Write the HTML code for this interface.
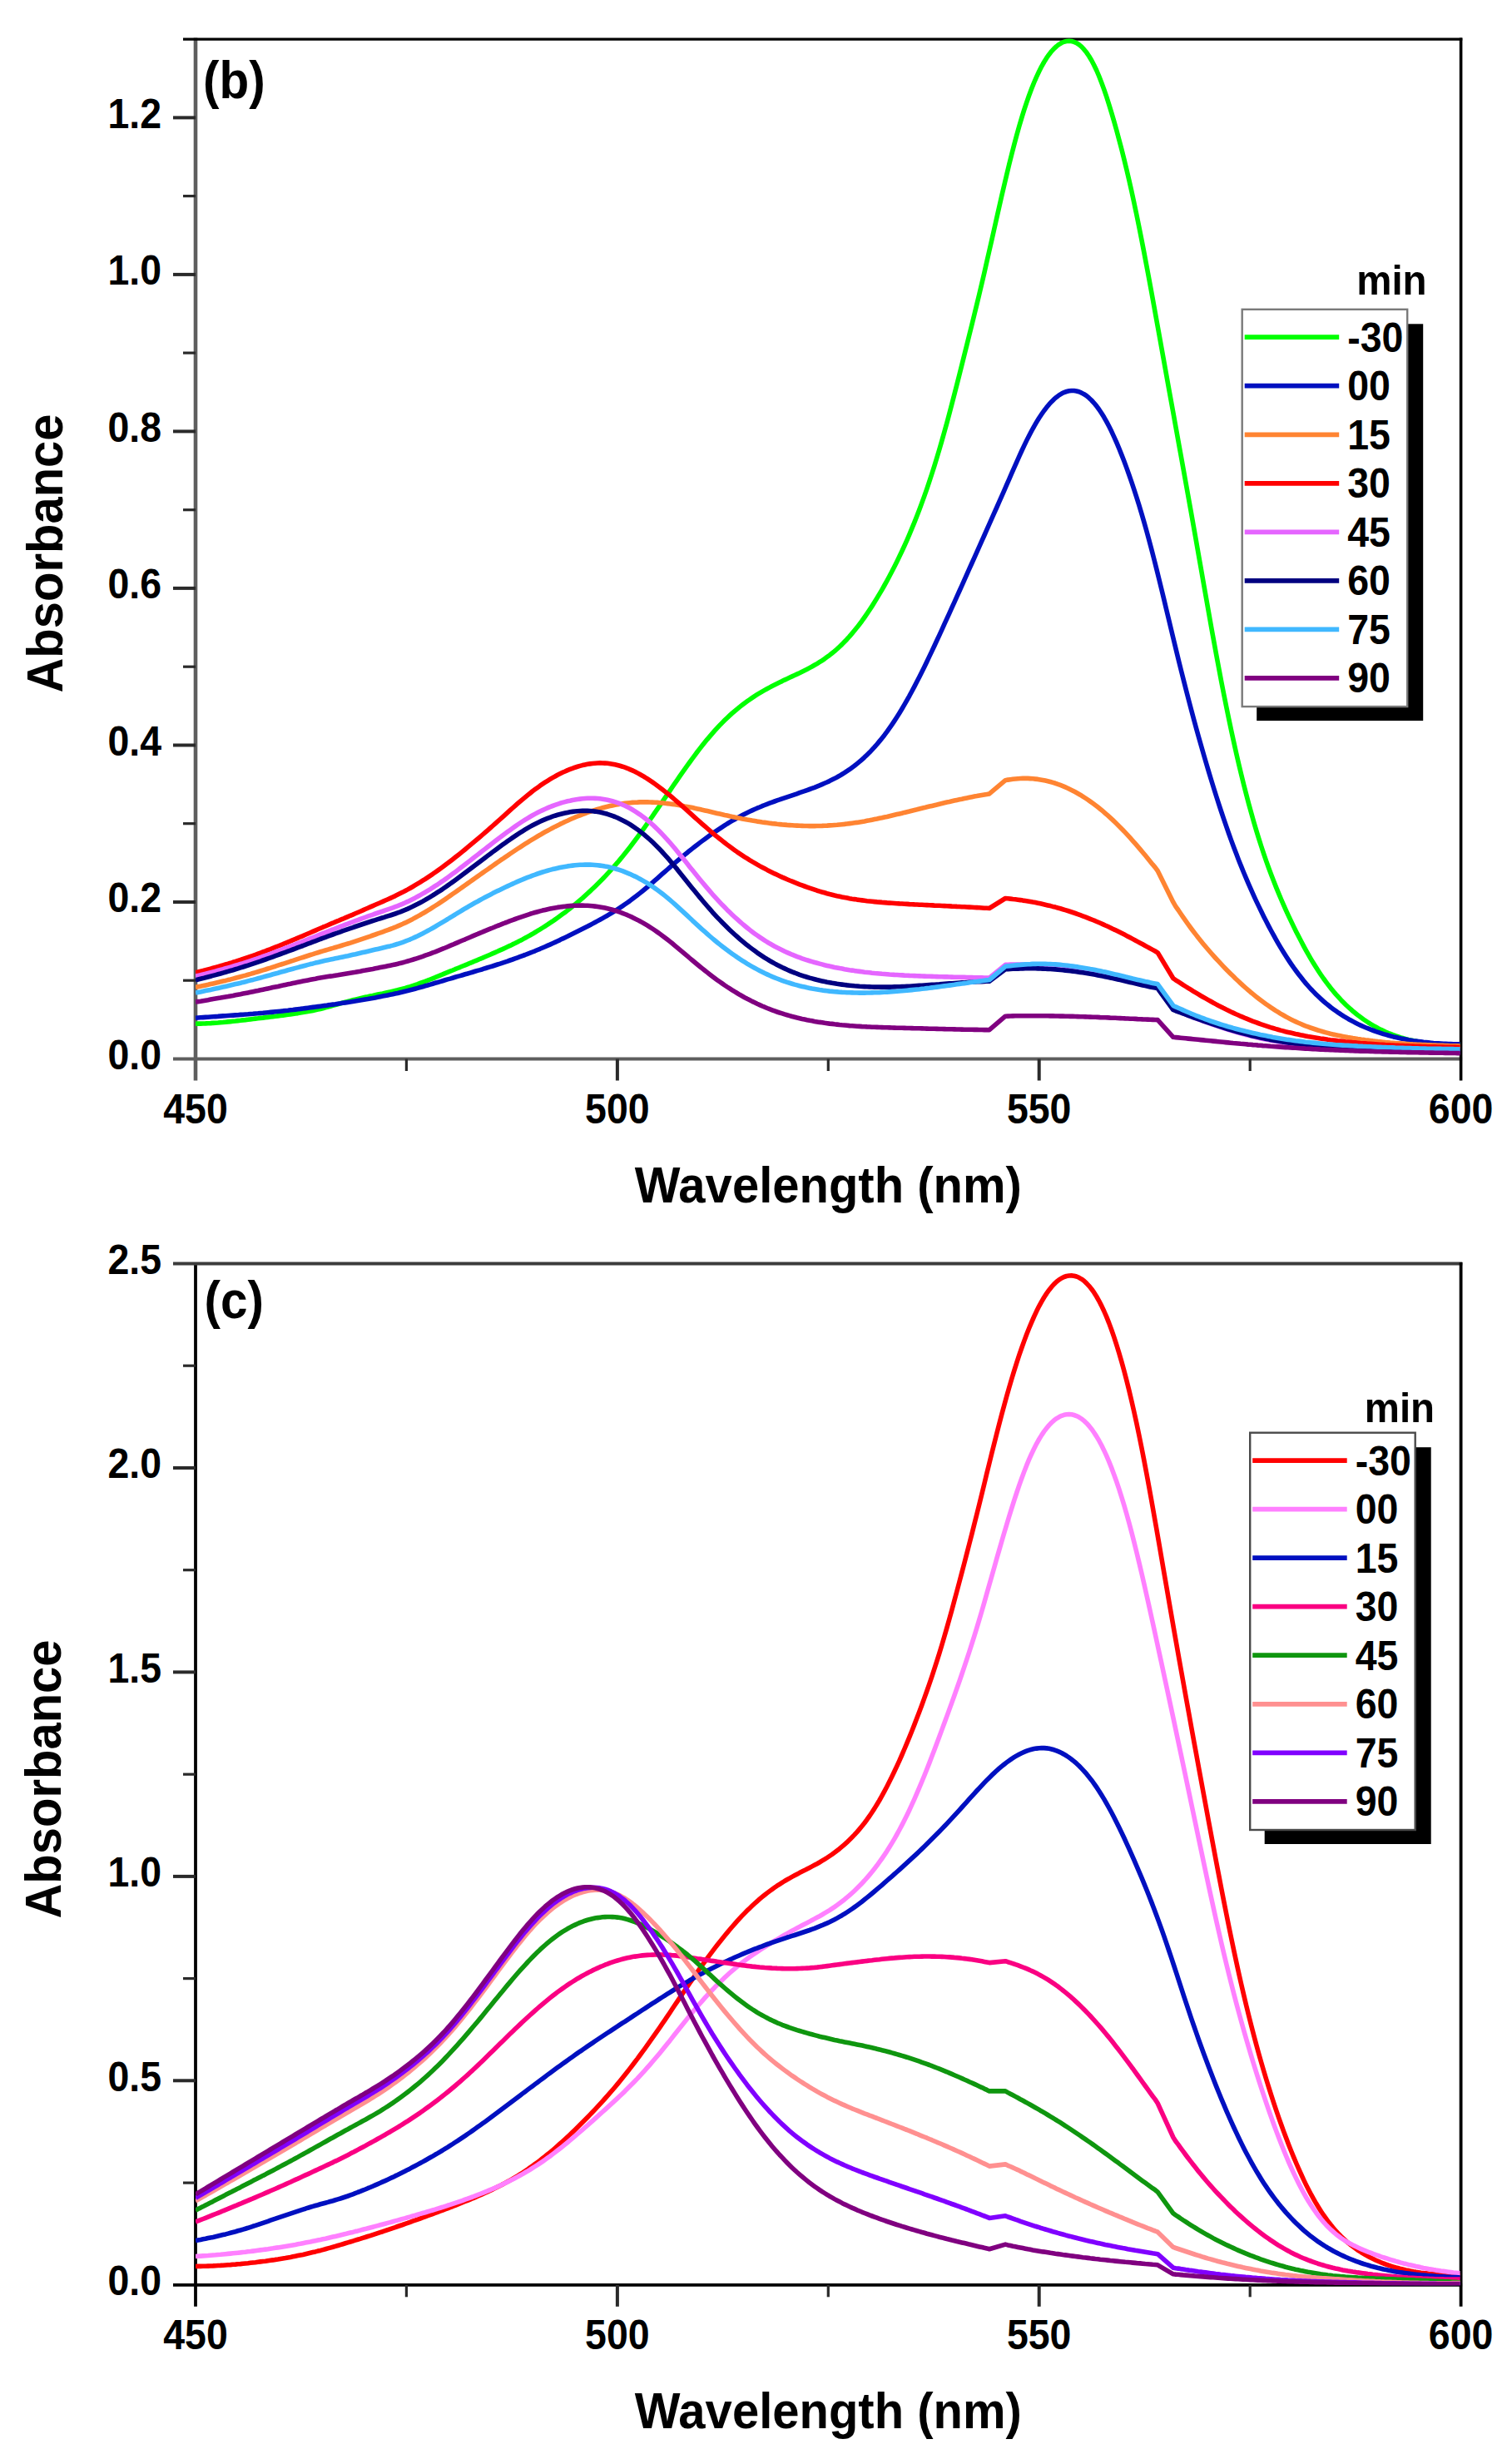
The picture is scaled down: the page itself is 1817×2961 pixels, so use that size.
<!DOCTYPE html>
<html><head><meta charset="utf-8"><title>Absorbance spectra</title>
<style>html,body{margin:0;padding:0;background:#fff}svg{display:block}text{fill:#000}</style></head>
<body>
<svg width="1817" height="2961" viewBox="0 0 1817 2961" font-family="Liberation Sans, Arial, Helvetica, sans-serif" font-weight="bold">
<rect width="1817" height="2961" fill="#fff"/>
<clipPath id="clipb"><rect x="235.0" y="45.6" width="1519.6" height="1227.4"/></clipPath>
<line x1="235.0" y1="45.6" x2="235.0" y2="1298.5" stroke="#5e5e5e" stroke-width="4.6"/>
<line x1="208.0" y1="1272.5" x2="1757.1" y2="1272.5" stroke="#5e5e5e" stroke-width="4.2"/>
<line x1="220.0" y1="47.1" x2="1757.3" y2="47.1" stroke="#000" stroke-width="3.2"/>
<line x1="1755.6" y1="45.6" x2="1755.6" y2="1298.5" stroke="#000" stroke-width="3.6"/>
<text transform="translate(194.0 1284.8) scale(1 1.065)" font-size="46.5" text-anchor="end">0.0</text>
<line x1="208.0" y1="1084.0" x2="235.0" y2="1084.0" stroke="#2a2a2a" stroke-width="4"/>
<text transform="translate(194.0 1096.3) scale(1 1.065)" font-size="46.5" text-anchor="end">0.2</text>
<line x1="208.0" y1="895.5" x2="235.0" y2="895.5" stroke="#2a2a2a" stroke-width="4"/>
<text transform="translate(194.0 907.8) scale(1 1.065)" font-size="46.5" text-anchor="end">0.4</text>
<line x1="208.0" y1="706.9" x2="235.0" y2="706.9" stroke="#2a2a2a" stroke-width="4"/>
<text transform="translate(194.0 719.2) scale(1 1.065)" font-size="46.5" text-anchor="end">0.6</text>
<line x1="208.0" y1="518.4" x2="235.0" y2="518.4" stroke="#2a2a2a" stroke-width="4"/>
<text transform="translate(194.0 530.7) scale(1 1.065)" font-size="46.5" text-anchor="end">0.8</text>
<line x1="208.0" y1="329.9" x2="235.0" y2="329.9" stroke="#2a2a2a" stroke-width="4"/>
<text transform="translate(194.0 342.2) scale(1 1.065)" font-size="46.5" text-anchor="end">1.0</text>
<line x1="208.0" y1="141.4" x2="235.0" y2="141.4" stroke="#2a2a2a" stroke-width="4"/>
<text transform="translate(194.0 153.7) scale(1 1.065)" font-size="46.5" text-anchor="end">1.2</text>
<line x1="220.0" y1="1178.2" x2="235.0" y2="1178.2" stroke="#2a2a2a" stroke-width="3.2"/>
<line x1="220.0" y1="989.7" x2="235.0" y2="989.7" stroke="#2a2a2a" stroke-width="3.2"/>
<line x1="220.0" y1="801.2" x2="235.0" y2="801.2" stroke="#2a2a2a" stroke-width="3.2"/>
<line x1="220.0" y1="612.7" x2="235.0" y2="612.7" stroke="#2a2a2a" stroke-width="3.2"/>
<line x1="220.0" y1="424.1" x2="235.0" y2="424.1" stroke="#2a2a2a" stroke-width="3.2"/>
<line x1="220.0" y1="235.6" x2="235.0" y2="235.6" stroke="#2a2a2a" stroke-width="3.2"/>
<line x1="741.9" y1="1272.5" x2="741.9" y2="1298.5" stroke="#2a2a2a" stroke-width="4"/>
<line x1="1248.7" y1="1272.5" x2="1248.7" y2="1298.5" stroke="#2a2a2a" stroke-width="4"/>
<line x1="488.4" y1="1272.5" x2="488.4" y2="1287.0" stroke="#2a2a2a" stroke-width="3.2"/>
<line x1="995.3" y1="1272.5" x2="995.3" y2="1287.0" stroke="#2a2a2a" stroke-width="3.2"/>
<line x1="1502.2" y1="1272.5" x2="1502.2" y2="1287.0" stroke="#2a2a2a" stroke-width="3.2"/>
<text transform="translate(235.0 1349.5) scale(1 1.065)" font-size="46.5" text-anchor="middle">450</text>
<text transform="translate(741.9 1349.5) scale(1 1.065)" font-size="46.5" text-anchor="middle">500</text>
<text transform="translate(1248.7 1349.5) scale(1 1.065)" font-size="46.5" text-anchor="middle">550</text>
<text transform="translate(1755.6 1349.5) scale(1 1.065)" font-size="46.5" text-anchor="middle">600</text>
<g clip-path="url(#clipb)" fill="none" stroke-width="5.6" stroke-linejoin="round" stroke-linecap="butt">
<path d="M235.0 1230.2 L238.0 1230.1 L241.0 1230.1 L244.0 1230.0 L247.0 1229.9 L250.0 1229.7 L253.0 1229.6 L256.0 1229.4 L259.0 1229.2 L262.0 1229.0 L265.0 1228.7 L268.0 1228.5 L271.0 1228.2 L274.0 1227.9 L277.0 1227.6 L280.0 1227.3 L283.0 1227.0 L286.0 1226.6 L289.0 1226.3 L292.0 1225.9 L295.0 1225.6 L298.0 1225.2 L301.0 1224.9 L304.0 1224.5 L307.0 1224.1 L310.0 1223.8 L313.0 1223.4 L316.0 1223.1 L319.0 1222.7 L322.0 1222.4 L325.0 1222.0 L328.0 1221.6 L331.0 1221.3 L334.0 1220.9 L337.0 1220.5 L340.0 1220.1 L343.0 1219.7 L346.0 1219.3 L349.0 1218.9 L352.0 1218.5 L355.0 1218.0 L358.0 1217.6 L361.0 1217.1 L364.0 1216.6 L367.0 1216.1 L370.0 1215.5 L373.0 1215.0 L376.0 1214.4 L379.0 1213.8 L382.0 1213.1 L385.0 1212.4 L388.0 1211.7 L391.0 1210.9 L394.0 1210.1 L397.0 1209.3 L400.0 1208.4 L403.0 1207.6 L406.0 1206.7 L409.0 1205.9 L412.0 1205.0 L415.0 1204.2 L418.0 1203.4 L421.0 1202.6 L424.0 1201.8 L426.9 1201.1 L429.9 1200.4 L432.9 1199.7 L435.9 1199.0 L438.9 1198.3 L441.9 1197.7 L444.9 1197.0 L447.9 1196.4 L450.9 1195.7 L453.9 1195.1 L456.9 1194.5 L459.9 1193.9 L462.9 1193.2 L465.9 1192.6 L468.9 1191.9 L471.9 1191.2 L474.9 1190.5 L477.9 1189.8 L480.9 1189.0 L483.9 1188.2 L486.9 1187.4 L489.9 1186.5 L492.9 1185.6 L495.9 1184.6 L498.9 1183.6 L501.9 1182.6 L504.9 1181.5 L507.9 1180.4 L510.9 1179.3 L513.9 1178.2 L516.9 1177.0 L519.9 1175.8 L522.9 1174.6 L525.9 1173.3 L528.9 1172.1 L531.9 1170.9 L534.9 1169.6 L537.9 1168.4 L540.9 1167.2 L543.9 1166.0 L546.9 1164.7 L549.9 1163.5 L552.9 1162.3 L555.9 1161.0 L558.9 1159.8 L561.9 1158.6 L564.9 1157.3 L567.9 1156.1 L570.9 1154.8 L573.9 1153.6 L576.9 1152.3 L579.9 1151.1 L582.9 1149.8 L585.9 1148.5 L588.9 1147.2 L591.9 1145.9 L594.9 1144.6 L597.9 1143.3 L600.9 1141.9 L603.9 1140.6 L606.9 1139.2 L609.9 1137.8 L612.9 1136.4 L615.9 1134.9 L618.9 1133.5 L621.9 1132.0 L624.9 1130.4 L627.9 1128.9 L630.9 1127.3 L633.9 1125.6 L636.9 1124.0 L639.9 1122.3 L642.9 1120.5 L645.9 1118.7 L648.9 1116.9 L651.9 1115.0 L654.9 1113.1 L657.9 1111.2 L660.9 1109.2 L663.9 1107.2 L666.9 1105.1 L669.9 1103.0 L672.9 1100.8 L675.9 1098.6 L678.9 1096.4 L681.9 1094.1 L684.9 1091.7 L687.9 1089.3 L690.9 1086.9 L693.9 1084.4 L696.9 1081.8 L699.9 1079.3 L702.9 1076.6 L705.9 1073.9 L708.9 1071.1 L711.9 1068.3 L714.9 1065.4 L717.9 1062.5 L720.9 1059.5 L723.9 1056.5 L726.9 1053.3 L729.9 1050.1 L732.9 1046.9 L735.9 1043.5 L738.9 1040.1 L741.9 1036.7 L744.9 1033.1 L747.9 1029.5 L750.9 1025.8 L753.9 1022.0 L756.9 1018.2 L759.9 1014.3 L762.9 1010.3 L765.9 1006.3 L768.9 1002.2 L771.9 998.1 L774.9 993.9 L777.9 989.6 L780.9 985.4 L783.9 981.1 L786.9 976.7 L789.9 972.4 L792.9 968.0 L795.9 963.6 L798.9 959.2 L801.9 954.8 L804.9 950.4 L807.8 946.0 L810.8 941.6 L813.8 937.3 L816.8 932.9 L819.8 928.6 L822.8 924.4 L825.8 920.1 L828.8 916.0 L831.8 911.9 L834.8 907.8 L837.8 903.8 L840.8 899.9 L843.8 896.1 L846.8 892.3 L849.8 888.6 L852.8 885.1 L855.8 881.6 L858.8 878.2 L861.8 874.9 L864.8 871.7 L867.8 868.6 L870.8 865.6 L873.8 862.7 L876.8 859.9 L879.8 857.2 L882.8 854.6 L885.8 852.1 L888.8 849.6 L891.8 847.3 L894.8 845.0 L897.8 842.8 L900.8 840.7 L903.8 838.6 L906.8 836.6 L909.8 834.7 L912.8 832.9 L915.8 831.1 L918.8 829.4 L921.8 827.7 L924.8 826.1 L927.8 824.5 L930.8 823.0 L933.8 821.5 L936.8 820.0 L939.8 818.6 L942.8 817.1 L945.8 815.7 L948.8 814.3 L951.8 812.9 L954.8 811.5 L957.8 810.1 L960.8 808.7 L963.8 807.2 L966.8 805.7 L969.8 804.2 L972.8 802.6 L975.8 801.0 L978.8 799.3 L981.8 797.6 L984.8 795.7 L987.8 793.8 L990.8 791.8 L993.8 789.6 L996.8 787.4 L999.8 785.0 L1002.8 782.6 L1005.8 780.0 L1008.8 777.2 L1011.8 774.4 L1014.8 771.3 L1017.8 768.2 L1020.8 764.9 L1023.8 761.4 L1026.8 757.8 L1029.8 754.1 L1032.8 750.2 L1035.8 746.2 L1038.8 742.0 L1041.8 737.6 L1044.8 733.2 L1047.8 728.6 L1050.8 723.8 L1053.8 718.9 L1056.8 713.9 L1059.8 708.8 L1062.8 703.5 L1065.8 698.1 L1068.8 692.5 L1071.8 686.8 L1074.8 681.0 L1077.8 675.0 L1080.8 668.8 L1083.8 662.5 L1086.8 656.0 L1089.8 649.3 L1092.8 642.3 L1095.8 635.2 L1098.8 627.9 L1101.8 620.3 L1104.8 612.5 L1107.8 604.4 L1110.8 596.1 L1113.8 587.6 L1116.8 578.7 L1119.8 569.5 L1122.8 560.1 L1125.8 550.3 L1128.8 540.3 L1131.8 529.9 L1134.8 519.3 L1137.8 508.4 L1140.8 497.2 L1143.8 485.8 L1146.8 474.2 L1149.8 462.5 L1152.8 450.7 L1155.8 438.7 L1158.8 426.8 L1161.8 414.8 L1164.8 402.7 L1167.8 390.6 L1170.8 378.4 L1173.8 366.0 L1176.8 353.6 L1179.8 340.9 L1182.8 328.1 L1185.7 315.2 L1188.7 302.0 L1191.7 288.8 L1194.7 275.5 L1197.7 262.1 L1200.7 248.9 L1203.7 235.7 L1206.7 222.8 L1209.7 210.1 L1212.7 197.7 L1215.7 185.6 L1218.7 174.0 L1221.7 162.8 L1224.7 152.1 L1227.7 141.9 L1230.7 132.2 L1233.7 123.1 L1236.7 114.5 L1239.7 106.5 L1242.7 99.0 L1245.7 92.1 L1248.7 85.7 L1251.7 79.8 L1254.7 74.5 L1257.7 69.7 L1260.7 65.4 L1263.7 61.6 L1266.7 58.4 L1269.7 55.6 L1272.7 53.3 L1275.7 51.5 L1278.7 50.2 L1281.7 49.5 L1284.7 49.2 L1287.7 49.5 L1290.7 50.4 L1293.7 51.7 L1296.7 53.7 L1299.7 56.2 L1302.7 59.4 L1305.7 63.1 L1308.7 67.5 L1311.7 72.5 L1314.7 78.2 L1317.7 84.5 L1320.7 91.5 L1323.7 99.2 L1326.7 107.4 L1329.7 116.2 L1332.7 125.6 L1335.7 135.4 L1338.7 145.6 L1341.7 156.3 L1344.7 167.4 L1347.7 178.8 L1350.7 190.8 L1353.7 203.1 L1356.7 215.9 L1359.7 229.2 L1362.7 243.0 L1365.7 257.3 L1368.7 272.0 L1371.7 287.1 L1374.7 302.6 L1377.7 318.4 L1380.7 334.5 L1383.7 350.8 L1386.7 367.3 L1389.7 383.9 L1392.7 400.5 L1395.7 417.2 L1398.7 434.0 L1401.7 450.7 L1404.7 467.4 L1407.7 484.0 L1410.7 500.6 L1413.7 517.3 L1416.7 533.9 L1419.7 550.5 L1422.7 567.2 L1425.7 583.9 L1428.7 600.7 L1431.7 617.6 L1434.7 634.6 L1437.7 651.6 L1440.7 668.7 L1443.7 685.8 L1446.7 703.0 L1449.7 720.1 L1452.7 737.1 L1455.7 753.9 L1458.7 770.6 L1461.7 787.0 L1464.7 803.1 L1467.7 818.9 L1470.7 834.3 L1473.7 849.3 L1476.7 863.9 L1479.7 878.1 L1482.7 891.9 L1485.7 905.3 L1488.7 918.3 L1491.7 930.9 L1494.7 943.1 L1497.7 954.8 L1500.7 966.2 L1503.7 977.1 L1506.7 987.7 L1509.7 997.9 L1512.7 1007.6 L1515.7 1017.0 L1518.7 1026.1 L1521.7 1034.8 L1524.7 1043.2 L1527.7 1051.2 L1530.7 1059.0 L1533.7 1066.6 L1536.7 1073.9 L1539.7 1081.0 L1542.7 1087.9 L1545.7 1094.6 L1548.7 1101.1 L1551.7 1107.4 L1554.7 1113.6 L1557.7 1119.7 L1560.7 1125.6 L1563.7 1131.3 L1566.6 1136.9 L1569.6 1142.4 L1572.6 1147.7 L1575.6 1152.8 L1578.6 1157.8 L1581.6 1162.6 L1584.6 1167.2 L1587.6 1171.7 L1590.6 1176.0 L1593.6 1180.1 L1596.6 1184.1 L1599.6 1187.9 L1602.6 1191.6 L1605.6 1195.1 L1608.6 1198.4 L1611.6 1201.7 L1614.6 1204.7 L1617.6 1207.7 L1620.6 1210.5 L1623.6 1213.2 L1626.6 1215.8 L1629.6 1218.2 L1632.6 1220.6 L1635.6 1222.8 L1638.6 1225.0 L1641.6 1227.0 L1644.6 1229.0 L1647.6 1230.8 L1650.6 1232.6 L1653.6 1234.3 L1656.6 1235.9 L1659.6 1237.4 L1662.6 1238.8 L1665.6 1240.2 L1668.6 1241.5 L1671.6 1242.7 L1674.6 1243.8 L1677.6 1244.9 L1680.6 1245.9 L1683.6 1246.9 L1686.6 1247.8 L1689.6 1248.6 L1692.6 1249.4 L1695.6 1250.1 L1698.6 1250.7 L1701.6 1251.3 L1704.6 1251.9 L1707.6 1252.4 L1710.6 1252.9 L1713.6 1253.3 L1716.6 1253.7 L1719.6 1254.0 L1722.6 1254.3 L1725.6 1254.6 L1728.6 1254.8 L1731.6 1255.0 L1734.6 1255.1 L1737.6 1255.2 L1740.6 1255.3 L1743.6 1255.4 L1746.6 1255.4 L1749.6 1255.3 L1752.6 1255.3 L1755.6 1255.2" stroke="#00ff00"/>
<path d="M235.0 1223.3 L238.0 1223.0 L241.0 1222.8 L244.0 1222.6 L247.0 1222.4 L250.0 1222.2 L253.0 1222.0 L256.0 1221.8 L259.0 1221.6 L262.0 1221.4 L265.0 1221.1 L268.0 1220.9 L271.0 1220.7 L274.0 1220.5 L277.0 1220.3 L280.0 1220.1 L283.0 1219.9 L286.0 1219.7 L289.0 1219.4 L292.0 1219.2 L295.0 1219.0 L298.0 1218.8 L301.0 1218.5 L304.0 1218.3 L307.0 1218.0 L310.0 1217.8 L313.0 1217.5 L316.0 1217.3 L319.0 1217.0 L322.0 1216.7 L325.0 1216.4 L328.0 1216.1 L331.0 1215.8 L334.0 1215.5 L337.0 1215.2 L340.0 1214.9 L343.0 1214.5 L346.0 1214.2 L349.0 1213.8 L352.0 1213.5 L355.0 1213.1 L358.0 1212.7 L361.0 1212.4 L364.0 1212.0 L367.0 1211.6 L370.0 1211.2 L373.0 1210.8 L376.0 1210.4 L379.0 1210.0 L382.0 1209.6 L385.0 1209.2 L388.0 1208.8 L391.0 1208.4 L394.0 1207.9 L397.0 1207.5 L400.0 1207.1 L403.0 1206.7 L406.0 1206.2 L409.0 1205.8 L412.0 1205.3 L415.0 1204.9 L418.0 1204.4 L421.0 1204.0 L424.0 1203.5 L426.9 1203.0 L429.9 1202.5 L432.9 1202.0 L435.9 1201.5 L438.9 1201.0 L441.9 1200.5 L444.9 1199.9 L447.9 1199.4 L450.9 1198.9 L453.9 1198.3 L456.9 1197.7 L459.9 1197.1 L462.9 1196.5 L465.9 1195.9 L468.9 1195.3 L471.9 1194.7 L474.9 1194.0 L477.9 1193.4 L480.9 1192.7 L483.9 1192.0 L486.9 1191.2 L489.9 1190.5 L492.9 1189.7 L495.9 1189.0 L498.9 1188.2 L501.9 1187.4 L504.9 1186.5 L507.9 1185.7 L510.9 1184.8 L513.9 1184.0 L516.9 1183.1 L519.9 1182.2 L522.9 1181.3 L525.9 1180.5 L528.9 1179.6 L531.9 1178.7 L534.9 1177.8 L537.9 1176.9 L540.9 1176.1 L543.9 1175.2 L546.9 1174.3 L549.9 1173.4 L552.9 1172.6 L555.9 1171.7 L558.9 1170.8 L561.9 1170.0 L564.9 1169.1 L567.9 1168.2 L570.9 1167.3 L573.9 1166.4 L576.9 1165.6 L579.9 1164.7 L582.9 1163.7 L585.9 1162.8 L588.9 1161.9 L591.9 1161.0 L594.9 1160.0 L597.9 1159.0 L600.9 1158.1 L603.9 1157.1 L606.9 1156.1 L609.9 1155.1 L612.9 1154.0 L615.9 1153.0 L618.9 1151.9 L621.9 1150.8 L624.9 1149.7 L627.9 1148.6 L630.9 1147.5 L633.9 1146.3 L636.9 1145.2 L639.9 1144.0 L642.9 1142.8 L645.9 1141.5 L648.9 1140.3 L651.9 1139.0 L654.9 1137.7 L657.9 1136.4 L660.9 1135.1 L663.9 1133.7 L666.9 1132.4 L669.9 1131.0 L672.9 1129.6 L675.9 1128.1 L678.9 1126.7 L681.9 1125.3 L684.9 1123.8 L687.9 1122.3 L690.9 1120.8 L693.9 1119.3 L696.9 1117.8 L699.9 1116.3 L702.9 1114.8 L705.9 1113.3 L708.9 1111.7 L711.9 1110.1 L714.9 1108.5 L717.9 1106.9 L720.9 1105.3 L723.9 1103.6 L726.9 1101.9 L729.9 1100.2 L732.9 1098.4 L735.9 1096.6 L738.9 1094.7 L741.9 1092.8 L744.9 1090.9 L747.9 1088.9 L750.9 1086.8 L753.9 1084.7 L756.9 1082.6 L759.9 1080.3 L762.9 1078.1 L765.9 1075.8 L768.9 1073.4 L771.9 1071.0 L774.9 1068.5 L777.9 1066.0 L780.9 1063.4 L783.9 1060.8 L786.9 1058.2 L789.9 1055.6 L792.9 1052.9 L795.9 1050.2 L798.9 1047.6 L801.9 1045.0 L804.9 1042.3 L807.8 1039.7 L810.8 1037.2 L813.8 1034.6 L816.8 1032.1 L819.8 1029.6 L822.8 1027.1 L825.8 1024.7 L828.8 1022.2 L831.8 1019.9 L834.8 1017.5 L837.8 1015.2 L840.8 1012.9 L843.8 1010.6 L846.8 1008.4 L849.8 1006.2 L852.8 1004.0 L855.8 1001.9 L858.8 999.8 L861.8 997.8 L864.8 995.8 L867.8 993.8 L870.8 991.9 L873.8 990.0 L876.8 988.2 L879.8 986.4 L882.8 984.7 L885.8 983.0 L888.8 981.4 L891.8 979.8 L894.8 978.2 L897.8 976.7 L900.8 975.3 L903.8 973.9 L906.8 972.5 L909.8 971.2 L912.8 970.0 L915.8 968.7 L918.8 967.5 L921.8 966.3 L924.8 965.2 L927.8 964.1 L930.8 963.0 L933.8 961.9 L936.8 960.9 L939.8 959.8 L942.8 958.8 L945.8 957.8 L948.8 956.8 L951.8 955.8 L954.8 954.8 L957.8 953.8 L960.8 952.7 L963.8 951.7 L966.8 950.7 L969.8 949.6 L972.8 948.5 L975.8 947.4 L978.8 946.3 L981.8 945.1 L984.8 943.9 L987.8 942.6 L990.8 941.3 L993.8 940.0 L996.8 938.6 L999.8 937.1 L1002.8 935.6 L1005.8 934.0 L1008.8 932.3 L1011.8 930.5 L1014.8 928.7 L1017.8 926.7 L1020.8 924.7 L1023.8 922.5 L1026.8 920.3 L1029.8 917.9 L1032.8 915.4 L1035.8 912.8 L1038.8 910.1 L1041.8 907.2 L1044.8 904.3 L1047.8 901.1 L1050.8 897.9 L1053.8 894.5 L1056.8 890.9 L1059.8 887.2 L1062.8 883.4 L1065.8 879.4 L1068.8 875.2 L1071.8 870.9 L1074.8 866.4 L1077.8 861.8 L1080.8 857.0 L1083.8 852.0 L1086.8 846.9 L1089.8 841.6 L1092.8 836.3 L1095.8 830.7 L1098.8 825.1 L1101.8 819.3 L1104.8 813.4 L1107.8 807.5 L1110.8 801.4 L1113.8 795.2 L1116.8 788.9 L1119.8 782.6 L1122.8 776.2 L1125.8 769.8 L1128.8 763.3 L1131.8 756.8 L1134.8 750.2 L1137.8 743.7 L1140.8 737.1 L1143.8 730.4 L1146.8 723.8 L1149.8 717.2 L1152.8 710.5 L1155.8 703.8 L1158.8 697.1 L1161.8 690.4 L1164.8 683.7 L1167.8 677.0 L1170.8 670.3 L1173.8 663.6 L1176.8 656.9 L1179.8 650.2 L1182.8 643.5 L1185.7 636.8 L1188.7 630.1 L1191.7 623.4 L1194.7 616.7 L1197.7 610.0 L1200.7 603.2 L1203.7 596.4 L1206.7 589.6 L1209.7 582.7 L1212.7 575.8 L1215.7 568.9 L1218.7 562.1 L1221.7 555.3 L1224.7 548.6 L1227.7 542.0 L1230.7 535.6 L1233.7 529.4 L1236.7 523.5 L1239.7 517.8 L1242.7 512.3 L1245.7 507.2 L1248.7 502.3 L1251.7 497.8 L1254.7 493.5 L1257.7 489.6 L1260.7 485.9 L1263.7 482.7 L1266.7 479.7 L1269.7 477.2 L1272.7 474.9 L1275.7 473.1 L1278.7 471.6 L1281.7 470.5 L1284.7 469.8 L1287.7 469.5 L1290.7 469.5 L1293.7 470.0 L1296.7 470.8 L1299.7 472.1 L1302.7 473.7 L1305.7 475.7 L1308.7 478.2 L1311.7 481.0 L1314.7 484.3 L1317.7 487.9 L1320.7 492.0 L1323.7 496.5 L1326.7 501.3 L1329.7 506.6 L1332.7 512.3 L1335.7 518.3 L1338.7 524.8 L1341.7 531.5 L1344.7 538.6 L1347.7 546.1 L1350.7 553.8 L1353.7 561.9 L1356.7 570.2 L1359.7 578.9 L1362.7 587.8 L1365.7 597.1 L1368.7 606.7 L1371.7 616.6 L1374.7 626.9 L1377.7 637.5 L1380.7 648.5 L1383.7 659.8 L1386.7 671.4 L1389.7 683.2 L1392.7 695.3 L1395.7 707.6 L1398.7 720.0 L1401.7 732.6 L1404.7 745.1 L1407.7 757.7 L1410.7 770.1 L1413.7 782.5 L1416.7 794.8 L1419.7 806.9 L1422.7 818.8 L1425.7 830.5 L1428.7 842.1 L1431.7 853.5 L1434.7 864.7 L1437.7 875.7 L1440.7 886.5 L1443.7 897.1 L1446.7 907.6 L1449.7 917.8 L1452.7 927.9 L1455.7 937.8 L1458.7 947.5 L1461.7 957.0 L1464.7 966.4 L1467.7 975.5 L1470.7 984.4 L1473.7 993.2 L1476.7 1001.7 L1479.7 1010.1 L1482.7 1018.2 L1485.7 1026.1 L1488.7 1033.9 L1491.7 1041.4 L1494.7 1048.7 L1497.7 1055.9 L1500.7 1062.9 L1503.7 1069.7 L1506.7 1076.3 L1509.7 1082.8 L1512.7 1089.1 L1515.7 1095.3 L1518.7 1101.4 L1521.7 1107.3 L1524.7 1113.1 L1527.7 1118.7 L1530.7 1124.2 L1533.7 1129.6 L1536.7 1134.8 L1539.7 1139.9 L1542.7 1144.8 L1545.7 1149.5 L1548.7 1154.1 L1551.7 1158.6 L1554.7 1162.9 L1557.7 1167.0 L1560.7 1171.0 L1563.7 1174.8 L1566.6 1178.5 L1569.6 1182.1 L1572.6 1185.5 L1575.6 1188.8 L1578.6 1191.9 L1581.6 1194.9 L1584.6 1197.8 L1587.6 1200.6 L1590.6 1203.3 L1593.6 1205.9 L1596.6 1208.3 L1599.6 1210.7 L1602.6 1212.9 L1605.6 1215.1 L1608.6 1217.2 L1611.6 1219.2 L1614.6 1221.1 L1617.6 1222.9 L1620.6 1224.7 L1623.6 1226.3 L1626.6 1227.9 L1629.6 1229.5 L1632.6 1231.0 L1635.6 1232.4 L1638.6 1233.7 L1641.6 1235.0 L1644.6 1236.2 L1647.6 1237.4 L1650.6 1238.5 L1653.6 1239.6 L1656.6 1240.6 L1659.6 1241.6 L1662.6 1242.6 L1665.6 1243.4 L1668.6 1244.3 L1671.6 1245.1 L1674.6 1245.9 L1677.6 1246.6 L1680.6 1247.3 L1683.6 1247.9 L1686.6 1248.5 L1689.6 1249.1 L1692.6 1249.7 L1695.6 1250.2 L1698.6 1250.7 L1701.6 1251.1 L1704.6 1251.5 L1707.6 1251.9 L1710.6 1252.3 L1713.6 1252.6 L1716.6 1252.9 L1719.6 1253.2 L1722.6 1253.5 L1725.6 1253.7 L1728.6 1253.9 L1731.6 1254.1 L1734.6 1254.3 L1737.6 1254.4 L1740.6 1254.5 L1743.6 1254.6 L1746.6 1254.7 L1749.6 1254.8 L1752.6 1254.8 L1755.6 1254.8" stroke="#0010c0"/>
<path d="M235.0 1186.5 L238.0 1185.8 L241.0 1185.2 L244.0 1184.6 L247.0 1183.9 L250.0 1183.3 L253.0 1182.6 L256.0 1181.9 L259.0 1181.2 L262.0 1180.5 L265.0 1179.8 L268.0 1179.1 L271.0 1178.4 L274.0 1177.6 L277.0 1176.9 L280.0 1176.1 L283.0 1175.3 L286.0 1174.5 L289.0 1173.7 L292.0 1172.9 L295.0 1172.1 L298.0 1171.2 L301.0 1170.4 L304.0 1169.5 L307.0 1168.6 L310.0 1167.7 L313.0 1166.8 L316.0 1165.9 L319.0 1165.0 L322.0 1164.0 L325.0 1163.1 L328.0 1162.1 L331.0 1161.2 L334.0 1160.2 L337.0 1159.2 L340.0 1158.3 L343.0 1157.3 L346.0 1156.3 L349.0 1155.3 L352.0 1154.4 L355.0 1153.4 L358.0 1152.4 L361.0 1151.4 L364.0 1150.5 L367.0 1149.5 L370.0 1148.5 L373.0 1147.5 L376.0 1146.6 L379.0 1145.6 L382.0 1144.7 L385.0 1143.8 L388.0 1142.9 L391.0 1142.0 L394.0 1141.1 L397.0 1140.2 L400.0 1139.4 L403.0 1138.5 L406.0 1137.6 L409.0 1136.7 L412.0 1135.8 L415.0 1134.9 L418.0 1134.0 L421.0 1133.1 L424.0 1132.1 L427.0 1131.1 L430.0 1130.1 L433.0 1129.1 L436.0 1128.1 L439.0 1127.1 L442.0 1126.1 L445.0 1125.1 L448.0 1124.0 L451.0 1123.0 L454.0 1121.9 L457.0 1120.9 L460.0 1119.8 L463.0 1118.7 L466.0 1117.6 L469.0 1116.5 L472.0 1115.4 L475.0 1114.2 L478.0 1112.9 L481.0 1111.6 L484.0 1110.3 L487.0 1108.9 L490.0 1107.4 L493.0 1105.9 L496.0 1104.4 L499.0 1102.8 L502.0 1101.1 L505.0 1099.5 L508.0 1097.7 L511.0 1096.0 L514.0 1094.2 L517.0 1092.3 L520.0 1090.4 L523.0 1088.5 L526.0 1086.6 L529.0 1084.6 L532.0 1082.6 L535.0 1080.6 L538.0 1078.5 L541.0 1076.4 L544.0 1074.3 L547.0 1072.2 L550.0 1070.1 L553.0 1068.0 L556.0 1065.9 L559.0 1063.7 L562.0 1061.6 L565.0 1059.5 L568.0 1057.4 L571.0 1055.2 L574.0 1053.1 L577.0 1051.0 L580.0 1048.9 L583.0 1046.8 L586.0 1044.7 L589.0 1042.6 L592.0 1040.5 L595.0 1038.4 L598.0 1036.3 L601.0 1034.2 L604.0 1032.2 L607.0 1030.1 L610.0 1028.1 L613.0 1026.0 L616.0 1024.0 L619.0 1022.0 L622.0 1020.0 L625.0 1018.1 L628.0 1016.1 L631.0 1014.2 L634.0 1012.3 L637.0 1010.4 L640.0 1008.6 L643.0 1006.8 L646.0 1005.0 L649.0 1003.3 L652.0 1001.5 L655.0 999.8 L658.0 998.2 L661.0 996.6 L664.0 995.0 L667.0 993.4 L670.0 991.9 L673.0 990.4 L676.0 989.0 L679.0 987.5 L682.0 986.2 L685.0 984.8 L688.0 983.5 L691.0 982.2 L694.0 981.0 L697.0 979.8 L700.0 978.6 L703.0 977.5 L706.0 976.4 L709.0 975.4 L712.0 974.4 L715.0 973.4 L718.0 972.5 L721.0 971.6 L724.0 970.8 L727.0 970.0 L730.0 969.3 L733.0 968.6 L736.0 967.9 L739.0 967.3 L742.0 966.8 L745.0 966.2 L748.0 965.8 L751.0 965.4 L754.0 965.0 L757.0 964.7 L760.0 964.4 L763.0 964.2 L766.0 964.1 L769.0 963.9 L772.0 963.9 L775.0 963.9 L778.0 963.9 L781.0 964.0 L784.0 964.1 L787.0 964.2 L790.0 964.4 L793.0 964.7 L796.0 964.9 L799.0 965.3 L802.0 965.6 L805.0 966.0 L808.0 966.4 L811.0 966.8 L814.0 967.3 L817.0 967.8 L820.0 968.3 L823.0 968.9 L826.0 969.4 L829.0 970.0 L832.0 970.6 L835.0 971.3 L838.0 971.9 L841.0 972.6 L844.0 973.3 L847.0 973.9 L850.0 974.6 L853.0 975.3 L855.9 976.0 L858.9 976.7 L861.9 977.4 L864.9 978.1 L867.9 978.8 L870.9 979.5 L873.9 980.1 L876.9 980.8 L879.9 981.4 L882.9 982.1 L885.9 982.7 L888.9 983.3 L891.9 983.9 L894.9 984.4 L897.9 985.0 L900.9 985.5 L903.9 986.1 L906.9 986.6 L909.9 987.1 L912.9 987.5 L915.9 988.0 L918.9 988.4 L921.9 988.8 L924.9 989.2 L927.9 989.6 L930.9 989.9 L933.9 990.3 L936.9 990.6 L939.9 990.9 L942.9 991.1 L945.9 991.4 L948.9 991.6 L951.9 991.8 L954.9 992.0 L957.9 992.1 L960.9 992.3 L963.9 992.4 L966.9 992.5 L969.9 992.5 L972.9 992.6 L975.9 992.6 L978.9 992.6 L981.9 992.5 L984.9 992.5 L987.9 992.4 L990.9 992.2 L993.9 992.1 L996.9 991.9 L999.9 991.7 L1002.9 991.5 L1005.9 991.3 L1008.9 991.0 L1011.9 990.7 L1014.9 990.4 L1017.9 990.0 L1020.9 989.6 L1023.9 989.2 L1026.9 988.8 L1029.9 988.4 L1032.9 987.9 L1035.9 987.4 L1038.9 986.9 L1041.9 986.3 L1044.9 985.8 L1047.9 985.2 L1050.9 984.6 L1053.9 984.0 L1056.9 983.3 L1059.9 982.7 L1062.9 982.0 L1065.9 981.4 L1068.9 980.7 L1071.9 980.0 L1074.9 979.3 L1077.9 978.6 L1080.9 977.9 L1083.9 977.2 L1086.9 976.4 L1089.9 975.7 L1092.9 975.0 L1095.9 974.2 L1098.9 973.5 L1101.9 972.8 L1104.9 972.0 L1107.9 971.3 L1110.9 970.6 L1113.9 969.8 L1116.9 969.1 L1119.9 968.4 L1122.9 967.7 L1125.9 967.0 L1128.9 966.2 L1131.9 965.5 L1134.9 964.8 L1137.9 964.1 L1140.9 963.5 L1143.9 962.8 L1146.9 962.1 L1149.9 961.4 L1152.9 960.8 L1155.9 960.2 L1158.9 959.5 L1161.9 958.9 L1164.9 958.3 L1167.9 957.7 L1170.9 957.1 L1173.9 956.6 L1176.9 956.0 L1179.9 955.5 L1182.9 955.0 L1185.9 954.5 L1188.9 953.9 L1208.2 937.7 L1211.2 937.1 L1214.2 936.7 L1217.2 936.3 L1220.2 936.0 L1223.2 935.7 L1226.2 935.5 L1229.2 935.4 L1232.2 935.4 L1235.2 935.4 L1238.2 935.6 L1241.2 935.8 L1244.2 936.1 L1247.2 936.4 L1250.2 936.9 L1253.2 937.4 L1256.2 938.0 L1259.2 938.7 L1262.2 939.5 L1265.2 940.4 L1268.2 941.3 L1271.2 942.3 L1274.2 943.4 L1277.2 944.6 L1280.2 945.9 L1283.2 947.2 L1286.2 948.7 L1289.2 950.2 L1292.2 951.8 L1295.2 953.5 L1298.2 955.2 L1301.2 957.1 L1304.2 959.0 L1307.2 961.0 L1310.2 963.1 L1313.2 965.3 L1316.2 967.5 L1319.2 969.8 L1322.2 972.2 L1325.2 974.7 L1328.2 977.3 L1331.2 979.9 L1334.2 982.6 L1337.2 985.4 L1340.2 988.3 L1343.2 991.2 L1346.2 994.2 L1349.2 997.3 L1352.2 1000.4 L1355.2 1003.6 L1358.2 1006.9 L1361.2 1010.3 L1364.2 1013.7 L1367.2 1017.1 L1370.2 1020.6 L1373.2 1024.2 L1376.2 1027.8 L1379.2 1031.5 L1382.2 1035.2 L1385.2 1038.9 L1388.2 1042.4 L1391.2 1046.5 L1409.9 1084.2 L1412.9 1089.3 L1415.9 1093.5 L1418.9 1098.0 L1421.9 1102.4 L1424.9 1106.7 L1427.9 1110.9 L1430.9 1115.0 L1433.9 1119.0 L1436.9 1122.9 L1439.9 1126.8 L1442.9 1130.5 L1445.9 1134.2 L1448.9 1137.8 L1451.9 1141.3 L1454.9 1144.8 L1457.9 1148.2 L1460.9 1151.5 L1463.9 1154.7 L1466.9 1157.9 L1469.9 1161.1 L1472.9 1164.2 L1475.9 1167.2 L1478.9 1170.2 L1481.9 1173.1 L1484.8 1176.0 L1487.8 1178.8 L1490.8 1181.6 L1493.8 1184.3 L1496.8 1187.0 L1499.8 1189.6 L1502.8 1192.2 L1505.8 1194.6 L1508.8 1197.1 L1511.8 1199.5 L1514.8 1201.8 L1517.8 1204.0 L1520.8 1206.2 L1523.8 1208.3 L1526.8 1210.4 L1529.8 1212.4 L1532.8 1214.4 L1535.8 1216.2 L1538.8 1218.1 L1541.8 1219.8 L1544.8 1221.5 L1547.8 1223.1 L1550.8 1224.7 L1553.8 1226.2 L1556.8 1227.6 L1559.8 1229.0 L1562.8 1230.3 L1565.8 1231.6 L1568.8 1232.8 L1571.8 1233.9 L1574.8 1235.0 L1577.8 1236.0 L1580.8 1237.0 L1583.8 1238.0 L1586.8 1238.9 L1589.8 1239.8 L1592.7 1240.6 L1595.7 1241.4 L1598.7 1242.2 L1601.7 1242.9 L1604.7 1243.6 L1607.7 1244.2 L1610.7 1244.8 L1613.7 1245.4 L1616.7 1246.0 L1619.7 1246.6 L1622.7 1247.1 L1625.7 1247.6 L1628.7 1248.0 L1631.7 1248.5 L1634.7 1248.9 L1637.7 1249.4 L1640.7 1249.8 L1643.7 1250.1 L1646.7 1250.5 L1649.7 1250.9 L1652.7 1251.2 L1655.7 1251.6 L1658.7 1251.9 L1661.7 1252.2 L1664.7 1252.5 L1667.7 1252.7 L1670.7 1253.0 L1673.7 1253.2 L1676.7 1253.5 L1679.7 1253.7 L1682.7 1253.9 L1685.7 1254.1 L1688.7 1254.3 L1691.7 1254.5 L1694.7 1254.7 L1697.7 1254.9 L1700.7 1255.0 L1703.6 1255.2 L1706.6 1255.3 L1709.6 1255.5 L1712.6 1255.6 L1715.6 1255.7 L1718.6 1255.8 L1721.6 1256.0 L1724.6 1256.1 L1727.6 1256.2 L1730.6 1256.3 L1733.6 1256.4 L1736.6 1256.5 L1739.6 1256.6 L1742.6 1256.7 L1745.6 1256.8 L1748.6 1256.9 L1751.6 1256.9 L1754.6 1257.0 L1755.6 1257.1" stroke="#ff8432"/>
<path d="M235.0 1168.8 L238.0 1167.9 L241.0 1167.2 L244.0 1166.5 L247.0 1165.7 L250.0 1164.9 L253.0 1164.1 L256.0 1163.3 L259.0 1162.5 L262.0 1161.6 L265.0 1160.8 L268.0 1159.9 L271.0 1159.0 L274.0 1158.2 L277.0 1157.3 L280.0 1156.3 L283.0 1155.4 L286.0 1154.4 L289.0 1153.5 L292.0 1152.5 L295.0 1151.5 L298.0 1150.5 L301.0 1149.4 L304.0 1148.4 L307.0 1147.3 L310.0 1146.2 L313.0 1145.1 L316.0 1144.0 L319.0 1142.9 L322.0 1141.7 L325.0 1140.6 L328.0 1139.4 L331.0 1138.2 L334.0 1137.0 L337.0 1135.8 L340.0 1134.6 L343.0 1133.3 L346.0 1132.1 L349.0 1130.9 L352.0 1129.6 L355.0 1128.4 L358.0 1127.1 L361.0 1125.8 L364.0 1124.6 L367.0 1123.3 L370.0 1122.0 L373.0 1120.7 L376.0 1119.4 L379.0 1118.1 L382.0 1116.8 L385.0 1115.5 L388.0 1114.2 L391.0 1113.0 L394.0 1111.7 L397.0 1110.4 L400.0 1109.2 L403.0 1107.9 L406.0 1106.7 L409.0 1105.4 L412.0 1104.2 L415.0 1102.9 L418.0 1101.6 L421.0 1100.3 L424.0 1099.1 L427.0 1097.8 L430.0 1096.5 L433.0 1095.2 L436.0 1093.9 L439.0 1092.5 L442.0 1091.2 L445.0 1089.9 L448.0 1088.6 L451.0 1087.3 L454.0 1086.0 L457.0 1084.7 L460.0 1083.4 L463.0 1082.0 L466.0 1080.7 L469.0 1079.4 L472.0 1078.0 L475.0 1076.6 L478.0 1075.1 L481.0 1073.6 L484.0 1072.1 L487.0 1070.5 L490.0 1068.9 L493.0 1067.2 L496.0 1065.5 L499.0 1063.7 L502.0 1061.9 L505.0 1060.1 L508.0 1058.2 L511.0 1056.3 L514.0 1054.3 L517.0 1052.3 L520.0 1050.3 L523.0 1048.2 L526.0 1046.1 L529.0 1043.9 L532.0 1041.8 L535.0 1039.5 L538.0 1037.3 L541.0 1035.0 L544.0 1032.7 L547.0 1030.3 L550.0 1028.0 L553.0 1025.6 L556.0 1023.1 L559.0 1020.7 L562.0 1018.2 L565.0 1015.7 L568.0 1013.2 L571.0 1010.7 L574.0 1008.1 L577.0 1005.6 L580.0 1003.0 L583.0 1000.4 L586.0 997.8 L589.0 995.1 L592.0 992.5 L595.0 989.8 L598.0 987.2 L601.0 984.5 L604.0 981.8 L607.0 979.1 L610.0 976.4 L613.0 973.7 L616.0 971.0 L619.0 968.4 L622.0 965.7 L625.0 963.1 L628.0 960.6 L631.0 958.1 L634.0 955.6 L637.0 953.2 L640.0 950.8 L643.0 948.6 L646.0 946.4 L649.0 944.2 L652.0 942.2 L655.0 940.2 L658.0 938.3 L661.0 936.4 L664.0 934.6 L667.0 933.0 L670.0 931.3 L673.0 929.8 L676.0 928.3 L679.0 927.0 L682.0 925.6 L685.0 924.4 L688.0 923.3 L691.0 922.2 L694.0 921.3 L697.0 920.4 L700.0 919.6 L703.0 918.9 L706.0 918.3 L709.0 917.9 L712.0 917.5 L715.0 917.2 L718.0 917.0 L721.0 916.9 L724.0 917.0 L727.0 917.1 L730.0 917.3 L733.0 917.7 L736.0 918.2 L739.0 918.8 L742.0 919.5 L745.0 920.3 L748.0 921.2 L751.0 922.2 L754.0 923.3 L757.0 924.6 L760.0 925.9 L763.0 927.3 L766.0 928.9 L769.0 930.5 L772.0 932.2 L775.0 934.0 L778.0 935.9 L781.0 937.9 L784.0 939.9 L787.0 942.0 L790.0 944.2 L793.0 946.4 L796.0 948.7 L799.0 951.1 L802.0 953.5 L805.0 955.9 L808.0 958.4 L811.0 961.0 L814.0 963.6 L817.0 966.2 L820.0 968.8 L823.0 971.5 L826.0 974.2 L829.0 976.9 L832.0 979.6 L835.0 982.3 L838.0 985.0 L841.0 987.6 L844.0 990.3 L847.0 992.9 L850.0 995.5 L853.0 998.1 L855.9 1000.6 L858.9 1003.2 L861.9 1005.6 L864.9 1008.0 L867.9 1010.4 L870.9 1012.8 L873.9 1015.1 L876.9 1017.3 L879.9 1019.5 L882.9 1021.7 L885.9 1023.8 L888.9 1025.8 L891.9 1027.8 L894.9 1029.8 L897.9 1031.7 L900.9 1033.6 L903.9 1035.4 L906.9 1037.1 L909.9 1038.9 L912.9 1040.6 L915.9 1042.2 L918.9 1043.8 L921.9 1045.4 L924.9 1046.9 L927.9 1048.4 L930.9 1049.9 L933.9 1051.3 L936.9 1052.7 L939.9 1054.1 L942.9 1055.4 L945.9 1056.7 L948.9 1058.0 L951.9 1059.2 L954.9 1060.4 L957.9 1061.6 L960.9 1062.8 L963.9 1063.9 L966.9 1065.0 L969.9 1066.1 L972.9 1067.2 L975.9 1068.2 L978.9 1069.2 L981.9 1070.2 L984.9 1071.1 L987.9 1072.0 L990.9 1072.8 L993.9 1073.7 L996.9 1074.5 L999.9 1075.2 L1002.9 1076.0 L1005.9 1076.7 L1008.9 1077.3 L1011.9 1078.0 L1014.9 1078.6 L1017.9 1079.1 L1020.9 1079.7 L1023.9 1080.2 L1026.9 1080.6 L1029.9 1081.1 L1032.9 1081.5 L1035.9 1081.9 L1038.9 1082.3 L1041.9 1082.7 L1044.9 1083.0 L1047.9 1083.3 L1050.9 1083.6 L1053.9 1083.9 L1056.9 1084.1 L1059.9 1084.4 L1062.9 1084.6 L1065.9 1084.9 L1068.9 1085.1 L1071.9 1085.3 L1074.9 1085.5 L1077.9 1085.7 L1080.9 1085.9 L1083.9 1086.0 L1086.9 1086.2 L1089.9 1086.4 L1092.9 1086.6 L1095.9 1086.7 L1098.9 1086.9 L1101.9 1087.0 L1104.9 1087.2 L1107.9 1087.3 L1110.9 1087.5 L1113.9 1087.6 L1116.9 1087.8 L1119.9 1087.9 L1122.9 1088.1 L1125.9 1088.2 L1128.9 1088.3 L1131.9 1088.5 L1134.9 1088.6 L1137.9 1088.8 L1140.9 1088.9 L1143.9 1089.1 L1146.9 1089.2 L1149.9 1089.4 L1152.9 1089.5 L1155.9 1089.7 L1158.9 1089.8 L1161.9 1090.0 L1164.9 1090.1 L1167.9 1090.3 L1170.9 1090.5 L1173.9 1090.6 L1176.9 1090.8 L1179.9 1091.0 L1182.9 1091.2 L1185.9 1091.3 L1188.9 1091.5 L1208.2 1079.5 L1211.2 1079.8 L1214.2 1080.1 L1217.2 1080.5 L1220.2 1080.8 L1223.2 1081.2 L1226.2 1081.6 L1229.2 1082.1 L1232.2 1082.5 L1235.2 1083.0 L1238.2 1083.5 L1241.2 1084.1 L1244.2 1084.6 L1247.2 1085.2 L1250.2 1085.8 L1253.2 1086.5 L1256.2 1087.2 L1259.2 1087.9 L1262.2 1088.6 L1265.2 1089.4 L1268.2 1090.1 L1271.2 1091.0 L1274.2 1091.8 L1277.2 1092.7 L1280.2 1093.6 L1283.2 1094.5 L1286.2 1095.5 L1289.2 1096.5 L1292.2 1097.5 L1295.2 1098.6 L1298.2 1099.7 L1301.2 1100.8 L1304.2 1101.9 L1307.2 1103.1 L1310.2 1104.3 L1313.2 1105.5 L1316.2 1106.7 L1319.2 1108.0 L1322.2 1109.3 L1325.2 1110.6 L1328.2 1112.0 L1331.2 1113.3 L1334.2 1114.7 L1337.2 1116.2 L1340.2 1117.6 L1343.2 1119.1 L1346.2 1120.6 L1349.2 1122.1 L1352.2 1123.6 L1355.2 1125.2 L1358.2 1126.8 L1361.2 1128.4 L1364.2 1130.0 L1367.2 1131.6 L1370.2 1133.2 L1373.2 1134.8 L1376.2 1136.5 L1379.2 1138.1 L1382.2 1139.8 L1385.2 1141.4 L1388.2 1143.0 L1391.2 1144.8 L1409.9 1175.7 L1412.9 1177.8 L1415.9 1179.7 L1418.9 1181.6 L1421.9 1183.6 L1424.9 1185.5 L1427.9 1187.4 L1430.9 1189.2 L1433.9 1191.1 L1436.9 1192.9 L1439.9 1194.7 L1442.9 1196.5 L1445.9 1198.2 L1448.9 1199.9 L1451.9 1201.6 L1454.9 1203.3 L1457.9 1205.0 L1460.9 1206.6 L1463.9 1208.2 L1466.9 1209.7 L1469.9 1211.3 L1472.9 1212.8 L1475.9 1214.2 L1478.9 1215.7 L1481.9 1217.1 L1484.8 1218.5 L1487.8 1219.8 L1490.8 1221.2 L1493.8 1222.4 L1496.8 1223.7 L1499.8 1224.9 L1502.8 1226.1 L1505.8 1227.3 L1508.8 1228.4 L1511.8 1229.5 L1514.8 1230.6 L1517.8 1231.6 L1520.8 1232.6 L1523.8 1233.6 L1526.8 1234.6 L1529.8 1235.5 L1532.8 1236.4 L1535.8 1237.2 L1538.8 1238.1 L1541.8 1238.9 L1544.8 1239.7 L1547.8 1240.4 L1550.8 1241.1 L1553.8 1241.8 L1556.8 1242.5 L1559.8 1243.1 L1562.8 1243.8 L1565.8 1244.3 L1568.8 1244.9 L1571.8 1245.5 L1574.8 1246.0 L1577.8 1246.5 L1580.8 1247.0 L1583.8 1247.5 L1586.8 1248.0 L1589.8 1248.4 L1592.7 1248.8 L1595.7 1249.3 L1598.7 1249.7 L1601.7 1250.0 L1604.7 1250.4 L1607.7 1250.8 L1610.7 1251.1 L1613.7 1251.4 L1616.7 1251.8 L1619.7 1252.1 L1622.7 1252.4 L1625.7 1252.7 L1628.7 1252.9 L1631.7 1253.2 L1634.7 1253.5 L1637.7 1253.7 L1640.7 1253.9 L1643.7 1254.2 L1646.7 1254.4 L1649.7 1254.6 L1652.7 1254.8 L1655.7 1255.0 L1658.7 1255.2 L1661.7 1255.4 L1664.7 1255.6 L1667.7 1255.7 L1670.7 1255.9 L1673.7 1256.0 L1676.7 1256.2 L1679.7 1256.3 L1682.7 1256.5 L1685.7 1256.6 L1688.7 1256.7 L1691.7 1256.8 L1694.7 1257.0 L1697.7 1257.1 L1700.7 1257.2 L1703.6 1257.3 L1706.6 1257.4 L1709.6 1257.5 L1712.6 1257.6 L1715.6 1257.7 L1718.6 1257.7 L1721.6 1257.8 L1724.6 1257.9 L1727.6 1258.0 L1730.6 1258.0 L1733.6 1258.1 L1736.6 1258.2 L1739.6 1258.2 L1742.6 1258.3 L1745.6 1258.4 L1748.6 1258.4 L1751.6 1258.5 L1754.6 1258.5 L1755.6 1258.5" stroke="#ff0000"/>
<path d="M235.0 1173.2 L238.0 1172.5 L241.0 1171.8 L244.0 1171.0 L247.0 1170.3 L250.0 1169.5 L253.0 1168.7 L256.0 1167.9 L259.0 1167.1 L262.0 1166.3 L265.0 1165.5 L268.0 1164.7 L271.0 1163.8 L274.0 1163.0 L277.0 1162.1 L280.0 1161.2 L283.0 1160.3 L286.0 1159.4 L289.0 1158.5 L292.0 1157.6 L295.0 1156.6 L298.0 1155.6 L301.0 1154.7 L304.0 1153.7 L307.0 1152.6 L310.0 1151.6 L313.0 1150.6 L316.0 1149.5 L319.0 1148.4 L322.0 1147.4 L325.0 1146.3 L328.0 1145.2 L331.0 1144.0 L334.0 1142.9 L337.0 1141.8 L340.0 1140.6 L343.0 1139.5 L346.0 1138.4 L349.0 1137.2 L352.0 1136.0 L355.0 1134.9 L358.0 1133.7 L361.0 1132.5 L364.0 1131.3 L367.0 1130.1 L370.0 1128.9 L373.0 1127.7 L376.0 1126.5 L379.0 1125.3 L382.0 1124.1 L385.0 1122.9 L388.0 1121.7 L391.0 1120.5 L394.0 1119.3 L397.0 1118.1 L400.0 1117.0 L403.0 1115.8 L406.0 1114.6 L409.0 1113.5 L412.0 1112.4 L415.0 1111.2 L418.0 1110.1 L421.0 1109.0 L424.0 1107.8 L427.0 1106.7 L430.0 1105.6 L433.0 1104.5 L436.0 1103.4 L439.0 1102.3 L442.0 1101.2 L445.0 1100.1 L448.0 1099.1 L451.0 1098.0 L454.0 1097.0 L457.0 1096.0 L460.0 1095.0 L463.0 1093.9 L466.0 1092.9 L469.0 1091.9 L472.0 1090.8 L475.0 1089.7 L478.0 1088.6 L481.0 1087.3 L484.0 1086.1 L487.0 1084.8 L490.0 1083.4 L493.0 1081.9 L496.0 1080.4 L499.0 1078.9 L502.0 1077.3 L505.0 1075.6 L508.0 1073.9 L511.0 1072.2 L514.0 1070.4 L517.0 1068.6 L520.0 1066.7 L523.0 1064.7 L526.0 1062.8 L529.0 1060.7 L532.0 1058.7 L535.0 1056.6 L538.0 1054.5 L541.0 1052.3 L544.0 1050.1 L547.0 1047.9 L550.0 1045.6 L553.0 1043.3 L556.0 1041.1 L559.0 1038.8 L562.0 1036.4 L565.0 1034.1 L568.0 1031.8 L571.0 1029.4 L574.0 1027.1 L577.0 1024.8 L580.0 1022.4 L583.0 1020.1 L586.0 1017.8 L589.0 1015.5 L592.0 1013.1 L595.0 1010.8 L598.0 1008.5 L601.0 1006.3 L604.0 1004.0 L607.0 1001.8 L610.0 999.6 L613.0 997.4 L616.0 995.2 L619.0 993.1 L622.0 991.0 L625.0 989.0 L628.0 987.0 L631.0 985.1 L634.0 983.3 L637.0 981.5 L640.0 979.8 L643.0 978.1 L646.0 976.5 L649.0 975.0 L652.0 973.6 L655.0 972.2 L658.0 970.9 L661.0 969.6 L664.0 968.5 L667.0 967.4 L670.0 966.3 L673.0 965.3 L676.0 964.4 L679.0 963.6 L682.0 962.8 L685.0 962.2 L688.0 961.5 L691.0 961.0 L694.0 960.5 L697.0 960.1 L700.0 959.8 L703.0 959.5 L706.0 959.3 L709.0 959.3 L712.0 959.3 L715.0 959.4 L718.0 959.5 L721.0 959.8 L724.0 960.2 L727.0 960.7 L730.0 961.2 L733.0 961.9 L736.0 962.7 L739.0 963.6 L742.0 964.6 L745.0 965.7 L748.0 967.0 L751.0 968.3 L754.0 969.8 L757.0 971.3 L760.0 973.0 L763.0 974.8 L766.0 976.8 L769.0 978.8 L772.0 981.0 L775.0 983.3 L778.0 985.7 L781.0 988.2 L784.0 990.8 L787.0 993.6 L790.0 996.5 L793.0 999.5 L796.0 1002.6 L799.0 1005.8 L802.0 1009.1 L805.0 1012.5 L808.0 1016.0 L811.0 1019.5 L814.0 1023.2 L817.0 1026.9 L820.0 1030.6 L823.0 1034.3 L826.0 1038.1 L829.0 1041.9 L832.0 1045.6 L835.0 1049.3 L838.0 1053.0 L841.0 1056.7 L844.0 1060.3 L847.0 1063.9 L850.0 1067.4 L853.0 1070.9 L855.9 1074.3 L858.9 1077.6 L861.9 1080.9 L864.9 1084.1 L867.9 1087.3 L870.9 1090.3 L873.9 1093.4 L876.9 1096.3 L879.9 1099.2 L882.9 1102.0 L885.9 1104.7 L888.9 1107.4 L891.9 1110.0 L894.9 1112.5 L897.9 1115.0 L900.9 1117.4 L903.9 1119.7 L906.9 1121.9 L909.9 1124.0 L912.9 1126.1 L915.9 1128.1 L918.9 1130.1 L921.9 1132.0 L924.9 1133.8 L927.9 1135.5 L930.9 1137.2 L933.9 1138.8 L936.9 1140.3 L939.9 1141.8 L942.9 1143.3 L945.9 1144.6 L948.9 1145.9 L951.9 1147.2 L954.9 1148.4 L957.9 1149.6 L960.9 1150.7 L963.9 1151.8 L966.9 1152.8 L969.9 1153.8 L972.9 1154.7 L975.9 1155.6 L978.9 1156.5 L981.9 1157.3 L984.9 1158.1 L987.9 1158.9 L990.9 1159.7 L993.9 1160.4 L996.9 1161.1 L999.9 1161.7 L1002.9 1162.4 L1005.9 1163.0 L1008.9 1163.6 L1011.9 1164.1 L1014.9 1164.7 L1017.9 1165.2 L1020.9 1165.7 L1023.9 1166.1 L1026.9 1166.6 L1029.9 1167.0 L1032.9 1167.4 L1035.9 1167.8 L1038.9 1168.2 L1041.9 1168.5 L1044.9 1168.8 L1047.9 1169.2 L1050.9 1169.5 L1053.9 1169.7 L1056.9 1170.0 L1059.9 1170.3 L1062.9 1170.5 L1065.9 1170.7 L1068.9 1171.0 L1071.9 1171.2 L1074.9 1171.4 L1077.9 1171.5 L1080.9 1171.7 L1083.9 1171.9 L1086.9 1172.1 L1089.9 1172.2 L1092.9 1172.4 L1095.9 1172.5 L1098.9 1172.6 L1101.9 1172.8 L1104.9 1172.9 L1107.9 1173.0 L1110.9 1173.1 L1113.9 1173.2 L1116.9 1173.3 L1119.9 1173.4 L1122.9 1173.5 L1125.9 1173.6 L1128.9 1173.7 L1131.9 1173.8 L1134.9 1173.9 L1137.9 1173.9 L1140.9 1174.0 L1143.9 1174.1 L1146.9 1174.2 L1149.9 1174.2 L1152.9 1174.3 L1155.9 1174.4 L1158.9 1174.4 L1161.9 1174.5 L1164.9 1174.6 L1167.9 1174.6 L1170.9 1174.7 L1173.9 1174.8 L1176.9 1174.8 L1179.9 1174.9 L1182.9 1175.0 L1185.9 1175.0 L1188.9 1175.1 L1208.2 1159.3 L1211.2 1159.2 L1214.2 1159.1 L1217.2 1159.1 L1220.2 1159.1 L1223.2 1159.1 L1226.2 1159.1 L1229.2 1159.1 L1232.2 1159.2 L1235.2 1159.3 L1238.2 1159.4 L1241.2 1159.5 L1244.2 1159.7 L1247.2 1159.9 L1250.2 1160.1 L1253.2 1160.3 L1256.2 1160.6 L1259.2 1160.8 L1262.2 1161.1 L1265.2 1161.4 L1268.2 1161.8 L1271.2 1162.1 L1274.2 1162.5 L1277.2 1162.9 L1280.2 1163.3 L1283.2 1163.7 L1286.2 1164.2 L1289.2 1164.6 L1292.2 1165.1 L1295.2 1165.6 L1298.2 1166.1 L1301.2 1166.7 L1304.2 1167.2 L1307.2 1167.8 L1310.2 1168.4 L1313.2 1169.0 L1316.2 1169.6 L1319.2 1170.2 L1322.2 1170.8 L1325.2 1171.5 L1328.2 1172.1 L1331.2 1172.8 L1334.2 1173.5 L1337.2 1174.2 L1340.2 1174.9 L1343.2 1175.6 L1346.2 1176.3 L1349.2 1177.0 L1352.2 1177.7 L1355.2 1178.5 L1358.2 1179.2 L1361.2 1179.9 L1364.2 1180.6 L1367.2 1181.4 L1370.2 1182.1 L1373.2 1182.8 L1376.2 1183.5 L1379.2 1184.1 L1382.2 1184.8 L1385.2 1185.5 L1388.2 1186.1 L1391.2 1186.8 L1409.9 1212.8 L1412.9 1214.2 L1415.9 1215.3 L1418.9 1216.5 L1421.9 1217.7 L1424.9 1218.9 L1427.9 1220.1 L1430.9 1221.3 L1433.9 1222.5 L1436.9 1223.6 L1439.9 1224.8 L1442.9 1225.9 L1445.9 1227.0 L1448.9 1228.1 L1451.9 1229.2 L1454.9 1230.3 L1457.9 1231.4 L1460.9 1232.4 L1463.9 1233.4 L1466.9 1234.4 L1469.9 1235.4 L1472.9 1236.4 L1475.9 1237.3 L1478.9 1238.2 L1481.9 1239.1 L1484.8 1240.0 L1487.8 1240.9 L1490.8 1241.7 L1493.8 1242.6 L1496.8 1243.4 L1499.8 1244.1 L1502.8 1244.9 L1505.8 1245.6 L1508.8 1246.4 L1511.8 1247.0 L1514.8 1247.7 L1517.8 1248.4 L1520.8 1249.0 L1523.8 1249.6 L1526.8 1250.2 L1529.8 1250.7 L1532.8 1251.3 L1535.8 1251.8 L1538.8 1252.3 L1541.8 1252.8 L1544.8 1253.3 L1547.8 1253.7 L1550.8 1254.1 L1553.8 1254.5 L1556.8 1254.9 L1559.8 1255.3 L1562.8 1255.7 L1565.8 1256.0 L1568.8 1256.3 L1571.8 1256.6 L1574.8 1256.9 L1577.8 1257.2 L1580.8 1257.5 L1583.8 1257.8 L1586.8 1258.0 L1589.8 1258.3 L1592.7 1258.5 L1595.7 1258.7 L1598.7 1258.9 L1601.7 1259.1 L1604.7 1259.3 L1607.7 1259.5 L1610.7 1259.7 L1613.7 1259.8 L1616.7 1260.0 L1619.7 1260.2 L1622.7 1260.3 L1625.7 1260.5 L1628.7 1260.6 L1631.7 1260.7 L1634.7 1260.9 L1637.7 1261.0 L1640.7 1261.2 L1643.7 1261.3 L1646.7 1261.4 L1649.7 1261.5 L1652.7 1261.7 L1655.7 1261.8 L1658.7 1261.9 L1661.7 1262.0 L1664.7 1262.1 L1667.7 1262.2 L1670.7 1262.3 L1673.7 1262.4 L1676.7 1262.5 L1679.7 1262.6 L1682.7 1262.7 L1685.7 1262.8 L1688.7 1262.9 L1691.7 1263.0 L1694.7 1263.1 L1697.7 1263.2 L1700.7 1263.2 L1703.6 1263.3 L1706.6 1263.4 L1709.6 1263.4 L1712.6 1263.5 L1715.6 1263.6 L1718.6 1263.6 L1721.6 1263.7 L1724.6 1263.7 L1727.6 1263.8 L1730.6 1263.9 L1733.6 1263.9 L1736.6 1263.9 L1739.6 1264.0 L1742.6 1264.0 L1745.6 1264.1 L1748.6 1264.1 L1751.6 1264.1 L1754.6 1264.1 L1755.6 1264.2" stroke="#e566ff"/>
<path d="M235.0 1177.9 L238.0 1177.0 L241.0 1176.3 L244.0 1175.6 L247.0 1174.8 L250.0 1174.0 L253.0 1173.2 L256.0 1172.4 L259.0 1171.6 L262.0 1170.8 L265.0 1170.0 L268.0 1169.1 L271.0 1168.3 L274.0 1167.4 L277.0 1166.5 L280.0 1165.7 L283.0 1164.8 L286.0 1163.9 L289.0 1162.9 L292.0 1162.0 L295.0 1161.0 L298.0 1160.1 L301.0 1159.1 L304.0 1158.1 L307.0 1157.1 L310.0 1156.1 L313.0 1155.1 L316.0 1154.0 L319.0 1153.0 L322.0 1151.9 L325.0 1150.9 L328.0 1149.8 L331.0 1148.7 L334.0 1147.6 L337.0 1146.5 L340.0 1145.4 L343.0 1144.3 L346.0 1143.2 L349.0 1142.1 L352.0 1141.0 L355.0 1139.9 L358.0 1138.7 L361.0 1137.6 L364.0 1136.5 L367.0 1135.3 L370.0 1134.2 L373.0 1133.1 L376.0 1131.9 L379.0 1130.8 L382.0 1129.7 L385.0 1128.5 L388.0 1127.4 L391.0 1126.3 L394.0 1125.2 L397.0 1124.1 L400.0 1123.0 L403.0 1121.9 L406.0 1120.9 L409.0 1119.8 L412.0 1118.7 L415.0 1117.7 L418.0 1116.6 L421.0 1115.6 L424.0 1114.6 L427.0 1113.5 L430.0 1112.5 L433.0 1111.5 L436.0 1110.5 L439.0 1109.5 L442.0 1108.5 L445.0 1107.5 L448.0 1106.5 L451.0 1105.6 L454.0 1104.6 L457.0 1103.7 L460.0 1102.8 L463.0 1101.8 L466.0 1100.9 L469.0 1100.0 L472.0 1099.0 L475.0 1098.0 L478.0 1096.9 L481.0 1095.8 L484.0 1094.6 L487.0 1093.4 L490.0 1092.1 L493.0 1090.7 L496.0 1089.3 L499.0 1087.8 L502.0 1086.3 L505.0 1084.7 L508.0 1083.1 L511.0 1081.4 L514.0 1079.6 L517.0 1077.9 L520.0 1076.0 L523.0 1074.2 L526.0 1072.2 L529.0 1070.3 L532.0 1068.3 L535.0 1066.2 L538.0 1064.1 L541.0 1062.0 L544.0 1059.9 L547.0 1057.7 L550.0 1055.5 L553.0 1053.3 L556.0 1051.1 L559.0 1048.8 L562.0 1046.6 L565.0 1044.3 L568.0 1042.0 L571.0 1039.8 L574.0 1037.5 L577.0 1035.2 L580.0 1033.0 L583.0 1030.7 L586.0 1028.4 L589.0 1026.2 L592.0 1023.9 L595.0 1021.7 L598.0 1019.5 L601.0 1017.3 L604.0 1015.1 L607.0 1013.0 L610.0 1010.8 L613.0 1008.7 L616.0 1006.6 L619.0 1004.6 L622.0 1002.6 L625.0 1000.7 L628.0 998.8 L631.0 996.9 L634.0 995.1 L637.0 993.4 L640.0 991.8 L643.0 990.2 L646.0 988.7 L649.0 987.3 L652.0 985.9 L655.0 984.6 L658.0 983.4 L661.0 982.3 L664.0 981.2 L667.0 980.2 L670.0 979.3 L673.0 978.5 L676.0 977.7 L679.0 977.0 L682.0 976.4 L685.0 975.8 L688.0 975.4 L691.0 975.0 L694.0 974.7 L697.0 974.5 L700.0 974.4 L703.0 974.3 L706.0 974.4 L709.0 974.5 L712.0 974.8 L715.0 975.1 L718.0 975.6 L721.0 976.1 L724.0 976.8 L727.0 977.5 L730.0 978.3 L733.0 979.3 L736.0 980.4 L739.0 981.5 L742.0 982.8 L745.0 984.2 L748.0 985.7 L751.0 987.2 L754.0 988.9 L757.0 990.7 L760.0 992.7 L763.0 994.7 L766.0 996.8 L769.0 999.0 L772.0 1001.4 L775.0 1003.8 L778.0 1006.4 L781.0 1009.0 L784.0 1011.8 L787.0 1014.7 L790.0 1017.7 L793.0 1020.8 L796.0 1024.0 L799.0 1027.3 L802.0 1030.7 L805.0 1034.1 L808.0 1037.7 L811.0 1041.3 L814.0 1044.9 L817.0 1048.7 L820.0 1052.4 L823.0 1056.2 L826.0 1059.9 L829.0 1063.7 L832.0 1067.4 L835.0 1071.1 L838.0 1074.8 L841.0 1078.4 L844.0 1082.0 L847.0 1085.5 L850.0 1089.0 L853.0 1092.4 L855.9 1095.8 L858.9 1099.1 L861.9 1102.3 L864.9 1105.4 L867.9 1108.5 L870.9 1111.5 L873.9 1114.5 L876.9 1117.4 L879.9 1120.2 L882.9 1123.0 L885.9 1125.7 L888.9 1128.3 L891.9 1130.8 L894.9 1133.3 L897.9 1135.8 L900.9 1138.1 L903.9 1140.4 L906.9 1142.6 L909.9 1144.8 L912.9 1146.8 L915.9 1148.8 L918.9 1150.8 L921.9 1152.7 L924.9 1154.5 L927.9 1156.2 L930.9 1157.9 L933.9 1159.5 L936.9 1161.0 L939.9 1162.5 L942.9 1163.9 L945.9 1165.3 L948.9 1166.6 L951.9 1167.9 L954.9 1169.0 L957.9 1170.2 L960.9 1171.3 L963.9 1172.3 L966.9 1173.3 L969.9 1174.2 L972.9 1175.1 L975.9 1175.9 L978.9 1176.7 L981.9 1177.5 L984.9 1178.2 L987.9 1178.9 L990.9 1179.6 L993.9 1180.2 L996.9 1180.7 L999.9 1181.3 L1002.9 1181.8 L1005.9 1182.3 L1008.9 1182.7 L1011.9 1183.1 L1014.9 1183.5 L1017.9 1183.9 L1020.9 1184.2 L1023.9 1184.5 L1026.9 1184.8 L1029.9 1185.0 L1032.9 1185.3 L1035.9 1185.5 L1038.9 1185.6 L1041.9 1185.8 L1044.9 1185.9 L1047.9 1186.0 L1050.9 1186.1 L1053.9 1186.1 L1056.9 1186.1 L1059.9 1186.1 L1062.9 1186.1 L1065.9 1186.1 L1068.9 1186.1 L1071.9 1186.0 L1074.9 1185.9 L1077.9 1185.8 L1080.9 1185.7 L1083.9 1185.6 L1086.9 1185.5 L1089.9 1185.3 L1092.9 1185.2 L1095.9 1185.0 L1098.9 1184.8 L1101.9 1184.6 L1104.9 1184.4 L1107.9 1184.3 L1110.9 1184.0 L1113.9 1183.8 L1116.9 1183.6 L1119.9 1183.4 L1122.9 1183.2 L1125.9 1183.0 L1128.9 1182.8 L1131.9 1182.5 L1134.9 1182.3 L1137.9 1182.1 L1140.9 1181.9 L1143.9 1181.7 L1146.9 1181.5 L1149.9 1181.3 L1152.9 1181.1 L1155.9 1180.9 L1158.9 1180.7 L1161.9 1180.5 L1164.9 1180.3 L1167.9 1180.2 L1170.9 1180.0 L1173.9 1179.8 L1176.9 1179.7 L1179.9 1179.6 L1182.9 1179.4 L1185.9 1179.3 L1188.9 1179.2 L1208.2 1164.7 L1211.2 1164.6 L1214.2 1164.4 L1217.2 1164.3 L1220.2 1164.2 L1223.2 1164.1 L1226.2 1164.0 L1229.2 1163.9 L1232.2 1163.8 L1235.2 1163.8 L1238.2 1163.8 L1241.2 1163.8 L1244.2 1163.8 L1247.2 1163.9 L1250.2 1164.0 L1253.2 1164.1 L1256.2 1164.2 L1259.2 1164.4 L1262.2 1164.5 L1265.2 1164.7 L1268.2 1164.9 L1271.2 1165.2 L1274.2 1165.5 L1277.2 1165.7 L1280.2 1166.1 L1283.2 1166.4 L1286.2 1166.7 L1289.2 1167.1 L1292.2 1167.5 L1295.2 1167.9 L1298.2 1168.4 L1301.2 1168.8 L1304.2 1169.3 L1307.2 1169.8 L1310.2 1170.3 L1313.2 1170.8 L1316.2 1171.3 L1319.2 1171.9 L1322.2 1172.5 L1325.2 1173.1 L1328.2 1173.7 L1331.2 1174.3 L1334.2 1174.9 L1337.2 1175.6 L1340.2 1176.3 L1343.2 1176.9 L1346.2 1177.6 L1349.2 1178.3 L1352.2 1179.0 L1355.2 1179.7 L1358.2 1180.4 L1361.2 1181.1 L1364.2 1181.8 L1367.2 1182.5 L1370.2 1183.2 L1373.2 1183.9 L1376.2 1184.6 L1379.2 1185.2 L1382.2 1185.9 L1385.2 1186.5 L1388.2 1187.1 L1391.2 1187.8 L1409.9 1213.5 L1412.9 1214.8 L1415.9 1215.8 L1418.9 1216.9 L1421.9 1218.0 L1424.9 1219.2 L1427.9 1220.3 L1430.9 1221.4 L1433.9 1222.5 L1436.9 1223.6 L1439.9 1224.6 L1442.9 1225.7 L1445.9 1226.8 L1448.9 1227.8 L1451.9 1228.9 L1454.9 1229.9 L1457.9 1230.9 L1460.9 1231.9 L1463.9 1232.9 L1466.9 1233.9 L1469.9 1234.8 L1472.9 1235.8 L1475.9 1236.7 L1478.9 1237.6 L1481.9 1238.5 L1484.8 1239.3 L1487.8 1240.2 L1490.8 1241.0 L1493.8 1241.8 L1496.8 1242.6 L1499.8 1243.4 L1502.8 1244.2 L1505.8 1244.9 L1508.8 1245.6 L1511.8 1246.3 L1514.8 1247.0 L1517.8 1247.6 L1520.8 1248.2 L1523.8 1248.8 L1526.8 1249.4 L1529.8 1250.0 L1532.8 1250.5 L1535.8 1251.1 L1538.8 1251.6 L1541.8 1252.1 L1544.8 1252.5 L1547.8 1253.0 L1550.8 1253.4 L1553.8 1253.8 L1556.8 1254.2 L1559.8 1254.6 L1562.8 1254.9 L1565.8 1255.3 L1568.8 1255.6 L1571.8 1255.9 L1574.8 1256.2 L1577.8 1256.5 L1580.8 1256.8 L1583.8 1257.1 L1586.8 1257.3 L1589.8 1257.6 L1592.7 1257.8 L1595.7 1258.1 L1598.7 1258.3 L1601.7 1258.5 L1604.7 1258.7 L1607.7 1258.9 L1610.7 1259.1 L1613.7 1259.3 L1616.7 1259.4 L1619.7 1259.6 L1622.7 1259.8 L1625.7 1260.0 L1628.7 1260.1 L1631.7 1260.3 L1634.7 1260.4 L1637.7 1260.6 L1640.7 1260.7 L1643.7 1260.9 L1646.7 1261.0 L1649.7 1261.2 L1652.7 1261.3 L1655.7 1261.4 L1658.7 1261.5 L1661.7 1261.7 L1664.7 1261.8 L1667.7 1261.9 L1670.7 1262.0 L1673.7 1262.1 L1676.7 1262.2 L1679.7 1262.3 L1682.7 1262.4 L1685.7 1262.5 L1688.7 1262.6 L1691.7 1262.7 L1694.7 1262.8 L1697.7 1262.9 L1700.7 1262.9 L1703.6 1263.0 L1706.6 1263.1 L1709.6 1263.1 L1712.6 1263.2 L1715.6 1263.3 L1718.6 1263.3 L1721.6 1263.4 L1724.6 1263.4 L1727.6 1263.5 L1730.6 1263.5 L1733.6 1263.6 L1736.6 1263.6 L1739.6 1263.7 L1742.6 1263.7 L1745.6 1263.7 L1748.6 1263.8 L1751.6 1263.8 L1754.6 1263.8 L1755.6 1263.8" stroke="#000080"/>
<path d="M235.0 1193.1 L238.0 1192.4 L241.0 1191.9 L244.0 1191.3 L247.0 1190.6 L250.0 1190.0 L253.0 1189.4 L256.0 1188.7 L259.0 1188.1 L262.0 1187.4 L265.0 1186.8 L268.0 1186.1 L271.0 1185.4 L274.0 1184.7 L277.0 1184.0 L280.0 1183.3 L283.0 1182.6 L286.0 1181.9 L289.0 1181.2 L292.0 1180.4 L295.0 1179.7 L298.0 1178.9 L301.0 1178.1 L304.0 1177.4 L307.0 1176.6 L310.0 1175.8 L313.0 1175.0 L316.0 1174.1 L319.0 1173.3 L322.0 1172.5 L325.0 1171.7 L328.0 1170.8 L331.0 1170.0 L334.0 1169.2 L337.0 1168.3 L340.0 1167.5 L343.0 1166.7 L346.0 1165.8 L349.0 1165.0 L352.0 1164.2 L355.0 1163.4 L358.0 1162.6 L361.0 1161.8 L364.0 1161.0 L367.0 1160.2 L370.0 1159.4 L373.0 1158.6 L376.0 1157.9 L379.0 1157.1 L382.0 1156.4 L385.0 1155.7 L388.0 1155.0 L391.0 1154.3 L394.0 1153.7 L397.0 1153.1 L400.0 1152.4 L403.0 1151.8 L406.0 1151.2 L409.0 1150.6 L412.0 1149.9 L415.0 1149.3 L418.0 1148.7 L421.0 1148.0 L424.0 1147.3 L427.0 1146.7 L430.0 1146.0 L433.0 1145.3 L436.0 1144.6 L439.0 1143.9 L442.0 1143.2 L445.0 1142.5 L448.0 1141.8 L451.0 1141.1 L454.0 1140.4 L457.0 1139.7 L460.0 1139.0 L463.0 1138.3 L466.0 1137.6 L469.0 1136.9 L472.0 1136.1 L475.0 1135.2 L478.0 1134.3 L481.0 1133.3 L484.0 1132.3 L487.0 1131.2 L490.0 1130.0 L493.0 1128.8 L496.0 1127.5 L499.0 1126.1 L502.0 1124.7 L505.0 1123.2 L508.0 1121.7 L511.0 1120.1 L514.0 1118.5 L517.0 1116.9 L520.0 1115.2 L523.0 1113.5 L526.0 1111.7 L529.0 1109.9 L532.0 1108.1 L535.0 1106.3 L538.0 1104.5 L541.0 1102.6 L544.0 1100.8 L547.0 1099.0 L550.0 1097.1 L553.0 1095.3 L556.0 1093.5 L559.0 1091.7 L562.0 1090.0 L565.0 1088.2 L568.0 1086.5 L571.0 1084.8 L574.0 1083.2 L577.0 1081.5 L580.0 1079.9 L583.0 1078.3 L586.0 1076.7 L589.0 1075.2 L592.0 1073.6 L595.0 1072.1 L598.0 1070.6 L601.0 1069.2 L604.0 1067.7 L607.0 1066.3 L610.0 1064.9 L613.0 1063.5 L616.0 1062.1 L619.0 1060.8 L622.0 1059.4 L625.0 1058.1 L628.0 1056.9 L631.0 1055.6 L634.0 1054.4 L637.0 1053.3 L640.0 1052.1 L643.0 1051.1 L646.0 1050.0 L649.0 1049.0 L652.0 1048.0 L655.0 1047.1 L658.0 1046.2 L661.0 1045.4 L664.0 1044.6 L667.0 1043.9 L670.0 1043.2 L673.0 1042.5 L676.0 1041.9 L679.0 1041.4 L682.0 1040.9 L685.0 1040.5 L688.0 1040.1 L691.0 1039.8 L694.0 1039.5 L697.0 1039.3 L700.0 1039.2 L703.0 1039.1 L706.0 1039.1 L709.0 1039.1 L712.0 1039.3 L715.0 1039.5 L718.0 1039.8 L721.0 1040.1 L724.0 1040.5 L727.0 1041.1 L730.0 1041.6 L733.0 1042.3 L736.0 1043.0 L739.0 1043.8 L742.0 1044.7 L745.0 1045.7 L748.0 1046.7 L751.0 1047.9 L754.0 1049.1 L757.0 1050.3 L760.0 1051.7 L763.0 1053.1 L766.0 1054.6 L769.0 1056.2 L772.0 1057.9 L775.0 1059.6 L778.0 1061.4 L781.0 1063.3 L784.0 1065.3 L787.0 1067.4 L790.0 1069.5 L793.0 1071.7 L796.0 1074.0 L799.0 1076.4 L802.0 1078.9 L805.0 1081.4 L808.0 1084.0 L811.0 1086.6 L814.0 1089.3 L817.0 1092.1 L820.0 1094.8 L823.0 1097.6 L826.0 1100.4 L829.0 1103.2 L832.0 1106.1 L835.0 1108.8 L838.0 1111.6 L841.0 1114.4 L844.0 1117.1 L847.0 1119.7 L850.0 1122.4 L853.0 1125.0 L855.9 1127.5 L858.9 1130.0 L861.9 1132.5 L864.9 1134.9 L867.9 1137.2 L870.9 1139.5 L873.9 1141.8 L876.9 1144.0 L879.9 1146.2 L882.9 1148.3 L885.9 1150.4 L888.9 1152.4 L891.9 1154.3 L894.9 1156.2 L897.9 1158.1 L900.9 1159.9 L903.9 1161.6 L906.9 1163.3 L909.9 1164.9 L912.9 1166.5 L915.9 1168.0 L918.9 1169.5 L921.9 1170.9 L924.9 1172.3 L927.9 1173.6 L930.9 1174.8 L933.9 1176.0 L936.9 1177.2 L939.9 1178.3 L942.9 1179.4 L945.9 1180.4 L948.9 1181.3 L951.9 1182.2 L954.9 1183.1 L957.9 1183.9 L960.9 1184.7 L963.9 1185.4 L966.9 1186.1 L969.9 1186.8 L972.9 1187.4 L975.9 1188.0 L978.9 1188.5 L981.9 1189.0 L984.9 1189.5 L987.9 1189.9 L990.9 1190.4 L993.9 1190.7 L996.9 1191.1 L999.9 1191.4 L1002.9 1191.7 L1005.9 1191.9 L1008.9 1192.2 L1011.9 1192.4 L1014.9 1192.5 L1017.9 1192.7 L1020.9 1192.8 L1023.9 1192.9 L1026.9 1193.0 L1029.9 1193.0 L1032.9 1193.1 L1035.9 1193.1 L1038.9 1193.1 L1041.9 1193.0 L1044.9 1193.0 L1047.9 1192.9 L1050.9 1192.8 L1053.9 1192.7 L1056.9 1192.6 L1059.9 1192.4 L1062.9 1192.3 L1065.9 1192.1 L1068.9 1191.9 L1071.9 1191.7 L1074.9 1191.5 L1077.9 1191.3 L1080.9 1191.0 L1083.9 1190.8 L1086.9 1190.5 L1089.9 1190.2 L1092.9 1189.9 L1095.9 1189.6 L1098.9 1189.3 L1101.9 1189.0 L1104.9 1188.7 L1107.9 1188.3 L1110.9 1188.0 L1113.9 1187.6 L1116.9 1187.3 L1119.9 1186.9 L1122.9 1186.5 L1125.9 1186.1 L1128.9 1185.7 L1131.9 1185.3 L1134.9 1184.9 L1137.9 1184.5 L1140.9 1184.1 L1143.9 1183.7 L1146.9 1183.3 L1149.9 1182.8 L1152.9 1182.4 L1155.9 1182.0 L1158.9 1181.6 L1161.9 1181.2 L1164.9 1180.7 L1167.9 1180.3 L1170.9 1179.9 L1173.9 1179.5 L1176.9 1179.1 L1179.9 1178.7 L1182.9 1178.3 L1185.9 1177.9 L1188.9 1177.5 L1208.2 1161.3 L1211.2 1160.9 L1214.2 1160.6 L1217.2 1160.2 L1220.2 1159.9 L1223.2 1159.6 L1226.2 1159.4 L1229.2 1159.1 L1232.2 1158.9 L1235.2 1158.7 L1238.2 1158.6 L1241.2 1158.4 L1244.2 1158.4 L1247.2 1158.3 L1250.2 1158.3 L1253.2 1158.3 L1256.2 1158.4 L1259.2 1158.5 L1262.2 1158.6 L1265.2 1158.7 L1268.2 1158.9 L1271.2 1159.1 L1274.2 1159.4 L1277.2 1159.7 L1280.2 1160.0 L1283.2 1160.3 L1286.2 1160.7 L1289.2 1161.1 L1292.2 1161.5 L1295.2 1161.9 L1298.2 1162.4 L1301.2 1162.9 L1304.2 1163.4 L1307.2 1163.9 L1310.2 1164.5 L1313.2 1165.0 L1316.2 1165.6 L1319.2 1166.2 L1322.2 1166.8 L1325.2 1167.5 L1328.2 1168.1 L1331.2 1168.8 L1334.2 1169.5 L1337.2 1170.2 L1340.2 1170.9 L1343.2 1171.6 L1346.2 1172.3 L1349.2 1173.0 L1352.2 1173.8 L1355.2 1174.5 L1358.2 1175.2 L1361.2 1176.0 L1364.2 1176.7 L1367.2 1177.4 L1370.2 1178.1 L1373.2 1178.8 L1376.2 1179.5 L1379.2 1180.1 L1382.2 1180.8 L1385.2 1181.4 L1388.2 1182.0 L1391.2 1182.6 L1409.9 1208.4 L1412.9 1209.9 L1415.9 1211.2 L1418.9 1212.5 L1421.9 1213.9 L1424.9 1215.2 L1427.9 1216.5 L1430.9 1217.8 L1433.9 1219.0 L1436.9 1220.3 L1439.9 1221.4 L1442.9 1222.6 L1445.9 1223.7 L1448.9 1224.9 L1451.9 1225.9 L1454.9 1227.0 L1457.9 1228.0 L1460.9 1229.0 L1463.9 1230.0 L1466.9 1231.0 L1469.9 1231.9 L1472.9 1232.8 L1475.9 1233.7 L1478.9 1234.5 L1481.9 1235.4 L1484.8 1236.2 L1487.8 1237.0 L1490.8 1237.8 L1493.8 1238.5 L1496.8 1239.3 L1499.8 1240.0 L1502.8 1240.7 L1505.8 1241.4 L1508.8 1242.1 L1511.8 1242.7 L1514.8 1243.4 L1517.8 1244.0 L1520.8 1244.6 L1523.8 1245.2 L1526.8 1245.8 L1529.8 1246.4 L1532.8 1246.9 L1535.8 1247.4 L1538.8 1247.9 L1541.8 1248.4 L1544.8 1248.9 L1547.8 1249.4 L1550.8 1249.8 L1553.8 1250.2 L1556.8 1250.7 L1559.8 1251.0 L1562.8 1251.4 L1565.8 1251.8 L1568.8 1252.2 L1571.8 1252.5 L1574.8 1252.8 L1577.8 1253.1 L1580.8 1253.4 L1583.8 1253.7 L1586.8 1254.0 L1589.8 1254.3 L1592.7 1254.5 L1595.7 1254.8 L1598.7 1255.0 L1601.7 1255.2 L1604.7 1255.5 L1607.7 1255.7 L1610.7 1255.9 L1613.7 1256.1 L1616.7 1256.3 L1619.7 1256.4 L1622.7 1256.6 L1625.7 1256.8 L1628.7 1256.9 L1631.7 1257.1 L1634.7 1257.2 L1637.7 1257.4 L1640.7 1257.5 L1643.7 1257.7 L1646.7 1257.8 L1649.7 1258.0 L1652.7 1258.1 L1655.7 1258.2 L1658.7 1258.3 L1661.7 1258.5 L1664.7 1258.6 L1667.7 1258.7 L1670.7 1258.8 L1673.7 1258.9 L1676.7 1259.1 L1679.7 1259.2 L1682.7 1259.3 L1685.7 1259.4 L1688.7 1259.5 L1691.7 1259.5 L1694.7 1259.6 L1697.7 1259.7 L1700.7 1259.8 L1703.6 1259.9 L1706.6 1260.0 L1709.6 1260.0 L1712.6 1260.1 L1715.6 1260.2 L1718.6 1260.2 L1721.6 1260.3 L1724.6 1260.3 L1727.6 1260.4 L1730.6 1260.4 L1733.6 1260.5 L1736.6 1260.5 L1739.6 1260.6 L1742.6 1260.6 L1745.6 1260.6 L1748.6 1260.7 L1751.6 1260.7 L1754.6 1260.7 L1755.6 1260.7" stroke="#40b8ff"/>
<path d="M235.0 1204.2 L238.0 1203.6 L241.0 1203.2 L244.0 1202.7 L247.0 1202.2 L250.0 1201.7 L253.0 1201.1 L256.0 1200.6 L259.0 1200.1 L262.0 1199.6 L265.0 1199.1 L268.0 1198.5 L271.0 1198.0 L274.0 1197.5 L277.0 1196.9 L280.0 1196.4 L283.0 1195.8 L286.0 1195.2 L289.0 1194.7 L292.0 1194.1 L295.0 1193.5 L298.0 1192.9 L301.0 1192.3 L304.0 1191.7 L307.0 1191.1 L310.0 1190.5 L313.0 1189.8 L316.0 1189.2 L319.0 1188.6 L322.0 1187.9 L325.0 1187.3 L328.0 1186.6 L331.0 1186.0 L334.0 1185.4 L337.0 1184.7 L340.0 1184.1 L343.0 1183.4 L346.0 1182.8 L349.0 1182.2 L352.0 1181.5 L355.0 1180.9 L358.0 1180.3 L361.0 1179.7 L364.0 1179.1 L367.0 1178.5 L370.0 1177.9 L373.0 1177.3 L376.0 1176.7 L379.0 1176.2 L382.0 1175.6 L385.0 1175.1 L388.0 1174.6 L391.0 1174.1 L394.0 1173.6 L397.0 1173.1 L400.0 1172.7 L403.0 1172.2 L406.0 1171.8 L409.0 1171.3 L412.0 1170.8 L415.0 1170.3 L418.0 1169.8 L421.0 1169.3 L424.0 1168.8 L427.0 1168.3 L430.0 1167.7 L433.0 1167.2 L436.0 1166.6 L439.0 1166.1 L442.0 1165.5 L445.0 1164.9 L448.0 1164.4 L451.0 1163.8 L454.0 1163.2 L457.0 1162.6 L460.0 1162.0 L463.0 1161.4 L466.0 1160.8 L469.0 1160.2 L472.0 1159.6 L475.0 1158.9 L478.0 1158.2 L481.0 1157.4 L484.0 1156.7 L487.0 1155.9 L490.0 1155.0 L493.0 1154.1 L496.0 1153.2 L499.0 1152.3 L502.0 1151.3 L505.0 1150.3 L508.0 1149.3 L511.0 1148.2 L514.0 1147.2 L517.0 1146.1 L520.0 1144.9 L523.0 1143.8 L526.0 1142.6 L529.0 1141.4 L532.0 1140.2 L535.0 1139.0 L538.0 1137.7 L541.0 1136.4 L544.0 1135.2 L547.0 1133.9 L550.0 1132.6 L553.0 1131.3 L556.0 1130.0 L559.0 1128.8 L562.0 1127.5 L565.0 1126.2 L568.0 1124.9 L571.0 1123.6 L574.0 1122.4 L577.0 1121.1 L580.0 1119.9 L583.0 1118.6 L586.0 1117.4 L589.0 1116.2 L592.0 1115.0 L595.0 1113.7 L598.0 1112.5 L601.0 1111.4 L604.0 1110.2 L607.0 1109.0 L610.0 1107.9 L613.0 1106.7 L616.0 1105.6 L619.0 1104.5 L622.0 1103.4 L625.0 1102.3 L628.0 1101.3 L631.0 1100.3 L634.0 1099.3 L637.0 1098.3 L640.0 1097.4 L643.0 1096.5 L646.0 1095.7 L649.0 1094.9 L652.0 1094.1 L655.0 1093.4 L658.0 1092.7 L661.0 1092.1 L664.0 1091.5 L667.0 1090.9 L670.0 1090.4 L673.0 1090.0 L676.0 1089.6 L679.0 1089.2 L682.0 1088.9 L685.0 1088.6 L688.0 1088.4 L691.0 1088.3 L694.0 1088.2 L697.0 1088.1 L700.0 1088.1 L703.0 1088.2 L706.0 1088.3 L709.0 1088.5 L712.0 1088.8 L715.0 1089.1 L718.0 1089.5 L721.0 1090.0 L724.0 1090.5 L727.0 1091.1 L730.0 1091.8 L733.0 1092.5 L736.0 1093.3 L739.0 1094.2 L742.0 1095.2 L745.0 1096.2 L748.0 1097.3 L751.0 1098.5 L754.0 1099.7 L757.0 1101.0 L760.0 1102.4 L763.0 1103.9 L766.0 1105.4 L769.0 1107.0 L772.0 1108.6 L775.0 1110.4 L778.0 1112.2 L781.0 1114.1 L784.0 1116.0 L787.0 1118.0 L790.0 1120.1 L793.0 1122.2 L796.0 1124.4 L799.0 1126.7 L802.0 1129.0 L805.0 1131.4 L808.0 1133.8 L811.0 1136.3 L814.0 1138.8 L817.0 1141.3 L820.0 1143.8 L823.0 1146.4 L826.0 1148.9 L829.0 1151.5 L832.0 1154.0 L835.0 1156.5 L838.0 1159.0 L841.0 1161.5 L844.0 1163.9 L847.0 1166.3 L850.0 1168.6 L853.0 1171.0 L855.9 1173.2 L858.9 1175.5 L861.9 1177.7 L864.9 1179.8 L867.9 1181.9 L870.9 1184.0 L873.9 1186.0 L876.9 1187.9 L879.9 1189.8 L882.9 1191.7 L885.9 1193.5 L888.9 1195.3 L891.9 1197.0 L894.9 1198.7 L897.9 1200.3 L900.9 1201.8 L903.9 1203.4 L906.9 1204.8 L909.9 1206.3 L912.9 1207.6 L915.9 1209.0 L918.9 1210.2 L921.9 1211.5 L924.9 1212.7 L927.9 1213.8 L930.9 1214.9 L933.9 1216.0 L936.9 1217.0 L939.9 1217.9 L942.9 1218.9 L945.9 1219.8 L948.9 1220.6 L951.9 1221.5 L954.9 1222.2 L957.9 1223.0 L960.9 1223.7 L963.9 1224.4 L966.9 1225.0 L969.9 1225.7 L972.9 1226.3 L975.9 1226.8 L978.9 1227.4 L981.9 1227.9 L984.9 1228.4 L987.9 1228.8 L990.9 1229.3 L993.9 1229.7 L996.9 1230.1 L999.9 1230.4 L1002.9 1230.8 L1005.9 1231.1 L1008.9 1231.5 L1011.9 1231.8 L1014.9 1232.0 L1017.9 1232.3 L1020.9 1232.6 L1023.9 1232.8 L1026.9 1233.0 L1029.9 1233.2 L1032.9 1233.4 L1035.9 1233.6 L1038.9 1233.7 L1041.9 1233.9 L1044.9 1234.0 L1047.9 1234.2 L1050.9 1234.3 L1053.9 1234.4 L1056.9 1234.5 L1059.9 1234.6 L1062.9 1234.7 L1065.9 1234.8 L1068.9 1234.9 L1071.9 1235.0 L1074.9 1235.1 L1077.9 1235.2 L1080.9 1235.2 L1083.9 1235.3 L1086.9 1235.4 L1089.9 1235.5 L1092.9 1235.5 L1095.9 1235.6 L1098.9 1235.7 L1101.9 1235.8 L1104.9 1235.8 L1107.9 1235.9 L1110.9 1236.0 L1113.9 1236.1 L1116.9 1236.2 L1119.9 1236.2 L1122.9 1236.3 L1125.9 1236.4 L1128.9 1236.5 L1131.9 1236.5 L1134.9 1236.6 L1137.9 1236.7 L1140.9 1236.7 L1143.9 1236.8 L1146.9 1236.9 L1149.9 1237.0 L1152.9 1237.0 L1155.9 1237.1 L1158.9 1237.2 L1161.9 1237.2 L1164.9 1237.3 L1167.9 1237.3 L1170.9 1237.4 L1173.9 1237.4 L1176.9 1237.5 L1179.9 1237.5 L1182.9 1237.6 L1185.9 1237.6 L1188.9 1237.7 L1208.2 1221.2 L1211.2 1221.1 L1214.2 1221.0 L1217.2 1220.9 L1220.2 1220.8 L1223.2 1220.8 L1226.2 1220.7 L1229.2 1220.7 L1232.2 1220.7 L1235.2 1220.7 L1238.2 1220.7 L1241.2 1220.7 L1244.2 1220.7 L1247.2 1220.7 L1250.2 1220.7 L1253.2 1220.7 L1256.2 1220.8 L1259.2 1220.8 L1262.2 1220.9 L1265.2 1220.9 L1268.2 1221.0 L1271.2 1221.0 L1274.2 1221.1 L1277.2 1221.1 L1280.2 1221.2 L1283.2 1221.3 L1286.2 1221.4 L1289.2 1221.4 L1292.2 1221.5 L1295.2 1221.6 L1298.2 1221.7 L1301.2 1221.8 L1304.2 1221.9 L1307.2 1222.0 L1310.2 1222.1 L1313.2 1222.2 L1316.2 1222.3 L1319.2 1222.4 L1322.2 1222.6 L1325.2 1222.7 L1328.2 1222.8 L1331.2 1222.9 L1334.2 1223.1 L1337.2 1223.2 L1340.2 1223.3 L1343.2 1223.5 L1346.2 1223.6 L1349.2 1223.7 L1352.2 1223.9 L1355.2 1224.0 L1358.2 1224.2 L1361.2 1224.3 L1364.2 1224.4 L1367.2 1224.6 L1370.2 1224.7 L1373.2 1224.9 L1376.2 1225.0 L1379.2 1225.1 L1382.2 1225.3 L1385.2 1225.4 L1388.2 1225.5 L1391.2 1225.6 L1409.9 1246.3 L1412.9 1246.6 L1415.9 1246.9 L1418.9 1247.2 L1421.9 1247.5 L1424.9 1247.8 L1427.9 1248.1 L1430.9 1248.4 L1433.9 1248.7 L1436.9 1249.0 L1439.9 1249.3 L1442.9 1249.6 L1445.9 1249.9 L1448.9 1250.2 L1451.9 1250.5 L1454.9 1250.8 L1457.9 1251.1 L1460.9 1251.4 L1463.9 1251.7 L1466.9 1252.0 L1469.9 1252.3 L1472.9 1252.6 L1475.9 1252.9 L1478.9 1253.2 L1481.9 1253.5 L1484.8 1253.7 L1487.8 1254.0 L1490.8 1254.3 L1493.8 1254.5 L1496.8 1254.8 L1499.8 1255.1 L1502.8 1255.3 L1505.8 1255.6 L1508.8 1255.8 L1511.8 1256.1 L1514.8 1256.3 L1517.8 1256.6 L1520.8 1256.8 L1523.8 1257.0 L1526.8 1257.3 L1529.8 1257.5 L1532.8 1257.7 L1535.8 1257.9 L1538.8 1258.1 L1541.8 1258.4 L1544.8 1258.6 L1547.8 1258.8 L1550.8 1259.0 L1553.8 1259.2 L1556.8 1259.3 L1559.8 1259.5 L1562.8 1259.7 L1565.8 1259.9 L1568.8 1260.1 L1571.8 1260.2 L1574.8 1260.4 L1577.8 1260.6 L1580.8 1260.7 L1583.8 1260.9 L1586.8 1261.1 L1589.8 1261.2 L1592.7 1261.4 L1595.7 1261.5 L1598.7 1261.6 L1601.7 1261.8 L1604.7 1261.9 L1607.7 1262.0 L1610.7 1262.2 L1613.7 1262.3 L1616.7 1262.4 L1619.7 1262.5 L1622.7 1262.6 L1625.7 1262.7 L1628.7 1262.9 L1631.7 1263.0 L1634.7 1263.1 L1637.7 1263.2 L1640.7 1263.3 L1643.7 1263.3 L1646.7 1263.4 L1649.7 1263.5 L1652.7 1263.6 L1655.7 1263.7 L1658.7 1263.8 L1661.7 1263.9 L1664.7 1263.9 L1667.7 1264.0 L1670.7 1264.1 L1673.7 1264.2 L1676.7 1264.2 L1679.7 1264.3 L1682.7 1264.4 L1685.7 1264.5 L1688.7 1264.5 L1691.7 1264.6 L1694.7 1264.6 L1697.7 1264.7 L1700.7 1264.8 L1703.6 1264.8 L1706.6 1264.9 L1709.6 1264.9 L1712.6 1265.0 L1715.6 1265.0 L1718.6 1265.1 L1721.6 1265.1 L1724.6 1265.2 L1727.6 1265.2 L1730.6 1265.3 L1733.6 1265.3 L1736.6 1265.4 L1739.6 1265.4 L1742.6 1265.5 L1745.6 1265.5 L1748.6 1265.5 L1751.6 1265.6 L1754.6 1265.6 L1755.6 1265.6" stroke="#800080"/>
</g>
<text transform="translate(995.3 1445.0) scale(1 1.065)" font-size="58" text-anchor="middle">Wavelength (nm)</text>
<text transform="translate(75.0 665.0) rotate(-90) scale(1 1.065)" font-size="58" text-anchor="middle">Absorbance</text>
<text transform="translate(244.0 117.5) scale(1 1.065)" font-size="58.5">(b)</text>
<rect x="1510.2" y="389.3" width="200.0" height="476.8" fill="#000"/>
<rect x="1492.7" y="371.8" width="198.5" height="477.3" fill="#fff" stroke="#7a7a7a" stroke-width="2.4"/>
<text transform="translate(1630.2 354.0) scale(1 1.065)" font-size="47.5">min</text>
<line x1="1495.7" y1="405.2" x2="1609.2" y2="405.2" stroke="#00ff00" stroke-width="5.8"/>
<text transform="translate(1619.2 422.7) scale(1 1.065)" font-size="46.5">-30</text>
<line x1="1495.7" y1="463.7" x2="1609.2" y2="463.7" stroke="#0010c0" stroke-width="5.8"/>
<text transform="translate(1619.2 481.2) scale(1 1.065)" font-size="46.5">00</text>
<line x1="1495.7" y1="522.3" x2="1609.2" y2="522.3" stroke="#ff8432" stroke-width="5.8"/>
<text transform="translate(1619.2 539.8) scale(1 1.065)" font-size="46.5">15</text>
<line x1="1495.7" y1="580.8" x2="1609.2" y2="580.8" stroke="#ff0000" stroke-width="5.8"/>
<text transform="translate(1619.2 598.3) scale(1 1.065)" font-size="46.5">30</text>
<line x1="1495.7" y1="639.3" x2="1609.2" y2="639.3" stroke="#e566ff" stroke-width="5.8"/>
<text transform="translate(1619.2 656.8) scale(1 1.065)" font-size="46.5">45</text>
<line x1="1495.7" y1="697.8" x2="1609.2" y2="697.8" stroke="#000080" stroke-width="5.8"/>
<text transform="translate(1619.2 715.3) scale(1 1.065)" font-size="46.5">60</text>
<line x1="1495.7" y1="756.4" x2="1609.2" y2="756.4" stroke="#40b8ff" stroke-width="5.8"/>
<text transform="translate(1619.2 773.9) scale(1 1.065)" font-size="46.5">75</text>
<line x1="1495.7" y1="814.9" x2="1609.2" y2="814.9" stroke="#800080" stroke-width="5.8"/>
<text transform="translate(1619.2 832.4) scale(1 1.065)" font-size="46.5">90</text>
<clipPath id="clipc"><rect x="235.0" y="1517.0" width="1519.6" height="1229.3000000000002"/></clipPath>
<line x1="235.0" y1="1517.0" x2="235.0" y2="2771.8" stroke="#000" stroke-width="3.8"/>
<line x1="208.0" y1="2745.8" x2="1757.1" y2="2745.8" stroke="#000" stroke-width="3.8"/>
<line x1="208.0" y1="1518.5" x2="1757.3" y2="1518.5" stroke="#3c3c3c" stroke-width="4.0"/>
<line x1="1755.6" y1="1517.0" x2="1755.6" y2="2771.8" stroke="#000" stroke-width="3.8"/>
<text transform="translate(194.0 2758.1) scale(1 1.065)" font-size="46.5" text-anchor="end">0.0</text>
<line x1="208.0" y1="2500.3" x2="235.0" y2="2500.3" stroke="#2a2a2a" stroke-width="4"/>
<text transform="translate(194.0 2512.6) scale(1 1.065)" font-size="46.5" text-anchor="end">0.5</text>
<line x1="208.0" y1="2254.9" x2="235.0" y2="2254.9" stroke="#2a2a2a" stroke-width="4"/>
<text transform="translate(194.0 2267.2) scale(1 1.065)" font-size="46.5" text-anchor="end">1.0</text>
<line x1="208.0" y1="2009.4" x2="235.0" y2="2009.4" stroke="#2a2a2a" stroke-width="4"/>
<text transform="translate(194.0 2021.7) scale(1 1.065)" font-size="46.5" text-anchor="end">1.5</text>
<line x1="208.0" y1="1764.0" x2="235.0" y2="1764.0" stroke="#2a2a2a" stroke-width="4"/>
<text transform="translate(194.0 1776.3) scale(1 1.065)" font-size="46.5" text-anchor="end">2.0</text>
<text transform="translate(194.0 1530.8) scale(1 1.065)" font-size="46.5" text-anchor="end">2.5</text>
<line x1="220.0" y1="2623.1" x2="235.0" y2="2623.1" stroke="#2a2a2a" stroke-width="3.2"/>
<line x1="220.0" y1="2377.6" x2="235.0" y2="2377.6" stroke="#2a2a2a" stroke-width="3.2"/>
<line x1="220.0" y1="2132.2" x2="235.0" y2="2132.2" stroke="#2a2a2a" stroke-width="3.2"/>
<line x1="220.0" y1="1886.7" x2="235.0" y2="1886.7" stroke="#2a2a2a" stroke-width="3.2"/>
<line x1="220.0" y1="1641.2" x2="235.0" y2="1641.2" stroke="#2a2a2a" stroke-width="3.2"/>
<line x1="741.9" y1="2745.8" x2="741.9" y2="2771.8" stroke="#2a2a2a" stroke-width="4"/>
<line x1="1248.7" y1="2745.8" x2="1248.7" y2="2771.8" stroke="#2a2a2a" stroke-width="4"/>
<line x1="488.4" y1="2745.8" x2="488.4" y2="2760.3" stroke="#2a2a2a" stroke-width="3.2"/>
<line x1="995.3" y1="2745.8" x2="995.3" y2="2760.3" stroke="#2a2a2a" stroke-width="3.2"/>
<line x1="1502.2" y1="2745.8" x2="1502.2" y2="2760.3" stroke="#2a2a2a" stroke-width="3.2"/>
<text transform="translate(235.0 2822.8) scale(1 1.065)" font-size="46.5" text-anchor="middle">450</text>
<text transform="translate(741.9 2822.8) scale(1 1.065)" font-size="46.5" text-anchor="middle">500</text>
<text transform="translate(1248.7 2822.8) scale(1 1.065)" font-size="46.5" text-anchor="middle">550</text>
<text transform="translate(1755.6 2822.8) scale(1 1.065)" font-size="46.5" text-anchor="middle">600</text>
<g clip-path="url(#clipc)" fill="none" stroke-width="5.6" stroke-linejoin="round" stroke-linecap="butt">
<path d="M235.0 2723.5 L238.0 2723.4 L241.0 2723.4 L244.0 2723.3 L247.0 2723.2 L250.0 2723.1 L253.0 2723.0 L256.0 2722.9 L259.0 2722.7 L262.0 2722.5 L265.0 2722.4 L268.0 2722.2 L271.0 2722.0 L274.0 2721.8 L277.0 2721.6 L280.0 2721.3 L283.0 2721.1 L286.0 2720.8 L289.0 2720.6 L292.0 2720.3 L295.0 2720.0 L298.0 2719.7 L301.0 2719.3 L304.0 2719.0 L307.0 2718.7 L310.0 2718.3 L313.0 2717.9 L316.0 2717.5 L319.0 2717.2 L322.0 2716.7 L325.0 2716.3 L328.0 2715.9 L331.0 2715.4 L334.0 2715.0 L337.0 2714.5 L340.0 2714.0 L343.0 2713.5 L346.0 2712.9 L349.0 2712.4 L352.0 2711.8 L355.0 2711.2 L358.0 2710.6 L361.0 2710.0 L364.0 2709.4 L367.0 2708.7 L370.0 2708.0 L373.0 2707.3 L376.0 2706.6 L379.0 2705.9 L382.0 2705.1 L385.0 2704.4 L388.0 2703.6 L391.0 2702.8 L394.0 2701.9 L397.0 2701.1 L400.0 2700.3 L403.0 2699.4 L406.0 2698.5 L409.0 2697.6 L412.0 2696.7 L415.0 2695.8 L418.0 2694.9 L421.0 2694.0 L424.0 2693.1 L426.9 2692.2 L429.9 2691.3 L432.9 2690.4 L435.9 2689.4 L438.9 2688.5 L441.9 2687.5 L444.9 2686.6 L447.9 2685.6 L450.9 2684.6 L453.9 2683.6 L456.9 2682.6 L459.9 2681.7 L462.9 2680.7 L465.9 2679.6 L468.9 2678.6 L471.9 2677.6 L474.9 2676.6 L477.9 2675.5 L480.9 2674.5 L483.9 2673.5 L486.9 2672.4 L489.9 2671.4 L492.9 2670.3 L495.9 2669.2 L498.9 2668.2 L501.9 2667.1 L504.9 2666.0 L507.9 2664.9 L510.9 2663.8 L513.9 2662.7 L516.9 2661.6 L519.9 2660.5 L522.9 2659.4 L525.9 2658.3 L528.9 2657.2 L531.9 2656.1 L534.9 2654.9 L537.9 2653.8 L540.9 2652.6 L543.9 2651.5 L546.9 2650.3 L549.9 2649.1 L552.9 2647.9 L555.9 2646.7 L558.9 2645.5 L561.9 2644.3 L564.9 2643.1 L567.9 2641.8 L570.9 2640.6 L573.9 2639.3 L576.9 2638.0 L579.9 2636.6 L582.9 2635.3 L585.9 2633.9 L588.9 2632.5 L591.9 2631.1 L594.9 2629.6 L597.9 2628.1 L600.9 2626.6 L603.9 2625.0 L606.9 2623.4 L609.9 2621.8 L612.9 2620.1 L615.9 2618.4 L618.9 2616.6 L621.9 2614.8 L624.9 2612.9 L627.9 2611.0 L630.9 2609.0 L633.9 2607.0 L636.9 2604.9 L639.9 2602.8 L642.9 2600.6 L645.9 2598.4 L648.9 2596.2 L651.9 2593.8 L654.9 2591.5 L657.9 2589.0 L660.9 2586.6 L663.9 2584.1 L666.9 2581.5 L669.9 2578.9 L672.9 2576.2 L675.9 2573.5 L678.9 2570.8 L681.9 2568.0 L684.9 2565.2 L687.9 2562.4 L690.9 2559.5 L693.9 2556.6 L696.9 2553.6 L699.9 2550.6 L702.9 2547.6 L705.9 2544.5 L708.9 2541.4 L711.9 2538.3 L714.9 2535.1 L717.9 2531.9 L720.9 2528.6 L723.9 2525.3 L726.9 2522.0 L729.9 2518.6 L732.9 2515.2 L735.9 2511.7 L738.9 2508.2 L741.9 2504.6 L744.9 2501.0 L747.9 2497.3 L750.9 2493.6 L753.9 2489.8 L756.9 2485.9 L759.9 2482.0 L762.9 2478.0 L765.9 2474.1 L768.9 2470.0 L771.9 2465.9 L774.9 2461.8 L777.9 2457.6 L780.9 2453.4 L783.9 2449.2 L786.9 2444.9 L789.9 2440.6 L792.9 2436.3 L795.9 2431.9 L798.9 2427.6 L801.9 2423.2 L804.9 2418.7 L807.8 2414.3 L810.8 2409.8 L813.8 2405.4 L816.8 2400.9 L819.8 2396.4 L822.8 2392.0 L825.8 2387.6 L828.8 2383.2 L831.8 2378.8 L834.8 2374.5 L837.8 2370.2 L840.8 2365.9 L843.8 2361.7 L846.8 2357.5 L849.8 2353.4 L852.8 2349.4 L855.8 2345.4 L858.8 2341.4 L861.8 2337.5 L864.8 2333.7 L867.8 2329.9 L870.8 2326.2 L873.8 2322.6 L876.8 2319.0 L879.8 2315.5 L882.8 2312.1 L885.8 2308.7 L888.8 2305.4 L891.8 2302.2 L894.8 2299.1 L897.8 2296.1 L900.8 2293.2 L903.8 2290.3 L906.8 2287.5 L909.8 2284.8 L912.8 2282.2 L915.8 2279.7 L918.8 2277.3 L921.8 2274.9 L924.8 2272.6 L927.8 2270.4 L930.8 2268.3 L933.8 2266.2 L936.8 2264.3 L939.8 2262.4 L942.8 2260.5 L945.8 2258.8 L948.8 2257.1 L951.8 2255.4 L954.8 2253.8 L957.8 2252.2 L960.8 2250.6 L963.8 2249.1 L966.8 2247.6 L969.8 2246.0 L972.8 2244.5 L975.8 2242.9 L978.8 2241.3 L981.8 2239.7 L984.8 2238.0 L987.8 2236.2 L990.8 2234.4 L993.8 2232.5 L996.8 2230.5 L999.8 2228.5 L1002.8 2226.3 L1005.8 2224.0 L1008.8 2221.7 L1011.8 2219.2 L1014.8 2216.6 L1017.8 2213.9 L1020.8 2211.0 L1023.8 2208.0 L1026.8 2204.9 L1029.8 2201.6 L1032.8 2198.1 L1035.8 2194.5 L1038.8 2190.7 L1041.8 2186.7 L1044.8 2182.5 L1047.8 2178.0 L1050.8 2173.4 L1053.8 2168.5 L1056.8 2163.5 L1059.8 2158.2 L1062.8 2152.7 L1065.8 2147.0 L1068.8 2141.1 L1071.8 2135.1 L1074.8 2128.8 L1077.8 2122.4 L1080.8 2115.8 L1083.8 2109.0 L1086.8 2102.0 L1089.8 2094.9 L1092.8 2087.6 L1095.8 2080.2 L1098.8 2072.6 L1101.8 2064.8 L1104.8 2056.9 L1107.8 2048.9 L1110.8 2040.6 L1113.8 2032.2 L1116.8 2023.6 L1119.8 2014.8 L1122.8 2005.7 L1125.8 1996.4 L1128.8 1986.9 L1131.8 1977.0 L1134.8 1966.8 L1137.8 1956.4 L1140.8 1945.8 L1143.8 1934.9 L1146.8 1923.8 L1149.8 1912.6 L1152.8 1901.4 L1155.8 1890.0 L1158.8 1878.6 L1161.8 1867.0 L1164.8 1855.4 L1167.8 1843.7 L1170.8 1831.8 L1173.8 1819.9 L1176.8 1807.8 L1179.8 1795.6 L1182.8 1783.4 L1185.7 1771.2 L1188.7 1759.1 L1191.7 1746.9 L1194.7 1735.0 L1197.7 1723.1 L1200.7 1711.5 L1203.7 1700.0 L1206.7 1688.9 L1209.7 1678.0 L1212.7 1667.5 L1215.7 1657.2 L1218.7 1647.4 L1221.7 1637.9 L1224.7 1628.7 L1227.7 1620.0 L1230.7 1611.6 L1233.7 1603.6 L1236.7 1596.0 L1239.7 1588.8 L1242.7 1582.0 L1245.7 1575.6 L1248.7 1569.6 L1251.7 1564.1 L1254.7 1559.0 L1257.7 1554.4 L1260.7 1550.2 L1263.7 1546.4 L1266.7 1543.1 L1269.7 1540.3 L1272.7 1537.9 L1275.7 1536.0 L1278.7 1534.5 L1281.7 1533.5 L1284.7 1533.0 L1287.7 1532.9 L1290.7 1533.2 L1293.7 1534.0 L1296.7 1535.3 L1299.7 1537.1 L1302.7 1539.3 L1305.7 1542.1 L1308.7 1545.3 L1311.7 1549.0 L1314.7 1553.2 L1317.7 1558.0 L1320.7 1563.3 L1323.7 1569.1 L1326.7 1575.5 L1329.7 1582.4 L1332.7 1589.9 L1335.7 1598.0 L1338.7 1606.6 L1341.7 1615.8 L1344.7 1625.6 L1347.7 1635.9 L1350.7 1646.8 L1353.7 1658.2 L1356.7 1670.2 L1359.7 1682.8 L1362.7 1696.0 L1365.7 1709.7 L1368.7 1724.0 L1371.7 1738.8 L1374.7 1754.1 L1377.7 1769.9 L1380.7 1786.2 L1383.7 1802.8 L1386.7 1819.7 L1389.7 1836.8 L1392.7 1854.1 L1395.7 1871.5 L1398.7 1888.9 L1401.7 1906.3 L1404.7 1923.7 L1407.7 1941.0 L1410.7 1958.2 L1413.7 1975.2 L1416.7 1992.2 L1419.7 2009.1 L1422.7 2025.8 L1425.7 2042.5 L1428.7 2059.1 L1431.7 2075.7 L1434.7 2092.2 L1437.7 2108.6 L1440.7 2125.0 L1443.7 2141.3 L1446.7 2157.6 L1449.7 2173.8 L1452.7 2189.9 L1455.7 2206.0 L1458.7 2222.0 L1461.7 2237.9 L1464.7 2253.6 L1467.7 2269.2 L1470.7 2284.6 L1473.7 2299.7 L1476.7 2314.7 L1479.7 2329.3 L1482.7 2343.6 L1485.7 2357.6 L1488.7 2371.3 L1491.7 2384.6 L1494.7 2397.5 L1497.7 2410.1 L1500.7 2422.3 L1503.7 2434.2 L1506.7 2445.8 L1509.7 2457.0 L1512.7 2467.9 L1515.7 2478.4 L1518.7 2488.7 L1521.7 2498.7 L1524.7 2508.4 L1527.7 2517.9 L1530.7 2527.1 L1533.7 2536.1 L1536.7 2544.8 L1539.7 2553.3 L1542.7 2561.6 L1545.7 2569.6 L1548.7 2577.4 L1551.7 2585.0 L1554.7 2592.4 L1557.7 2599.5 L1560.7 2606.4 L1563.7 2613.0 L1566.6 2619.4 L1569.6 2625.6 L1572.6 2631.5 L1575.6 2637.2 L1578.6 2642.6 L1581.6 2647.8 L1584.6 2652.7 L1587.6 2657.5 L1590.6 2662.0 L1593.6 2666.2 L1596.6 2670.3 L1599.6 2674.1 L1602.6 2677.7 L1605.6 2681.2 L1608.6 2684.4 L1611.6 2687.5 L1614.6 2690.3 L1617.6 2693.1 L1620.6 2695.6 L1623.6 2698.1 L1626.6 2700.3 L1629.6 2702.5 L1632.6 2704.6 L1635.6 2706.5 L1638.6 2708.3 L1641.6 2710.1 L1644.6 2711.7 L1647.6 2713.3 L1650.6 2714.8 L1653.6 2716.2 L1656.6 2717.5 L1659.6 2718.8 L1662.6 2720.0 L1665.6 2721.1 L1668.6 2722.2 L1671.6 2723.2 L1674.6 2724.1 L1677.6 2725.0 L1680.6 2725.8 L1683.6 2726.6 L1686.6 2727.3 L1689.6 2728.0 L1692.6 2728.6 L1695.6 2729.2 L1698.6 2729.8 L1701.6 2730.3 L1704.6 2730.7 L1707.6 2731.2 L1710.6 2731.6 L1713.6 2731.9 L1716.6 2732.3 L1719.6 2732.6 L1722.6 2732.8 L1725.6 2733.1 L1728.6 2733.3 L1731.6 2733.5 L1734.6 2733.7 L1737.6 2733.9 L1740.6 2734.0 L1743.6 2734.2 L1746.6 2734.3 L1749.6 2734.4 L1752.6 2734.4 L1755.6 2734.5" stroke="#ff0000"/>
<path d="M235.0 2711.5 L238.0 2711.3 L241.0 2711.1 L244.0 2710.9 L247.0 2710.7 L250.0 2710.5 L253.0 2710.2 L256.0 2710.0 L259.0 2709.8 L262.0 2709.5 L265.0 2709.3 L268.0 2709.0 L271.0 2708.7 L274.0 2708.4 L277.0 2708.1 L280.0 2707.8 L283.0 2707.5 L286.0 2707.2 L289.0 2706.9 L292.0 2706.5 L295.0 2706.2 L298.0 2705.8 L301.0 2705.5 L304.0 2705.1 L307.0 2704.7 L310.0 2704.3 L313.0 2703.9 L316.0 2703.5 L319.0 2703.1 L322.0 2702.7 L325.0 2702.2 L328.0 2701.8 L331.0 2701.3 L334.0 2700.9 L337.0 2700.4 L340.0 2699.9 L343.0 2699.4 L346.0 2698.9 L349.0 2698.4 L352.0 2697.9 L355.0 2697.4 L358.0 2696.8 L361.0 2696.3 L364.0 2695.7 L367.0 2695.1 L370.0 2694.5 L373.0 2694.0 L376.0 2693.3 L379.0 2692.7 L382.0 2692.1 L385.0 2691.5 L388.0 2690.8 L391.0 2690.2 L394.0 2689.5 L397.0 2688.8 L400.0 2688.1 L403.0 2687.4 L406.0 2686.7 L409.0 2686.0 L412.0 2685.3 L415.0 2684.6 L418.0 2683.8 L421.0 2683.1 L424.0 2682.4 L426.9 2681.6 L429.9 2680.9 L432.9 2680.1 L435.9 2679.3 L438.9 2678.6 L441.9 2677.8 L444.9 2677.0 L447.9 2676.2 L450.9 2675.4 L453.9 2674.6 L456.9 2673.8 L459.9 2673.0 L462.9 2672.2 L465.9 2671.4 L468.9 2670.6 L471.9 2669.8 L474.9 2668.9 L477.9 2668.1 L480.9 2667.3 L483.9 2666.4 L486.9 2665.6 L489.9 2664.7 L492.9 2663.9 L495.9 2663.0 L498.9 2662.2 L501.9 2661.3 L504.9 2660.4 L507.9 2659.5 L510.9 2658.7 L513.9 2657.8 L516.9 2656.9 L519.9 2656.0 L522.9 2655.1 L525.9 2654.1 L528.9 2653.2 L531.9 2652.3 L534.9 2651.3 L537.9 2650.3 L540.9 2649.4 L543.9 2648.4 L546.9 2647.4 L549.9 2646.4 L552.9 2645.3 L555.9 2644.3 L558.9 2643.2 L561.9 2642.2 L564.9 2641.1 L567.9 2640.0 L570.9 2638.8 L573.9 2637.7 L576.9 2636.5 L579.9 2635.3 L582.9 2634.1 L585.9 2632.9 L588.9 2631.6 L591.9 2630.4 L594.9 2629.1 L597.9 2627.7 L600.9 2626.4 L603.9 2625.0 L606.9 2623.5 L609.9 2622.1 L612.9 2620.6 L615.9 2619.1 L618.9 2617.5 L621.9 2615.9 L624.9 2614.2 L627.9 2612.6 L630.9 2610.8 L633.9 2609.1 L636.9 2607.3 L639.9 2605.4 L642.9 2603.5 L645.9 2601.6 L648.9 2599.6 L651.9 2597.6 L654.9 2595.5 L657.9 2593.3 L660.9 2591.2 L663.9 2588.9 L666.9 2586.6 L669.9 2584.3 L672.9 2582.0 L675.9 2579.6 L678.9 2577.1 L681.9 2574.7 L684.9 2572.2 L687.9 2569.6 L690.9 2567.1 L693.9 2564.5 L696.9 2561.9 L699.9 2559.3 L702.9 2556.7 L705.9 2554.1 L708.9 2551.4 L711.9 2548.8 L714.9 2546.1 L717.9 2543.4 L720.9 2540.7 L723.9 2538.0 L726.9 2535.3 L729.9 2532.6 L732.9 2529.9 L735.9 2527.2 L738.9 2524.4 L741.9 2521.6 L744.9 2518.8 L747.9 2515.9 L750.9 2513.1 L753.9 2510.1 L756.9 2507.1 L759.9 2504.1 L762.9 2501.0 L765.9 2497.9 L768.9 2494.6 L771.9 2491.4 L774.9 2488.1 L777.9 2484.7 L780.9 2481.3 L783.9 2477.8 L786.9 2474.3 L789.9 2470.8 L792.9 2467.2 L795.9 2463.5 L798.9 2459.8 L801.9 2456.1 L804.9 2452.4 L807.8 2448.6 L810.8 2444.8 L813.8 2441.0 L816.8 2437.2 L819.8 2433.4 L822.8 2429.7 L825.8 2426.0 L828.8 2422.3 L831.8 2418.6 L834.8 2415.0 L837.8 2411.5 L840.8 2408.0 L843.8 2404.6 L846.8 2401.2 L849.8 2397.9 L852.8 2394.6 L855.8 2391.5 L858.8 2388.3 L861.8 2385.3 L864.8 2382.3 L867.8 2379.4 L870.8 2376.5 L873.8 2373.7 L876.8 2371.0 L879.8 2368.4 L882.8 2365.8 L885.8 2363.3 L888.8 2360.9 L891.8 2358.5 L894.8 2356.2 L897.8 2354.0 L900.8 2351.8 L903.8 2349.7 L906.8 2347.7 L909.8 2345.6 L912.8 2343.6 L915.8 2341.7 L918.8 2339.8 L921.8 2337.9 L924.8 2336.0 L927.8 2334.2 L930.8 2332.3 L933.8 2330.6 L936.8 2328.8 L939.8 2327.0 L942.8 2325.3 L945.8 2323.6 L948.8 2321.9 L951.8 2320.2 L954.8 2318.6 L957.8 2317.0 L960.8 2315.4 L963.8 2313.8 L966.8 2312.2 L969.8 2310.7 L972.8 2309.1 L975.8 2307.5 L978.8 2305.9 L981.8 2304.3 L984.8 2302.7 L987.8 2301.0 L990.8 2299.2 L993.8 2297.4 L996.8 2295.6 L999.8 2293.6 L1002.8 2291.6 L1005.8 2289.5 L1008.8 2287.3 L1011.8 2285.0 L1014.8 2282.7 L1017.8 2280.2 L1020.8 2277.7 L1023.8 2275.0 L1026.8 2272.2 L1029.8 2269.3 L1032.8 2266.3 L1035.8 2263.2 L1038.8 2260.0 L1041.8 2256.6 L1044.8 2253.1 L1047.8 2249.5 L1050.8 2245.7 L1053.8 2241.8 L1056.8 2237.7 L1059.8 2233.5 L1062.8 2229.1 L1065.8 2224.6 L1068.8 2219.8 L1071.8 2214.9 L1074.8 2209.8 L1077.8 2204.5 L1080.8 2199.0 L1083.8 2193.4 L1086.8 2187.5 L1089.8 2181.4 L1092.8 2175.2 L1095.8 2168.7 L1098.8 2162.1 L1101.8 2155.2 L1104.8 2148.2 L1107.8 2141.0 L1110.8 2133.7 L1113.8 2126.2 L1116.8 2118.6 L1119.8 2110.8 L1122.8 2102.9 L1125.8 2095.0 L1128.8 2087.0 L1131.8 2078.9 L1134.8 2070.8 L1137.8 2062.6 L1140.8 2054.4 L1143.8 2046.1 L1146.8 2037.7 L1149.8 2029.2 L1152.8 2020.7 L1155.8 2012.0 L1158.8 2003.2 L1161.8 1994.2 L1164.8 1985.0 L1167.8 1975.7 L1170.8 1966.1 L1173.8 1956.4 L1176.8 1946.4 L1179.8 1936.2 L1182.8 1925.9 L1185.7 1915.5 L1188.7 1905.0 L1191.7 1894.4 L1194.7 1883.9 L1197.7 1873.3 L1200.7 1862.9 L1203.7 1852.5 L1206.7 1842.3 L1209.7 1832.2 L1212.7 1822.3 L1215.7 1812.6 L1218.7 1803.1 L1221.7 1794.0 L1224.7 1785.1 L1227.7 1776.7 L1230.7 1768.6 L1233.7 1760.9 L1236.7 1753.7 L1239.7 1747.0 L1242.7 1740.7 L1245.7 1734.8 L1248.7 1729.5 L1251.7 1724.6 L1254.7 1720.1 L1257.7 1716.2 L1260.7 1712.6 L1263.7 1709.5 L1266.7 1706.8 L1269.7 1704.6 L1272.7 1702.8 L1275.7 1701.3 L1278.7 1700.3 L1281.7 1699.8 L1284.7 1699.6 L1287.7 1699.8 L1290.7 1700.5 L1293.7 1701.6 L1296.7 1703.1 L1299.7 1705.0 L1302.7 1707.4 L1305.7 1710.2 L1308.7 1713.5 L1311.7 1717.2 L1314.7 1721.5 L1317.7 1726.1 L1320.7 1731.2 L1323.7 1736.8 L1326.7 1742.9 L1329.7 1749.4 L1332.7 1756.4 L1335.7 1763.9 L1338.7 1771.9 L1341.7 1780.3 L1344.7 1789.2 L1347.7 1798.6 L1350.7 1808.4 L1353.7 1818.8 L1356.7 1829.6 L1359.7 1840.8 L1362.7 1852.5 L1365.7 1864.6 L1368.7 1877.0 L1371.7 1889.7 L1374.7 1902.7 L1377.7 1916.0 L1380.7 1929.4 L1383.7 1943.0 L1386.7 1956.7 L1389.7 1970.5 L1392.7 1984.3 L1395.7 1998.2 L1398.7 2012.2 L1401.7 2026.1 L1404.7 2040.1 L1407.7 2054.2 L1410.7 2068.2 L1413.7 2082.3 L1416.7 2096.5 L1419.7 2110.6 L1422.7 2124.9 L1425.7 2139.1 L1428.7 2153.4 L1431.7 2167.7 L1434.7 2182.0 L1437.7 2196.3 L1440.7 2210.7 L1443.7 2224.9 L1446.7 2239.1 L1449.7 2253.3 L1452.7 2267.3 L1455.7 2281.1 L1458.7 2294.8 L1461.7 2308.3 L1464.7 2321.5 L1467.7 2334.6 L1470.7 2347.3 L1473.7 2359.8 L1476.7 2372.1 L1479.7 2384.0 L1482.7 2395.7 L1485.7 2407.2 L1488.7 2418.4 L1491.7 2429.3 L1494.7 2440.1 L1497.7 2450.5 L1500.7 2460.8 L1503.7 2470.9 L1506.7 2480.7 L1509.7 2490.4 L1512.7 2499.9 L1515.7 2509.1 L1518.7 2518.2 L1521.7 2527.1 L1524.7 2535.9 L1527.7 2544.4 L1530.7 2552.7 L1533.7 2560.9 L1536.7 2568.8 L1539.7 2576.5 L1542.7 2584.0 L1545.7 2591.3 L1548.7 2598.3 L1551.7 2605.1 L1554.7 2611.6 L1557.7 2617.9 L1560.7 2623.9 L1563.7 2629.7 L1566.6 2635.2 L1569.6 2640.5 L1572.6 2645.5 L1575.6 2650.2 L1578.6 2654.7 L1581.6 2659.0 L1584.6 2663.0 L1587.6 2666.8 L1590.6 2670.4 L1593.6 2673.7 L1596.6 2676.8 L1599.6 2679.7 L1602.6 2682.4 L1605.6 2685.0 L1608.6 2687.3 L1611.6 2689.5 L1614.6 2691.5 L1617.6 2693.4 L1620.6 2695.2 L1623.6 2696.8 L1626.6 2698.4 L1629.6 2699.8 L1632.6 2701.2 L1635.6 2702.6 L1638.6 2703.9 L1641.6 2705.1 L1644.6 2706.3 L1647.6 2707.4 L1650.6 2708.6 L1653.6 2709.7 L1656.6 2710.7 L1659.6 2711.8 L1662.6 2712.8 L1665.6 2713.7 L1668.6 2714.7 L1671.6 2715.6 L1674.6 2716.5 L1677.6 2717.4 L1680.6 2718.2 L1683.6 2719.1 L1686.6 2719.9 L1689.6 2720.6 L1692.6 2721.4 L1695.6 2722.1 L1698.6 2722.8 L1701.6 2723.5 L1704.6 2724.1 L1707.6 2724.8 L1710.6 2725.4 L1713.6 2725.9 L1716.6 2726.5 L1719.6 2727.0 L1722.6 2727.6 L1725.6 2728.1 L1728.6 2728.5 L1731.6 2729.0 L1734.6 2729.4 L1737.6 2729.8 L1740.6 2730.2 L1743.6 2730.6 L1746.6 2731.0 L1749.6 2731.3 L1752.6 2731.6 L1755.6 2731.9" stroke="#ff80ff"/>
<path d="M235.0 2692.5 L238.0 2691.9 L241.0 2691.4 L244.0 2690.8 L247.0 2690.3 L250.0 2689.6 L253.0 2689.0 L256.0 2688.4 L259.0 2687.7 L262.0 2687.0 L265.0 2686.3 L268.0 2685.6 L271.0 2684.9 L274.0 2684.1 L277.0 2683.3 L280.0 2682.5 L283.0 2681.7 L286.0 2680.8 L289.0 2680.0 L292.0 2679.1 L295.0 2678.2 L298.0 2677.3 L301.0 2676.3 L304.0 2675.3 L307.0 2674.4 L310.0 2673.4 L313.0 2672.3 L316.0 2671.3 L319.0 2670.3 L322.0 2669.3 L325.0 2668.2 L328.0 2667.2 L331.0 2666.2 L334.0 2665.1 L337.0 2664.1 L340.0 2663.1 L343.0 2662.1 L346.0 2661.1 L349.0 2660.1 L352.0 2659.1 L355.0 2658.1 L358.0 2657.1 L361.0 2656.1 L364.0 2655.1 L367.0 2654.2 L370.0 2653.2 L373.0 2652.3 L376.0 2651.4 L379.0 2650.5 L382.0 2649.7 L385.0 2648.8 L388.0 2648.0 L391.0 2647.2 L394.0 2646.4 L397.0 2645.5 L400.0 2644.7 L403.0 2643.8 L406.0 2642.9 L409.0 2642.0 L412.0 2641.0 L415.0 2640.0 L418.0 2639.0 L421.0 2637.9 L424.0 2636.8 L426.9 2635.7 L429.9 2634.5 L432.9 2633.4 L435.9 2632.2 L438.9 2631.0 L441.9 2629.7 L444.9 2628.5 L447.9 2627.2 L450.9 2625.9 L453.9 2624.6 L456.9 2623.3 L459.9 2621.9 L462.9 2620.6 L465.9 2619.2 L468.9 2617.8 L471.9 2616.4 L474.9 2614.9 L477.9 2613.5 L480.9 2612.0 L483.9 2610.5 L486.9 2609.0 L489.9 2607.4 L492.9 2605.9 L495.9 2604.3 L498.9 2602.7 L501.9 2601.1 L504.9 2599.5 L507.9 2597.9 L510.9 2596.2 L513.9 2594.5 L516.9 2592.8 L519.9 2591.1 L522.9 2589.3 L525.9 2587.6 L528.9 2585.8 L531.9 2584.0 L534.9 2582.1 L537.9 2580.3 L540.9 2578.4 L543.9 2576.5 L546.9 2574.5 L549.9 2572.6 L552.9 2570.6 L555.9 2568.6 L558.9 2566.6 L561.9 2564.5 L564.9 2562.5 L567.9 2560.4 L570.9 2558.3 L573.9 2556.1 L576.9 2554.0 L579.9 2551.8 L582.9 2549.7 L585.9 2547.5 L588.9 2545.3 L591.9 2543.0 L594.9 2540.8 L597.9 2538.6 L600.9 2536.3 L603.9 2534.1 L606.9 2531.8 L609.9 2529.6 L612.9 2527.3 L615.9 2525.0 L618.9 2522.8 L621.9 2520.5 L624.9 2518.2 L627.9 2515.9 L630.9 2513.7 L633.9 2511.4 L636.9 2509.1 L639.9 2506.9 L642.9 2504.6 L645.9 2502.4 L648.9 2500.1 L651.9 2497.9 L654.9 2495.7 L657.9 2493.4 L660.9 2491.2 L663.9 2489.0 L666.9 2486.8 L669.9 2484.6 L672.9 2482.4 L675.9 2480.2 L678.9 2478.1 L681.9 2475.9 L684.9 2473.8 L687.9 2471.7 L690.9 2469.5 L693.9 2467.4 L696.9 2465.3 L699.9 2463.3 L702.9 2461.2 L705.9 2459.1 L708.9 2457.1 L711.9 2455.1 L714.9 2453.0 L717.9 2451.0 L720.9 2449.0 L723.9 2447.0 L726.9 2445.0 L729.9 2443.0 L732.9 2441.1 L735.9 2439.1 L738.9 2437.1 L741.9 2435.2 L744.9 2433.2 L747.9 2431.2 L750.9 2429.3 L753.9 2427.3 L756.9 2425.4 L759.9 2423.4 L762.9 2421.4 L765.9 2419.5 L768.9 2417.5 L771.9 2415.5 L774.9 2413.6 L777.9 2411.6 L780.9 2409.7 L783.9 2407.7 L786.9 2405.8 L789.9 2403.9 L792.9 2401.9 L795.9 2400.0 L798.9 2398.1 L801.9 2396.2 L804.9 2394.3 L807.8 2392.5 L810.8 2390.6 L813.8 2388.7 L816.8 2386.9 L819.8 2385.1 L822.8 2383.3 L825.8 2381.6 L828.8 2379.8 L831.8 2378.1 L834.8 2376.4 L837.8 2374.8 L840.8 2373.1 L843.8 2371.5 L846.8 2369.9 L849.8 2368.3 L852.8 2366.8 L855.8 2365.2 L858.8 2363.7 L861.8 2362.2 L864.8 2360.7 L867.8 2359.3 L870.8 2357.9 L873.8 2356.5 L876.8 2355.1 L879.8 2353.7 L882.8 2352.3 L885.8 2351.0 L888.8 2349.7 L891.8 2348.4 L894.8 2347.1 L897.8 2345.9 L900.8 2344.6 L903.8 2343.4 L906.8 2342.2 L909.8 2341.1 L912.8 2339.9 L915.8 2338.8 L918.8 2337.6 L921.8 2336.5 L924.8 2335.5 L927.8 2334.4 L930.8 2333.3 L933.8 2332.3 L936.8 2331.3 L939.8 2330.3 L942.8 2329.3 L945.8 2328.3 L948.8 2327.4 L951.8 2326.4 L954.8 2325.5 L957.8 2324.5 L960.8 2323.5 L963.8 2322.5 L966.8 2321.5 L969.8 2320.5 L972.8 2319.5 L975.8 2318.4 L978.8 2317.3 L981.8 2316.1 L984.8 2314.9 L987.8 2313.7 L990.8 2312.4 L993.8 2311.1 L996.8 2309.7 L999.8 2308.2 L1002.8 2306.7 L1005.8 2305.1 L1008.8 2303.4 L1011.8 2301.7 L1014.8 2299.9 L1017.8 2298.0 L1020.8 2296.0 L1023.8 2294.0 L1026.8 2291.9 L1029.8 2289.7 L1032.8 2287.5 L1035.8 2285.2 L1038.8 2282.8 L1041.8 2280.4 L1044.8 2278.0 L1047.8 2275.5 L1050.8 2273.0 L1053.8 2270.4 L1056.8 2267.9 L1059.8 2265.3 L1062.8 2262.7 L1065.8 2260.0 L1068.8 2257.4 L1071.8 2254.8 L1074.8 2252.1 L1077.8 2249.5 L1080.8 2246.8 L1083.8 2244.1 L1086.8 2241.4 L1089.8 2238.7 L1092.8 2235.9 L1095.8 2233.2 L1098.8 2230.4 L1101.8 2227.6 L1104.8 2224.7 L1107.8 2221.9 L1110.8 2219.0 L1113.8 2216.1 L1116.8 2213.1 L1119.8 2210.1 L1122.8 2207.1 L1125.8 2204.1 L1128.8 2201.0 L1131.8 2197.9 L1134.8 2194.8 L1137.8 2191.6 L1140.8 2188.4 L1143.8 2185.2 L1146.8 2181.9 L1149.8 2178.6 L1152.8 2175.3 L1155.8 2172.0 L1158.8 2168.6 L1161.8 2165.3 L1164.8 2161.9 L1167.8 2158.6 L1170.8 2155.3 L1173.8 2152.0 L1176.8 2148.8 L1179.8 2145.6 L1182.8 2142.4 L1185.7 2139.4 L1188.7 2136.4 L1191.7 2133.4 L1194.7 2130.6 L1197.7 2127.8 L1200.7 2125.2 L1203.7 2122.6 L1206.7 2120.2 L1209.7 2117.9 L1212.7 2115.7 L1215.7 2113.6 L1218.7 2111.7 L1221.7 2109.9 L1224.7 2108.2 L1227.7 2106.7 L1230.7 2105.4 L1233.7 2104.2 L1236.7 2103.1 L1239.7 2102.3 L1242.7 2101.6 L1245.7 2101.1 L1248.7 2100.7 L1251.7 2100.6 L1254.7 2100.6 L1257.7 2100.9 L1260.7 2101.3 L1263.7 2102.0 L1266.7 2102.8 L1269.7 2103.9 L1272.7 2105.1 L1275.7 2106.5 L1278.7 2108.2 L1281.7 2110.0 L1284.7 2112.0 L1287.7 2114.2 L1290.7 2116.6 L1293.7 2119.2 L1296.7 2122.0 L1299.7 2125.1 L1302.7 2128.3 L1305.7 2131.7 L1308.7 2135.4 L1311.7 2139.2 L1314.7 2143.3 L1317.7 2147.7 L1320.7 2152.2 L1323.7 2157.0 L1326.7 2161.9 L1329.7 2167.1 L1332.7 2172.5 L1335.7 2178.0 L1338.7 2183.8 L1341.7 2189.7 L1344.7 2195.8 L1347.7 2202.0 L1350.7 2208.3 L1353.7 2214.8 L1356.7 2221.4 L1359.7 2228.1 L1362.7 2234.9 L1365.7 2241.8 L1368.7 2248.8 L1371.7 2255.9 L1374.7 2263.1 L1377.7 2270.5 L1380.7 2278.0 L1383.7 2285.6 L1386.7 2293.4 L1389.7 2301.4 L1392.7 2309.6 L1395.7 2317.9 L1398.7 2326.4 L1401.7 2335.1 L1404.7 2344.0 L1407.7 2352.9 L1410.7 2362.0 L1413.7 2371.2 L1416.7 2380.4 L1419.7 2389.6 L1422.7 2398.8 L1425.7 2407.9 L1428.7 2416.9 L1431.7 2425.8 L1434.7 2434.5 L1437.7 2443.2 L1440.7 2451.7 L1443.7 2460.0 L1446.7 2468.2 L1449.7 2476.3 L1452.7 2484.3 L1455.7 2492.1 L1458.7 2499.8 L1461.7 2507.4 L1464.7 2514.8 L1467.7 2522.1 L1470.7 2529.2 L1473.7 2536.3 L1476.7 2543.2 L1479.7 2549.9 L1482.7 2556.5 L1485.7 2562.9 L1488.7 2569.2 L1491.7 2575.4 L1494.7 2581.4 L1497.7 2587.2 L1500.7 2592.8 L1503.7 2598.3 L1506.7 2603.7 L1509.7 2608.8 L1512.7 2613.8 L1515.7 2618.7 L1518.7 2623.4 L1521.7 2627.9 L1524.7 2632.3 L1527.7 2636.5 L1530.7 2640.6 L1533.7 2644.6 L1536.7 2648.4 L1539.7 2652.1 L1542.7 2655.6 L1545.7 2659.1 L1548.7 2662.4 L1551.7 2665.6 L1554.7 2668.7 L1557.7 2671.7 L1560.7 2674.6 L1563.7 2677.4 L1566.6 2680.1 L1569.6 2682.7 L1572.6 2685.2 L1575.6 2687.6 L1578.6 2689.8 L1581.6 2692.0 L1584.6 2694.2 L1587.6 2696.2 L1590.6 2698.1 L1593.6 2700.0 L1596.6 2701.8 L1599.6 2703.5 L1602.6 2705.2 L1605.6 2706.7 L1608.6 2708.3 L1611.6 2709.7 L1614.6 2711.1 L1617.6 2712.5 L1620.6 2713.8 L1623.6 2715.0 L1626.6 2716.2 L1629.6 2717.3 L1632.6 2718.4 L1635.6 2719.5 L1638.6 2720.5 L1641.6 2721.4 L1644.6 2722.3 L1647.6 2723.2 L1650.6 2724.0 L1653.6 2724.8 L1656.6 2725.6 L1659.6 2726.3 L1662.6 2727.0 L1665.6 2727.6 L1668.6 2728.2 L1671.6 2728.8 L1674.6 2729.4 L1677.6 2729.9 L1680.6 2730.4 L1683.6 2730.9 L1686.6 2731.3 L1689.6 2731.7 L1692.6 2732.1 L1695.6 2732.5 L1698.6 2732.9 L1701.6 2733.2 L1704.6 2733.5 L1707.6 2733.9 L1710.6 2734.1 L1713.6 2734.4 L1716.6 2734.7 L1719.6 2734.9 L1722.6 2735.1 L1725.6 2735.4 L1728.6 2735.5 L1731.6 2735.7 L1734.6 2735.9 L1737.6 2736.1 L1740.6 2736.2 L1743.6 2736.4 L1746.6 2736.5 L1749.6 2736.6 L1752.6 2736.7 L1755.6 2736.8" stroke="#0010c0"/>
<path d="M235.0 2670.1 L238.0 2668.8 L241.0 2667.7 L244.0 2666.5 L247.0 2665.3 L250.0 2664.1 L253.0 2662.9 L256.0 2661.7 L259.0 2660.5 L262.0 2659.3 L265.0 2658.1 L268.0 2656.8 L271.0 2655.6 L274.0 2654.4 L277.0 2653.1 L280.0 2651.9 L283.0 2650.7 L286.0 2649.4 L289.0 2648.2 L292.0 2646.9 L295.0 2645.6 L298.0 2644.4 L301.0 2643.1 L304.0 2641.9 L307.0 2640.6 L310.0 2639.3 L313.0 2638.0 L316.0 2636.7 L319.0 2635.4 L322.0 2634.1 L325.0 2632.8 L328.0 2631.5 L331.0 2630.2 L334.0 2628.9 L337.0 2627.5 L340.0 2626.2 L343.0 2624.9 L346.0 2623.5 L349.0 2622.2 L352.0 2620.8 L355.0 2619.4 L358.0 2618.1 L361.0 2616.7 L364.0 2615.3 L367.0 2613.9 L370.0 2612.6 L373.0 2611.2 L376.0 2609.8 L379.0 2608.4 L382.0 2607.0 L385.0 2605.6 L388.0 2604.2 L391.0 2602.8 L394.0 2601.4 L397.0 2600.0 L400.0 2598.6 L403.0 2597.1 L406.0 2595.7 L409.0 2594.2 L412.0 2592.7 L415.0 2591.2 L418.0 2589.7 L421.0 2588.1 L424.0 2586.6 L427.0 2585.0 L430.0 2583.4 L433.0 2581.8 L436.0 2580.2 L439.0 2578.6 L442.0 2576.9 L445.0 2575.3 L448.0 2573.6 L451.0 2572.0 L454.0 2570.3 L457.0 2568.6 L460.0 2566.9 L463.0 2565.2 L466.0 2563.4 L469.0 2561.7 L472.0 2559.9 L475.0 2558.1 L478.0 2556.3 L481.0 2554.5 L484.0 2552.6 L487.0 2550.7 L490.0 2548.8 L493.0 2546.8 L496.0 2544.8 L499.0 2542.8 L502.0 2540.8 L505.0 2538.8 L508.0 2536.7 L511.0 2534.5 L514.0 2532.4 L517.0 2530.2 L520.0 2528.0 L523.0 2525.7 L526.0 2523.5 L529.0 2521.1 L532.0 2518.8 L535.0 2516.4 L538.0 2514.0 L541.0 2511.5 L544.0 2509.0 L547.0 2506.5 L550.0 2503.9 L553.0 2501.3 L556.0 2498.7 L559.0 2496.0 L562.0 2493.3 L565.0 2490.5 L568.0 2487.8 L571.0 2484.9 L574.0 2482.1 L577.0 2479.3 L580.0 2476.4 L583.0 2473.5 L586.0 2470.6 L589.0 2467.6 L592.0 2464.7 L595.0 2461.7 L598.0 2458.8 L601.0 2455.8 L604.0 2452.9 L607.0 2450.0 L610.0 2447.0 L613.0 2444.1 L616.0 2441.2 L619.0 2438.3 L622.0 2435.4 L625.0 2432.6 L628.0 2429.8 L631.0 2427.0 L634.0 2424.2 L637.0 2421.5 L640.0 2418.8 L643.0 2416.1 L646.0 2413.5 L649.0 2410.9 L652.0 2408.3 L655.0 2405.8 L658.0 2403.3 L661.0 2400.9 L664.0 2398.5 L667.0 2396.2 L670.0 2393.9 L673.0 2391.7 L676.0 2389.6 L679.0 2387.5 L682.0 2385.4 L685.0 2383.4 L688.0 2381.5 L691.0 2379.6 L694.0 2377.7 L697.0 2376.0 L700.0 2374.2 L703.0 2372.6 L706.0 2371.0 L709.0 2369.4 L712.0 2367.9 L715.0 2366.5 L718.0 2365.1 L721.0 2363.7 L724.0 2362.5 L727.0 2361.2 L730.0 2360.1 L733.0 2358.9 L736.0 2357.9 L739.0 2356.9 L742.0 2356.0 L745.0 2355.1 L748.0 2354.3 L751.0 2353.5 L754.0 2352.8 L757.0 2352.2 L760.0 2351.6 L763.0 2351.1 L766.0 2350.7 L769.0 2350.3 L772.0 2349.9 L775.0 2349.6 L778.0 2349.4 L781.0 2349.2 L784.0 2349.1 L787.0 2349.0 L790.0 2348.9 L793.0 2348.9 L796.0 2349.0 L799.0 2349.1 L802.0 2349.2 L805.0 2349.4 L808.0 2349.7 L811.0 2349.9 L814.0 2350.3 L817.0 2350.6 L820.0 2351.0 L823.0 2351.4 L826.0 2351.8 L829.0 2352.3 L832.0 2352.7 L835.0 2353.2 L838.0 2353.7 L841.0 2354.1 L844.0 2354.6 L847.0 2355.0 L850.0 2355.5 L853.0 2355.9 L855.9 2356.4 L858.9 2356.8 L861.9 2357.3 L864.9 2357.7 L867.9 2358.2 L870.9 2358.6 L873.9 2359.0 L876.9 2359.5 L879.9 2359.9 L882.9 2360.3 L885.9 2360.8 L888.9 2361.2 L891.9 2361.6 L894.9 2362.0 L897.9 2362.4 L900.9 2362.7 L903.9 2363.1 L906.9 2363.4 L909.9 2363.7 L912.9 2364.0 L915.9 2364.2 L918.9 2364.5 L921.9 2364.7 L924.9 2364.9 L927.9 2365.1 L930.9 2365.2 L933.9 2365.4 L936.9 2365.5 L939.9 2365.6 L942.9 2365.7 L945.9 2365.7 L948.9 2365.7 L951.9 2365.7 L954.9 2365.7 L957.9 2365.6 L960.9 2365.5 L963.9 2365.4 L966.9 2365.3 L969.9 2365.1 L972.9 2364.9 L975.9 2364.6 L978.9 2364.4 L981.9 2364.1 L984.9 2363.7 L987.9 2363.4 L990.9 2363.0 L993.9 2362.6 L996.9 2362.2 L999.9 2361.8 L1002.9 2361.4 L1005.9 2361.0 L1008.9 2360.6 L1011.9 2360.2 L1014.9 2359.8 L1017.9 2359.4 L1020.9 2359.0 L1023.9 2358.6 L1026.9 2358.2 L1029.9 2357.9 L1032.9 2357.5 L1035.9 2357.1 L1038.9 2356.7 L1041.9 2356.4 L1044.9 2356.0 L1047.9 2355.7 L1050.9 2355.3 L1053.9 2355.0 L1056.9 2354.7 L1059.9 2354.3 L1062.9 2354.0 L1065.9 2353.7 L1068.9 2353.4 L1071.9 2353.1 L1074.9 2352.9 L1077.9 2352.6 L1080.9 2352.4 L1083.9 2352.2 L1086.9 2352.0 L1089.9 2351.8 L1092.9 2351.6 L1095.9 2351.5 L1098.9 2351.3 L1101.9 2351.2 L1104.9 2351.2 L1107.9 2351.1 L1110.9 2351.0 L1113.9 2351.0 L1116.9 2351.0 L1119.9 2351.1 L1122.9 2351.1 L1125.9 2351.2 L1128.9 2351.3 L1131.9 2351.4 L1134.9 2351.5 L1137.9 2351.7 L1140.9 2351.9 L1143.9 2352.1 L1146.9 2352.4 L1149.9 2352.6 L1152.9 2352.9 L1155.9 2353.3 L1158.9 2353.6 L1161.9 2354.0 L1164.9 2354.4 L1167.9 2354.8 L1170.9 2355.3 L1173.9 2355.8 L1176.9 2356.3 L1179.9 2356.8 L1182.9 2357.4 L1185.9 2358.0 L1188.9 2358.6 L1208.2 2356.7 L1211.2 2357.7 L1214.2 2358.6 L1217.2 2359.6 L1220.2 2360.7 L1223.2 2361.7 L1226.2 2362.8 L1229.2 2364.0 L1232.2 2365.2 L1235.2 2366.4 L1238.2 2367.8 L1241.2 2369.1 L1244.2 2370.6 L1247.2 2372.1 L1250.2 2373.7 L1253.2 2375.4 L1256.2 2377.1 L1259.2 2378.9 L1262.2 2380.9 L1265.2 2382.9 L1268.2 2384.9 L1271.2 2387.1 L1274.2 2389.4 L1277.2 2391.7 L1280.2 2394.1 L1283.2 2396.6 L1286.2 2399.2 L1289.2 2401.8 L1292.2 2404.6 L1295.2 2407.4 L1298.2 2410.3 L1301.2 2413.2 L1304.2 2416.3 L1307.2 2419.4 L1310.2 2422.5 L1313.2 2425.8 L1316.2 2429.1 L1319.2 2432.5 L1322.2 2435.9 L1325.2 2439.4 L1328.2 2443.0 L1331.2 2446.6 L1334.2 2450.3 L1337.2 2454.1 L1340.2 2457.9 L1343.2 2461.7 L1346.2 2465.6 L1349.2 2469.6 L1352.2 2473.6 L1355.2 2477.6 L1358.2 2481.7 L1361.2 2485.7 L1364.2 2489.9 L1367.2 2494.0 L1370.2 2498.2 L1373.2 2502.3 L1376.2 2506.5 L1379.2 2510.7 L1382.2 2514.9 L1385.2 2519.0 L1388.2 2522.9 L1391.2 2527.5 L1409.9 2568.5 L1412.9 2573.2 L1415.9 2577.1 L1418.9 2581.3 L1421.9 2585.4 L1424.9 2589.5 L1427.9 2593.5 L1430.9 2597.4 L1433.9 2601.3 L1436.9 2605.1 L1439.9 2608.9 L1442.9 2612.5 L1445.9 2616.1 L1448.9 2619.7 L1451.9 2623.2 L1454.9 2626.6 L1457.9 2630.0 L1460.9 2633.3 L1463.9 2636.5 L1466.9 2639.7 L1469.9 2642.8 L1472.9 2645.9 L1475.9 2648.9 L1478.9 2651.9 L1481.9 2654.8 L1484.8 2657.7 L1487.8 2660.5 L1490.8 2663.2 L1493.8 2665.9 L1496.8 2668.5 L1499.8 2671.1 L1502.8 2673.6 L1505.8 2676.1 L1508.8 2678.5 L1511.8 2680.9 L1514.8 2683.2 L1517.8 2685.5 L1520.8 2687.7 L1523.8 2689.8 L1526.8 2691.9 L1529.8 2693.9 L1532.8 2695.9 L1535.8 2697.8 L1538.8 2699.6 L1541.8 2701.4 L1544.8 2703.1 L1547.8 2704.8 L1550.8 2706.4 L1553.8 2707.9 L1556.8 2709.4 L1559.8 2710.8 L1562.8 2712.2 L1565.8 2713.5 L1568.8 2714.7 L1571.8 2715.9 L1574.8 2717.0 L1577.8 2718.1 L1580.8 2719.2 L1583.8 2720.2 L1586.8 2721.1 L1589.8 2722.0 L1592.7 2722.9 L1595.7 2723.7 L1598.7 2724.5 L1601.7 2725.3 L1604.7 2726.0 L1607.7 2726.6 L1610.7 2727.3 L1613.7 2727.9 L1616.7 2728.4 L1619.7 2729.0 L1622.7 2729.5 L1625.7 2730.0 L1628.7 2730.4 L1631.7 2730.9 L1634.7 2731.3 L1637.7 2731.7 L1640.7 2732.1 L1643.7 2732.5 L1646.7 2732.8 L1649.7 2733.2 L1652.7 2733.5 L1655.7 2733.9 L1658.7 2734.2 L1661.7 2734.5 L1664.7 2734.8 L1667.7 2735.1 L1670.7 2735.4 L1673.7 2735.7 L1676.7 2735.9 L1679.7 2736.2 L1682.7 2736.4 L1685.7 2736.6 L1688.7 2736.8 L1691.7 2737.1 L1694.7 2737.3 L1697.7 2737.4 L1700.7 2737.6 L1703.6 2737.8 L1706.6 2737.9 L1709.6 2738.1 L1712.6 2738.2 L1715.6 2738.3 L1718.6 2738.5 L1721.6 2738.6 L1724.6 2738.7 L1727.6 2738.7 L1730.6 2738.8 L1733.6 2738.9 L1736.6 2739.0 L1739.6 2739.0 L1742.6 2739.0 L1745.6 2739.1 L1748.6 2739.1 L1751.6 2739.1 L1754.6 2739.1 L1755.6 2739.1" stroke="#fa0082"/>
<path d="M235.0 2656.2 L238.0 2654.5 L241.0 2653.1 L244.0 2651.6 L247.0 2650.0 L250.0 2648.5 L253.0 2646.9 L256.0 2645.4 L259.0 2643.8 L262.0 2642.3 L265.0 2640.7 L268.0 2639.2 L271.0 2637.6 L274.0 2636.1 L277.0 2634.6 L280.0 2633.0 L283.0 2631.5 L286.0 2629.9 L289.0 2628.4 L292.0 2626.8 L295.0 2625.3 L298.0 2623.7 L301.0 2622.2 L304.0 2620.6 L307.0 2619.1 L310.0 2617.5 L313.0 2616.0 L316.0 2614.4 L319.0 2612.9 L322.0 2611.3 L325.0 2609.7 L328.0 2608.2 L331.0 2606.6 L334.0 2605.0 L337.0 2603.4 L340.0 2601.8 L343.0 2600.2 L346.0 2598.6 L349.0 2597.0 L352.0 2595.4 L355.0 2593.7 L358.0 2592.1 L361.0 2590.4 L364.0 2588.8 L367.0 2587.1 L370.0 2585.5 L373.0 2583.8 L376.0 2582.1 L379.0 2580.4 L382.0 2578.8 L385.0 2577.1 L388.0 2575.4 L391.0 2573.7 L394.0 2572.0 L397.0 2570.3 L400.0 2568.7 L403.0 2567.0 L406.0 2565.3 L409.0 2563.7 L412.0 2562.0 L415.0 2560.3 L418.0 2558.7 L421.0 2557.0 L424.0 2555.4 L427.0 2553.8 L430.0 2552.1 L433.0 2550.5 L436.0 2548.8 L439.0 2547.2 L442.0 2545.5 L445.0 2543.8 L448.0 2542.1 L451.0 2540.4 L454.0 2538.6 L457.0 2536.8 L460.0 2534.9 L463.0 2533.0 L466.0 2531.1 L469.0 2529.1 L472.0 2527.1 L475.0 2525.0 L478.0 2522.9 L481.0 2520.7 L484.0 2518.5 L487.0 2516.3 L490.0 2514.0 L493.0 2511.6 L496.0 2509.2 L499.0 2506.8 L502.0 2504.3 L505.0 2501.8 L508.0 2499.2 L511.0 2496.5 L514.0 2493.8 L517.0 2491.0 L520.0 2488.2 L523.0 2485.3 L526.0 2482.4 L529.0 2479.4 L532.0 2476.4 L535.0 2473.3 L538.0 2470.1 L541.0 2466.9 L544.0 2463.7 L547.0 2460.4 L550.0 2457.1 L553.0 2453.7 L556.0 2450.3 L559.0 2446.9 L562.0 2443.4 L565.0 2439.9 L568.0 2436.3 L571.0 2432.8 L574.0 2429.2 L577.0 2425.6 L580.0 2421.9 L583.0 2418.3 L586.0 2414.6 L589.0 2411.0 L592.0 2407.3 L595.0 2403.6 L598.0 2400.0 L601.0 2396.3 L604.0 2392.7 L607.0 2389.0 L610.0 2385.4 L613.0 2381.9 L616.0 2378.3 L619.0 2374.8 L622.0 2371.3 L625.0 2367.9 L628.0 2364.6 L631.0 2361.3 L634.0 2358.0 L637.0 2354.9 L640.0 2351.8 L643.0 2348.7 L646.0 2345.8 L649.0 2342.9 L652.0 2340.2 L655.0 2337.5 L658.0 2334.9 L661.0 2332.4 L664.0 2330.0 L667.0 2327.7 L670.0 2325.5 L673.0 2323.4 L676.0 2321.4 L679.0 2319.6 L682.0 2317.8 L685.0 2316.1 L688.0 2314.5 L691.0 2313.1 L694.0 2311.7 L697.0 2310.4 L700.0 2309.3 L703.0 2308.2 L706.0 2307.3 L709.0 2306.5 L712.0 2305.7 L715.0 2305.1 L718.0 2304.6 L721.0 2304.2 L724.0 2303.8 L727.0 2303.6 L730.0 2303.5 L733.0 2303.5 L736.0 2303.6 L739.0 2303.8 L742.0 2304.1 L745.0 2304.6 L748.0 2305.1 L751.0 2305.8 L754.0 2306.6 L757.0 2307.5 L760.0 2308.5 L763.0 2309.6 L766.0 2310.8 L769.0 2312.1 L772.0 2313.5 L775.0 2315.0 L778.0 2316.6 L781.0 2318.2 L784.0 2319.9 L787.0 2321.7 L790.0 2323.5 L793.0 2325.4 L796.0 2327.3 L799.0 2329.2 L802.0 2331.2 L805.0 2333.3 L808.0 2335.3 L811.0 2337.5 L814.0 2339.6 L817.0 2341.9 L820.0 2344.1 L823.0 2346.5 L826.0 2348.8 L829.0 2351.3 L832.0 2353.8 L835.0 2356.4 L838.0 2359.1 L841.0 2361.8 L844.0 2364.5 L847.0 2367.3 L850.0 2370.1 L853.0 2372.8 L855.9 2375.6 L858.9 2378.4 L861.9 2381.1 L864.9 2383.8 L867.9 2386.4 L870.9 2389.0 L873.9 2391.6 L876.9 2394.1 L879.9 2396.6 L882.9 2399.1 L885.9 2401.5 L888.9 2403.8 L891.9 2406.0 L894.9 2408.2 L897.9 2410.4 L900.9 2412.5 L903.9 2414.5 L906.9 2416.4 L909.9 2418.3 L912.9 2420.1 L915.9 2421.8 L918.9 2423.4 L921.9 2425.0 L924.9 2426.6 L927.9 2428.0 L930.9 2429.4 L933.9 2430.8 L936.9 2432.0 L939.9 2433.3 L942.9 2434.4 L945.9 2435.5 L948.9 2436.6 L951.9 2437.6 L954.9 2438.6 L957.9 2439.6 L960.9 2440.5 L963.9 2441.4 L966.9 2442.3 L969.9 2443.1 L972.9 2444.0 L975.9 2444.8 L978.9 2445.6 L981.9 2446.4 L984.9 2447.2 L987.9 2447.9 L990.9 2448.6 L993.9 2449.3 L996.9 2450.0 L999.9 2450.7 L1002.9 2451.4 L1005.9 2452.0 L1008.9 2452.7 L1011.9 2453.3 L1014.9 2453.9 L1017.9 2454.5 L1020.9 2455.1 L1023.9 2455.7 L1026.9 2456.3 L1029.9 2456.9 L1032.9 2457.5 L1035.9 2458.1 L1038.9 2458.8 L1041.9 2459.4 L1044.9 2460.1 L1047.9 2460.7 L1050.9 2461.4 L1053.9 2462.2 L1056.9 2462.9 L1059.9 2463.7 L1062.9 2464.4 L1065.9 2465.2 L1068.9 2466.0 L1071.9 2466.9 L1074.9 2467.7 L1077.9 2468.6 L1080.9 2469.5 L1083.9 2470.4 L1086.9 2471.3 L1089.9 2472.2 L1092.9 2473.2 L1095.9 2474.2 L1098.9 2475.2 L1101.9 2476.2 L1104.9 2477.2 L1107.9 2478.3 L1110.9 2479.3 L1113.9 2480.4 L1116.9 2481.5 L1119.9 2482.7 L1122.9 2483.8 L1125.9 2485.0 L1128.9 2486.2 L1131.9 2487.4 L1134.9 2488.6 L1137.9 2489.8 L1140.9 2491.1 L1143.9 2492.4 L1146.9 2493.7 L1149.9 2495.0 L1152.9 2496.3 L1155.9 2497.6 L1158.9 2499.0 L1161.9 2500.3 L1164.9 2501.7 L1167.9 2503.0 L1170.9 2504.4 L1173.9 2505.8 L1176.9 2507.2 L1179.9 2508.6 L1182.9 2510.1 L1185.9 2511.4 L1188.9 2512.9 L1208.2 2512.9 L1211.2 2514.6 L1214.2 2516.2 L1217.2 2517.8 L1220.2 2519.4 L1223.2 2521.0 L1226.2 2522.7 L1229.2 2524.3 L1232.2 2526.0 L1235.2 2527.6 L1238.2 2529.3 L1241.2 2531.0 L1244.2 2532.7 L1247.2 2534.4 L1250.2 2536.2 L1253.2 2537.9 L1256.2 2539.7 L1259.2 2541.5 L1262.2 2543.3 L1265.2 2545.1 L1268.2 2547.0 L1271.2 2548.8 L1274.2 2550.7 L1277.2 2552.6 L1280.2 2554.6 L1283.2 2556.5 L1286.2 2558.5 L1289.2 2560.5 L1292.2 2562.5 L1295.2 2564.5 L1298.2 2566.5 L1301.2 2568.6 L1304.2 2570.6 L1307.2 2572.7 L1310.2 2574.8 L1313.2 2576.9 L1316.2 2579.0 L1319.2 2581.2 L1322.2 2583.3 L1325.2 2585.5 L1328.2 2587.6 L1331.2 2589.8 L1334.2 2592.0 L1337.2 2594.2 L1340.2 2596.4 L1343.2 2598.6 L1346.2 2600.9 L1349.2 2603.1 L1352.2 2605.3 L1355.2 2607.5 L1358.2 2609.8 L1361.2 2612.0 L1364.2 2614.2 L1367.2 2616.5 L1370.2 2618.7 L1373.2 2620.9 L1376.2 2623.1 L1379.2 2625.3 L1382.2 2627.5 L1385.2 2629.7 L1388.2 2631.7 L1391.2 2634.1 L1409.9 2659.8 L1412.9 2662.0 L1415.9 2663.9 L1418.9 2666.0 L1421.9 2668.0 L1424.9 2669.9 L1427.9 2671.9 L1430.9 2673.8 L1433.9 2675.7 L1436.9 2677.5 L1439.9 2679.3 L1442.9 2681.1 L1445.9 2682.9 L1448.9 2684.6 L1451.9 2686.3 L1454.9 2687.9 L1457.9 2689.6 L1460.9 2691.2 L1463.9 2692.7 L1466.9 2694.2 L1469.9 2695.7 L1472.9 2697.2 L1475.9 2698.6 L1478.9 2700.0 L1481.9 2701.4 L1484.8 2702.8 L1487.8 2704.1 L1490.8 2705.4 L1493.8 2706.6 L1496.8 2707.9 L1499.8 2709.1 L1502.8 2710.3 L1505.8 2711.4 L1508.8 2712.6 L1511.8 2713.7 L1514.8 2714.8 L1517.8 2715.8 L1520.8 2716.9 L1523.8 2717.9 L1526.8 2718.9 L1529.8 2719.8 L1532.8 2720.7 L1535.8 2721.6 L1538.8 2722.5 L1541.8 2723.3 L1544.8 2724.2 L1547.8 2725.0 L1550.8 2725.7 L1553.8 2726.4 L1556.8 2727.2 L1559.8 2727.8 L1562.8 2728.5 L1565.8 2729.1 L1568.8 2729.7 L1571.8 2730.3 L1574.8 2730.8 L1577.8 2731.3 L1580.8 2731.8 L1583.8 2732.3 L1586.8 2732.8 L1589.8 2733.2 L1592.7 2733.6 L1595.7 2734.0 L1598.7 2734.3 L1601.7 2734.7 L1604.7 2735.0 L1607.7 2735.3 L1610.7 2735.6 L1613.7 2735.8 L1616.7 2736.1 L1619.7 2736.3 L1622.7 2736.5 L1625.7 2736.7 L1628.7 2736.9 L1631.7 2737.1 L1634.7 2737.2 L1637.7 2737.4 L1640.7 2737.5 L1643.7 2737.7 L1646.7 2737.8 L1649.7 2737.9 L1652.7 2738.1 L1655.7 2738.2 L1658.7 2738.3 L1661.7 2738.4 L1664.7 2738.6 L1667.7 2738.7 L1670.7 2738.8 L1673.7 2738.9 L1676.7 2739.0 L1679.7 2739.2 L1682.7 2739.3 L1685.7 2739.4 L1688.7 2739.5 L1691.7 2739.7 L1694.7 2739.8 L1697.7 2739.9 L1700.7 2740.1 L1703.6 2740.2 L1706.6 2740.3 L1709.6 2740.5 L1712.6 2740.6 L1715.6 2740.8 L1718.6 2740.9 L1721.6 2741.0 L1724.6 2741.2 L1727.6 2741.3 L1730.6 2741.5 L1733.6 2741.6 L1736.6 2741.8 L1739.6 2741.9 L1742.6 2742.1 L1745.6 2742.3 L1748.6 2742.4 L1751.6 2742.6 L1754.6 2742.7 L1755.6 2742.8" stroke="#0f960f"/>
<path d="M235.0 2645.0 L238.0 2643.2 L241.0 2641.6 L244.0 2639.9 L247.0 2638.2 L250.0 2636.4 L253.0 2634.7 L256.0 2633.0 L259.0 2631.3 L262.0 2629.6 L265.0 2627.8 L268.0 2626.1 L271.0 2624.4 L274.0 2622.7 L277.0 2620.9 L280.0 2619.2 L283.0 2617.5 L286.0 2615.8 L289.0 2614.0 L292.0 2612.3 L295.0 2610.6 L298.0 2608.8 L301.0 2607.1 L304.0 2605.4 L307.0 2603.6 L310.0 2601.9 L313.0 2600.1 L316.0 2598.4 L319.0 2596.6 L322.0 2594.9 L325.0 2593.1 L328.0 2591.4 L331.0 2589.6 L334.0 2587.9 L337.0 2586.1 L340.0 2584.4 L343.0 2582.6 L346.0 2580.8 L349.0 2579.0 L352.0 2577.3 L355.0 2575.5 L358.0 2573.7 L361.0 2572.0 L364.0 2570.2 L367.0 2568.4 L370.0 2566.6 L373.0 2564.8 L376.0 2563.1 L379.0 2561.3 L382.0 2559.5 L385.0 2557.7 L388.0 2555.9 L391.0 2554.2 L394.0 2552.4 L397.0 2550.6 L400.0 2548.8 L403.0 2547.1 L406.0 2545.3 L409.0 2543.5 L412.0 2541.8 L415.0 2540.0 L418.0 2538.3 L421.0 2536.5 L424.0 2534.8 L427.0 2533.1 L430.0 2531.3 L433.0 2529.6 L436.0 2527.8 L439.0 2526.0 L442.0 2524.3 L445.0 2522.4 L448.0 2520.6 L451.0 2518.7 L454.0 2516.9 L457.0 2514.9 L460.0 2512.9 L463.0 2510.9 L466.0 2508.9 L469.0 2506.8 L472.0 2504.6 L475.0 2502.5 L478.0 2500.2 L481.0 2498.0 L484.0 2495.7 L487.0 2493.3 L490.0 2491.0 L493.0 2488.5 L496.0 2486.1 L499.0 2483.6 L502.0 2481.0 L505.0 2478.4 L508.0 2475.8 L511.0 2473.1 L514.0 2470.3 L517.0 2467.5 L520.0 2464.6 L523.0 2461.6 L526.0 2458.6 L529.0 2455.5 L532.0 2452.4 L535.0 2449.2 L538.0 2445.9 L541.0 2442.5 L544.0 2439.1 L547.0 2435.6 L550.0 2432.0 L553.0 2428.4 L556.0 2424.7 L559.0 2421.0 L562.0 2417.2 L565.0 2413.4 L568.0 2409.5 L571.0 2405.6 L574.0 2401.7 L577.0 2397.7 L580.0 2393.7 L583.0 2389.7 L586.0 2385.7 L589.0 2381.6 L592.0 2377.6 L595.0 2373.5 L598.0 2369.4 L601.0 2365.4 L604.0 2361.3 L607.0 2357.3 L610.0 2353.3 L613.0 2349.3 L616.0 2345.4 L619.0 2341.5 L622.0 2337.6 L625.0 2333.9 L628.0 2330.2 L631.0 2326.5 L634.0 2323.0 L637.0 2319.5 L640.0 2316.2 L643.0 2312.9 L646.0 2309.8 L649.0 2306.8 L652.0 2303.9 L655.0 2301.1 L658.0 2298.4 L661.0 2295.9 L664.0 2293.4 L667.0 2291.1 L670.0 2288.9 L673.0 2286.8 L676.0 2284.9 L679.0 2283.0 L682.0 2281.3 L685.0 2279.7 L688.0 2278.3 L691.0 2277.0 L694.0 2275.8 L697.0 2274.7 L700.0 2273.8 L703.0 2273.0 L706.0 2272.3 L709.0 2271.8 L712.0 2271.4 L715.0 2271.2 L718.0 2271.1 L721.0 2271.2 L724.0 2271.4 L727.0 2271.9 L730.0 2272.4 L733.0 2273.2 L736.0 2274.1 L739.0 2275.2 L742.0 2276.5 L745.0 2277.9 L748.0 2279.6 L751.0 2281.3 L754.0 2283.3 L757.0 2285.4 L760.0 2287.6 L763.0 2290.0 L766.0 2292.5 L769.0 2295.1 L772.0 2297.8 L775.0 2300.7 L778.0 2303.6 L781.0 2306.5 L784.0 2309.6 L787.0 2312.7 L790.0 2315.9 L793.0 2319.2 L796.0 2322.6 L799.0 2326.0 L802.0 2329.5 L805.0 2333.0 L808.0 2336.6 L811.0 2340.3 L814.0 2344.1 L817.0 2347.9 L820.0 2351.7 L823.0 2355.6 L826.0 2359.5 L829.0 2363.4 L832.0 2367.3 L835.0 2371.3 L838.0 2375.2 L841.0 2379.2 L844.0 2383.1 L847.0 2387.0 L850.0 2390.9 L853.0 2394.7 L855.9 2398.5 L858.9 2402.3 L861.9 2406.1 L864.9 2409.8 L867.9 2413.5 L870.9 2417.1 L873.9 2420.7 L876.9 2424.3 L879.9 2427.8 L882.9 2431.3 L885.9 2434.7 L888.9 2438.1 L891.9 2441.4 L894.9 2444.6 L897.9 2447.8 L900.9 2451.0 L903.9 2454.0 L906.9 2457.0 L909.9 2460.0 L912.9 2462.8 L915.9 2465.6 L918.9 2468.4 L921.9 2471.0 L924.9 2473.6 L927.9 2476.1 L930.9 2478.6 L933.9 2481.0 L936.9 2483.3 L939.9 2485.6 L942.9 2487.9 L945.9 2490.1 L948.9 2492.2 L951.9 2494.4 L954.9 2496.4 L957.9 2498.5 L960.9 2500.5 L963.9 2502.4 L966.9 2504.4 L969.9 2506.2 L972.9 2508.1 L975.9 2509.9 L978.9 2511.6 L981.9 2513.4 L984.9 2515.1 L987.9 2516.7 L990.9 2518.3 L993.9 2519.9 L996.9 2521.4 L999.9 2522.9 L1002.9 2524.4 L1005.9 2525.8 L1008.9 2527.2 L1011.9 2528.6 L1014.9 2529.9 L1017.9 2531.2 L1020.9 2532.5 L1023.9 2533.8 L1026.9 2535.0 L1029.9 2536.2 L1032.9 2537.4 L1035.9 2538.6 L1038.9 2539.8 L1041.9 2540.9 L1044.9 2542.1 L1047.9 2543.2 L1050.9 2544.4 L1053.9 2545.5 L1056.9 2546.7 L1059.9 2547.8 L1062.9 2549.0 L1065.9 2550.2 L1068.9 2551.3 L1071.9 2552.5 L1074.9 2553.7 L1077.9 2554.8 L1080.9 2556.0 L1083.9 2557.2 L1086.9 2558.4 L1089.9 2559.5 L1092.9 2560.7 L1095.9 2561.9 L1098.9 2563.1 L1101.9 2564.3 L1104.9 2565.6 L1107.9 2566.8 L1110.9 2568.0 L1113.9 2569.2 L1116.9 2570.5 L1119.9 2571.7 L1122.9 2573.0 L1125.9 2574.3 L1128.9 2575.5 L1131.9 2576.8 L1134.9 2578.1 L1137.9 2579.4 L1140.9 2580.7 L1143.9 2582.0 L1146.9 2583.4 L1149.9 2584.7 L1152.9 2586.0 L1155.9 2587.4 L1158.9 2588.8 L1161.9 2590.2 L1164.9 2591.5 L1167.9 2593.0 L1170.9 2594.4 L1173.9 2595.8 L1176.9 2597.2 L1179.9 2598.7 L1182.9 2600.1 L1185.9 2601.5 L1188.9 2603.1 L1208.2 2600.9 L1211.2 2602.3 L1214.2 2603.5 L1217.2 2604.9 L1220.2 2606.2 L1223.2 2607.6 L1226.2 2609.1 L1229.2 2610.5 L1232.2 2611.9 L1235.2 2613.4 L1238.2 2614.8 L1241.2 2616.3 L1244.2 2617.8 L1247.2 2619.2 L1250.2 2620.7 L1253.2 2622.2 L1256.2 2623.6 L1259.2 2625.1 L1262.2 2626.6 L1265.2 2628.0 L1268.2 2629.4 L1271.2 2630.9 L1274.2 2632.3 L1277.2 2633.7 L1280.2 2635.1 L1283.2 2636.5 L1286.2 2637.9 L1289.2 2639.3 L1292.2 2640.7 L1295.2 2642.0 L1298.2 2643.4 L1301.2 2644.7 L1304.2 2646.1 L1307.2 2647.4 L1310.2 2648.8 L1313.2 2650.1 L1316.2 2651.4 L1319.2 2652.7 L1322.2 2654.0 L1325.2 2655.3 L1328.2 2656.6 L1331.2 2657.9 L1334.2 2659.2 L1337.2 2660.4 L1340.2 2661.7 L1343.2 2662.9 L1346.2 2664.2 L1349.2 2665.4 L1352.2 2666.7 L1355.2 2667.9 L1358.2 2669.1 L1361.2 2670.4 L1364.2 2671.6 L1367.2 2672.8 L1370.2 2674.0 L1373.2 2675.2 L1376.2 2676.4 L1379.2 2677.6 L1382.2 2678.7 L1385.2 2679.9 L1388.2 2681.0 L1391.2 2682.2 L1409.9 2700.4 L1412.9 2701.5 L1415.9 2702.5 L1418.9 2703.5 L1421.9 2704.5 L1424.9 2705.5 L1427.9 2706.5 L1430.9 2707.5 L1433.9 2708.5 L1436.9 2709.5 L1439.9 2710.4 L1442.9 2711.3 L1445.9 2712.3 L1448.9 2713.2 L1451.9 2714.1 L1454.9 2714.9 L1457.9 2715.8 L1460.9 2716.6 L1463.9 2717.5 L1466.9 2718.3 L1469.9 2719.1 L1472.9 2719.8 L1475.9 2720.6 L1478.9 2721.3 L1481.9 2722.0 L1484.8 2722.7 L1487.8 2723.4 L1490.8 2724.1 L1493.8 2724.8 L1496.8 2725.4 L1499.8 2726.0 L1502.8 2726.6 L1505.8 2727.2 L1508.8 2727.8 L1511.8 2728.3 L1514.8 2728.9 L1517.8 2729.4 L1520.8 2729.9 L1523.8 2730.4 L1526.8 2730.9 L1529.8 2731.4 L1532.8 2731.8 L1535.8 2732.3 L1538.8 2732.7 L1541.8 2733.1 L1544.8 2733.5 L1547.8 2733.8 L1550.8 2734.2 L1553.8 2734.6 L1556.8 2734.9 L1559.8 2735.2 L1562.8 2735.5 L1565.8 2735.8 L1568.8 2736.1 L1571.8 2736.3 L1574.8 2736.6 L1577.8 2736.8 L1580.8 2737.1 L1583.8 2737.3 L1586.8 2737.5 L1589.8 2737.7 L1592.7 2737.9 L1595.7 2738.1 L1598.7 2738.3 L1601.7 2738.5 L1604.7 2738.7 L1607.7 2738.9 L1610.7 2739.1 L1613.7 2739.3 L1616.7 2739.5 L1619.7 2739.7 L1622.7 2739.9 L1625.7 2740.1 L1628.7 2740.3 L1631.7 2740.5 L1634.7 2740.6 L1637.7 2740.8 L1640.7 2741.0 L1643.7 2741.1 L1646.7 2741.3 L1649.7 2741.4 L1652.7 2741.6 L1655.7 2741.7 L1658.7 2741.9 L1661.7 2742.0 L1664.7 2742.2 L1667.7 2742.3 L1670.7 2742.4 L1673.7 2742.5 L1676.7 2742.6 L1679.7 2742.8 L1682.7 2742.9 L1685.7 2743.0 L1688.7 2743.1 L1691.7 2743.1 L1694.7 2743.2 L1697.7 2743.3 L1700.7 2743.4 L1703.6 2743.4 L1706.6 2743.5 L1709.6 2743.5 L1712.6 2743.6 L1715.6 2743.6 L1718.6 2743.7 L1721.6 2743.7 L1724.6 2743.7 L1727.6 2743.7 L1730.6 2743.7 L1733.6 2743.7 L1736.6 2743.7 L1739.6 2743.7 L1742.6 2743.7 L1745.6 2743.6 L1748.6 2743.6 L1751.6 2743.5 L1754.6 2743.5 L1755.6 2743.5" stroke="#ff9090"/>
<path d="M235.0 2641.4 L238.0 2639.5 L241.0 2637.9 L244.0 2636.1 L247.0 2634.3 L250.0 2632.6 L253.0 2630.8 L256.0 2629.0 L259.0 2627.3 L262.0 2625.5 L265.0 2623.7 L268.0 2622.0 L271.0 2620.2 L274.0 2618.4 L277.0 2616.7 L280.0 2614.9 L283.0 2613.1 L286.0 2611.4 L289.0 2609.6 L292.0 2607.8 L295.0 2606.1 L298.0 2604.3 L301.0 2602.5 L304.0 2600.7 L307.0 2599.0 L310.0 2597.2 L313.0 2595.4 L316.0 2593.7 L319.0 2591.9 L322.0 2590.1 L325.0 2588.3 L328.0 2586.6 L331.0 2584.8 L334.0 2583.0 L337.0 2581.2 L340.0 2579.4 L343.0 2577.6 L346.0 2575.8 L349.0 2574.0 L352.0 2572.3 L355.0 2570.5 L358.0 2568.7 L361.0 2566.9 L364.0 2565.1 L367.0 2563.3 L370.0 2561.5 L373.0 2559.6 L376.0 2557.8 L379.0 2556.0 L382.0 2554.2 L385.0 2552.4 L388.0 2550.6 L391.0 2548.8 L394.0 2547.0 L397.0 2545.2 L400.0 2543.4 L403.0 2541.6 L406.0 2539.8 L409.0 2538.0 L412.0 2536.2 L415.0 2534.4 L418.0 2532.7 L421.0 2530.9 L424.0 2529.1 L427.0 2527.4 L430.0 2525.6 L433.0 2523.8 L436.0 2522.1 L439.0 2520.3 L442.0 2518.5 L445.0 2516.7 L448.0 2514.9 L451.0 2513.0 L454.0 2511.2 L457.0 2509.3 L460.0 2507.3 L463.0 2505.4 L466.0 2503.4 L469.0 2501.3 L472.0 2499.2 L475.0 2497.1 L478.0 2495.0 L481.0 2492.8 L484.0 2490.5 L487.0 2488.3 L490.0 2486.0 L493.0 2483.6 L496.0 2481.2 L499.0 2478.8 L502.0 2476.3 L505.0 2473.7 L508.0 2471.1 L511.0 2468.5 L514.0 2465.8 L517.0 2463.0 L520.0 2460.1 L523.0 2457.2 L526.0 2454.2 L529.0 2451.1 L532.0 2448.0 L535.0 2444.8 L538.0 2441.5 L541.0 2438.1 L544.0 2434.7 L547.0 2431.1 L550.0 2427.6 L553.0 2423.9 L556.0 2420.2 L559.0 2416.5 L562.0 2412.7 L565.0 2408.8 L568.0 2404.9 L571.0 2401.0 L574.0 2397.0 L577.0 2393.1 L580.0 2389.0 L583.0 2385.0 L586.0 2380.9 L589.0 2376.9 L592.0 2372.8 L595.0 2368.7 L598.0 2364.7 L601.0 2360.6 L604.0 2356.5 L607.0 2352.5 L610.0 2348.5 L613.0 2344.5 L616.0 2340.5 L619.0 2336.6 L622.0 2332.8 L625.0 2329.0 L628.0 2325.3 L631.0 2321.6 L634.0 2318.1 L637.0 2314.6 L640.0 2311.3 L643.0 2308.0 L646.0 2304.8 L649.0 2301.8 L652.0 2298.9 L655.0 2296.1 L658.0 2293.4 L661.0 2290.9 L664.0 2288.4 L667.0 2286.1 L670.0 2284.0 L673.0 2281.9 L676.0 2280.0 L679.0 2278.2 L682.0 2276.6 L685.0 2275.1 L688.0 2273.7 L691.0 2272.5 L694.0 2271.4 L697.0 2270.5 L700.0 2269.7 L703.0 2269.1 L706.0 2268.7 L709.0 2268.4 L712.0 2268.2 L715.0 2268.3 L718.0 2268.5 L721.0 2268.9 L724.0 2269.5 L727.0 2270.2 L730.0 2271.2 L733.0 2272.4 L736.0 2273.8 L739.0 2275.3 L742.0 2277.2 L745.0 2279.2 L748.0 2281.4 L751.0 2283.8 L754.0 2286.5 L757.0 2289.3 L760.0 2292.4 L763.0 2295.6 L766.0 2299.0 L769.0 2302.5 L772.0 2306.2 L775.0 2310.1 L778.0 2314.1 L781.0 2318.2 L784.0 2322.4 L787.0 2326.8 L790.0 2331.2 L793.0 2335.8 L796.0 2340.4 L799.0 2345.2 L802.0 2350.1 L805.0 2355.1 L808.0 2360.1 L811.0 2365.3 L814.0 2370.5 L817.0 2375.8 L820.0 2381.2 L823.0 2386.6 L826.0 2392.0 L829.0 2397.4 L832.0 2402.8 L835.0 2408.1 L838.0 2413.4 L841.0 2418.7 L844.0 2423.9 L847.0 2429.0 L850.0 2434.1 L853.0 2439.1 L855.9 2444.0 L858.9 2448.8 L861.9 2453.6 L864.9 2458.3 L867.9 2462.9 L870.9 2467.5 L873.9 2472.0 L876.9 2476.4 L879.9 2480.7 L882.9 2485.0 L885.9 2489.2 L888.9 2493.4 L891.9 2497.4 L894.9 2501.4 L897.9 2505.4 L900.9 2509.2 L903.9 2513.0 L906.9 2516.7 L909.9 2520.4 L912.9 2524.0 L915.9 2527.5 L918.9 2530.9 L921.9 2534.2 L924.9 2537.5 L927.9 2540.7 L930.9 2543.8 L933.9 2546.8 L936.9 2549.8 L939.9 2552.6 L942.9 2555.4 L945.9 2558.1 L948.9 2560.8 L951.9 2563.3 L954.9 2565.8 L957.9 2568.2 L960.9 2570.5 L963.9 2572.8 L966.9 2574.9 L969.9 2577.1 L972.9 2579.1 L975.9 2581.1 L978.9 2583.0 L981.9 2584.9 L984.9 2586.7 L987.9 2588.4 L990.9 2590.1 L993.9 2591.8 L996.9 2593.4 L999.9 2594.9 L1002.9 2596.4 L1005.9 2597.9 L1008.9 2599.3 L1011.9 2600.6 L1014.9 2602.0 L1017.9 2603.3 L1020.9 2604.5 L1023.9 2605.8 L1026.9 2607.0 L1029.9 2608.2 L1032.9 2609.3 L1035.9 2610.5 L1038.9 2611.6 L1041.9 2612.7 L1044.9 2613.8 L1047.9 2614.9 L1050.9 2616.0 L1053.9 2617.0 L1056.9 2618.1 L1059.9 2619.1 L1062.9 2620.2 L1065.9 2621.2 L1068.9 2622.3 L1071.9 2623.3 L1074.9 2624.3 L1077.9 2625.4 L1080.9 2626.4 L1083.9 2627.5 L1086.9 2628.5 L1089.9 2629.5 L1092.9 2630.6 L1095.9 2631.6 L1098.9 2632.6 L1101.9 2633.7 L1104.9 2634.7 L1107.9 2635.7 L1110.9 2636.8 L1113.9 2637.8 L1116.9 2638.9 L1119.9 2639.9 L1122.9 2641.0 L1125.9 2642.0 L1128.9 2643.1 L1131.9 2644.2 L1134.9 2645.2 L1137.9 2646.3 L1140.9 2647.4 L1143.9 2648.5 L1146.9 2649.5 L1149.9 2650.6 L1152.9 2651.7 L1155.9 2652.8 L1158.9 2653.9 L1161.9 2655.0 L1164.9 2656.2 L1167.9 2657.3 L1170.9 2658.4 L1173.9 2659.6 L1176.9 2660.7 L1179.9 2661.9 L1182.9 2663.0 L1185.9 2664.1 L1188.9 2665.4 L1208.2 2662.8 L1211.2 2664.0 L1214.2 2665.0 L1217.2 2666.1 L1220.2 2667.2 L1223.2 2668.2 L1226.2 2669.3 L1229.2 2670.3 L1232.2 2671.3 L1235.2 2672.3 L1238.2 2673.3 L1241.2 2674.3 L1244.2 2675.3 L1247.2 2676.2 L1250.2 2677.2 L1253.2 2678.1 L1256.2 2679.0 L1259.2 2679.9 L1262.2 2680.8 L1265.2 2681.7 L1268.2 2682.5 L1271.2 2683.4 L1274.2 2684.2 L1277.2 2685.0 L1280.2 2685.9 L1283.2 2686.7 L1286.2 2687.4 L1289.2 2688.2 L1292.2 2689.0 L1295.2 2689.8 L1298.2 2690.5 L1301.2 2691.2 L1304.2 2692.0 L1307.2 2692.7 L1310.2 2693.4 L1313.2 2694.1 L1316.2 2694.8 L1319.2 2695.4 L1322.2 2696.1 L1325.2 2696.7 L1328.2 2697.4 L1331.2 2698.0 L1334.2 2698.6 L1337.2 2699.2 L1340.2 2699.8 L1343.2 2700.4 L1346.2 2701.0 L1349.2 2701.6 L1352.2 2702.1 L1355.2 2702.7 L1358.2 2703.2 L1361.2 2703.7 L1364.2 2704.3 L1367.2 2704.8 L1370.2 2705.3 L1373.2 2705.8 L1376.2 2706.3 L1379.2 2706.8 L1382.2 2707.3 L1385.2 2707.8 L1388.2 2708.2 L1391.2 2708.7 L1409.9 2725.2 L1412.9 2725.7 L1415.9 2726.1 L1418.9 2726.6 L1421.9 2727.0 L1424.9 2727.5 L1427.9 2727.9 L1430.9 2728.4 L1433.9 2728.8 L1436.9 2729.2 L1439.9 2729.7 L1442.9 2730.1 L1445.9 2730.5 L1448.9 2730.9 L1451.9 2731.3 L1454.9 2731.7 L1457.9 2732.1 L1460.9 2732.5 L1463.9 2732.8 L1466.9 2733.2 L1469.9 2733.5 L1472.9 2733.9 L1475.9 2734.2 L1478.9 2734.6 L1481.9 2734.9 L1484.8 2735.2 L1487.8 2735.5 L1490.8 2735.8 L1493.8 2736.1 L1496.8 2736.4 L1499.8 2736.6 L1502.8 2736.9 L1505.8 2737.2 L1508.8 2737.4 L1511.8 2737.7 L1514.8 2737.9 L1517.8 2738.1 L1520.8 2738.4 L1523.8 2738.6 L1526.8 2738.8 L1529.8 2739.0 L1532.8 2739.2 L1535.8 2739.4 L1538.8 2739.6 L1541.8 2739.7 L1544.8 2739.9 L1547.8 2740.1 L1550.8 2740.2 L1553.8 2740.4 L1556.8 2740.6 L1559.8 2740.7 L1562.8 2740.8 L1565.8 2741.0 L1568.8 2741.1 L1571.8 2741.2 L1574.8 2741.4 L1577.8 2741.5 L1580.8 2741.6 L1583.8 2741.7 L1586.8 2741.8 L1589.8 2741.9 L1592.7 2742.0 L1595.7 2742.1 L1598.7 2742.1 L1601.7 2742.2 L1604.7 2742.3 L1607.7 2742.4 L1610.7 2742.5 L1613.7 2742.5 L1616.7 2742.6 L1619.7 2742.7 L1622.7 2742.8 L1625.7 2742.9 L1628.7 2742.9 L1631.7 2743.0 L1634.7 2743.1 L1637.7 2743.2 L1640.7 2743.2 L1643.7 2743.3 L1646.7 2743.4 L1649.7 2743.4 L1652.7 2743.5 L1655.7 2743.6 L1658.7 2743.6 L1661.7 2743.7 L1664.7 2743.7 L1667.7 2743.8 L1670.7 2743.8 L1673.7 2743.9 L1676.7 2743.9 L1679.7 2744.0 L1682.7 2744.0 L1685.7 2744.1 L1688.7 2744.1 L1691.7 2744.1 L1694.7 2744.2 L1697.7 2744.2 L1700.7 2744.3 L1703.6 2744.3 L1706.6 2744.3 L1709.6 2744.3 L1712.6 2744.4 L1715.6 2744.4 L1718.6 2744.4 L1721.6 2744.4 L1724.6 2744.4 L1727.6 2744.5 L1730.6 2744.5 L1733.6 2744.5 L1736.6 2744.5 L1739.6 2744.5 L1742.6 2744.5 L1745.6 2744.5 L1748.6 2744.5 L1751.6 2744.5 L1754.6 2744.5 L1755.6 2744.5" stroke="#8000ff"/>
<path d="M235.0 2637.0 L238.0 2635.1 L241.0 2633.4 L244.0 2631.6 L247.0 2629.8 L250.0 2628.0 L253.0 2626.2 L256.0 2624.4 L259.0 2622.6 L262.0 2620.8 L265.0 2619.0 L268.0 2617.2 L271.0 2615.4 L274.0 2613.6 L277.0 2611.8 L280.0 2610.0 L283.0 2608.2 L286.0 2606.4 L289.0 2604.6 L292.0 2602.8 L295.0 2601.0 L298.0 2599.2 L301.0 2597.4 L304.0 2595.6 L307.0 2593.8 L310.0 2592.0 L313.0 2590.2 L316.0 2588.4 L319.0 2586.6 L322.0 2584.8 L325.0 2583.0 L328.0 2581.2 L331.0 2579.4 L334.0 2577.6 L337.0 2575.8 L340.0 2574.0 L343.0 2572.2 L346.0 2570.4 L349.0 2568.6 L352.0 2566.8 L355.0 2565.0 L358.0 2563.2 L361.0 2561.4 L364.0 2559.6 L367.0 2557.8 L370.0 2556.0 L373.0 2554.2 L376.0 2552.4 L379.0 2550.6 L382.0 2548.8 L385.0 2547.0 L388.0 2545.3 L391.0 2543.5 L394.0 2541.7 L397.0 2539.9 L400.0 2538.1 L403.0 2536.3 L406.0 2534.6 L409.0 2532.8 L412.0 2531.0 L415.0 2529.3 L418.0 2527.5 L421.0 2525.8 L424.0 2524.0 L427.0 2522.3 L430.0 2520.6 L433.0 2518.8 L436.0 2517.1 L439.0 2515.3 L442.0 2513.6 L445.0 2511.8 L448.0 2510.0 L451.0 2508.2 L454.0 2506.4 L457.0 2504.5 L460.0 2502.6 L463.0 2500.7 L466.0 2498.7 L469.0 2496.7 L472.0 2494.7 L475.0 2492.6 L478.0 2490.4 L481.0 2488.3 L484.0 2486.1 L487.0 2483.8 L490.0 2481.5 L493.0 2479.2 L496.0 2476.8 L499.0 2474.4 L502.0 2471.9 L505.0 2469.4 L508.0 2466.8 L511.0 2464.1 L514.0 2461.4 L517.0 2458.6 L520.0 2455.7 L523.0 2452.8 L526.0 2449.8 L529.0 2446.7 L532.0 2443.5 L535.0 2440.3 L538.0 2437.0 L541.0 2433.6 L544.0 2430.1 L547.0 2426.5 L550.0 2422.9 L553.0 2419.3 L556.0 2415.5 L559.0 2411.7 L562.0 2407.9 L565.0 2404.0 L568.0 2400.1 L571.0 2396.2 L574.0 2392.2 L577.0 2388.1 L580.0 2384.1 L583.0 2380.0 L586.0 2376.0 L589.0 2371.9 L592.0 2367.8 L595.0 2363.7 L598.0 2359.6 L601.0 2355.5 L604.0 2351.4 L607.0 2347.4 L610.0 2343.4 L613.0 2339.4 L616.0 2335.4 L619.0 2331.5 L622.0 2327.6 L625.0 2323.8 L628.0 2320.1 L631.0 2316.5 L634.0 2312.9 L637.0 2309.5 L640.0 2306.2 L643.0 2302.9 L646.0 2299.8 L649.0 2296.8 L652.0 2294.0 L655.0 2291.2 L658.0 2288.6 L661.0 2286.2 L664.0 2283.8 L667.0 2281.7 L670.0 2279.6 L673.0 2277.8 L676.0 2276.0 L679.0 2274.5 L682.0 2273.1 L685.0 2271.8 L688.0 2270.7 L691.0 2269.8 L694.0 2269.1 L697.0 2268.5 L700.0 2268.1 L703.0 2267.8 L706.0 2267.8 L709.0 2267.9 L712.0 2268.3 L715.0 2268.8 L718.0 2269.5 L721.0 2270.4 L724.0 2271.5 L727.0 2272.8 L730.0 2274.4 L733.0 2276.2 L736.0 2278.1 L739.0 2280.3 L742.0 2282.8 L745.0 2285.4 L748.0 2288.3 L751.0 2291.4 L754.0 2294.6 L757.0 2298.1 L760.0 2301.8 L763.0 2305.6 L766.0 2309.6 L769.0 2313.8 L772.0 2318.1 L775.0 2322.6 L778.0 2327.2 L781.0 2331.9 L784.0 2336.7 L787.0 2341.6 L790.0 2346.7 L793.0 2351.8 L796.0 2357.0 L799.0 2362.3 L802.0 2367.8 L805.0 2373.2 L808.0 2378.8 L811.0 2384.5 L814.0 2390.2 L817.0 2395.9 L820.0 2401.7 L823.0 2407.5 L826.0 2413.4 L829.0 2419.2 L832.0 2425.0 L835.0 2430.7 L838.0 2436.4 L841.0 2442.1 L844.0 2447.7 L847.0 2453.2 L850.0 2458.7 L853.0 2464.1 L855.9 2469.5 L858.9 2474.8 L861.9 2480.1 L864.9 2485.3 L867.9 2490.4 L870.9 2495.6 L873.9 2500.6 L876.9 2505.6 L879.9 2510.5 L882.9 2515.4 L885.9 2520.2 L888.9 2525.0 L891.9 2529.6 L894.9 2534.2 L897.9 2538.8 L900.9 2543.2 L903.9 2547.5 L906.9 2551.8 L909.9 2556.0 L912.9 2560.1 L915.9 2564.1 L918.9 2568.0 L921.9 2571.8 L924.9 2575.5 L927.9 2579.2 L930.9 2582.7 L933.9 2586.1 L936.9 2589.5 L939.9 2592.7 L942.9 2595.9 L945.9 2599.0 L948.9 2602.0 L951.9 2604.9 L954.9 2607.7 L957.9 2610.5 L960.9 2613.1 L963.9 2615.7 L966.9 2618.2 L969.9 2620.6 L972.9 2623.0 L975.9 2625.2 L978.9 2627.4 L981.9 2629.5 L984.9 2631.6 L987.9 2633.6 L990.9 2635.5 L993.9 2637.4 L996.9 2639.2 L999.9 2640.9 L1002.9 2642.6 L1005.9 2644.2 L1008.9 2645.8 L1011.9 2647.4 L1014.9 2648.9 L1017.9 2650.3 L1020.9 2651.7 L1023.9 2653.1 L1026.9 2654.4 L1029.9 2655.8 L1032.9 2657.0 L1035.9 2658.3 L1038.9 2659.5 L1041.9 2660.7 L1044.9 2661.9 L1047.9 2663.0 L1050.9 2664.1 L1053.9 2665.2 L1056.9 2666.3 L1059.9 2667.4 L1062.9 2668.4 L1065.9 2669.5 L1068.9 2670.5 L1071.9 2671.5 L1074.9 2672.5 L1077.9 2673.5 L1080.9 2674.4 L1083.9 2675.4 L1086.9 2676.3 L1089.9 2677.2 L1092.9 2678.1 L1095.9 2679.0 L1098.9 2679.9 L1101.9 2680.8 L1104.9 2681.6 L1107.9 2682.5 L1110.9 2683.3 L1113.9 2684.2 L1116.9 2685.0 L1119.9 2685.8 L1122.9 2686.6 L1125.9 2687.4 L1128.9 2688.2 L1131.9 2688.9 L1134.9 2689.7 L1137.9 2690.5 L1140.9 2691.2 L1143.9 2692.0 L1146.9 2692.7 L1149.9 2693.5 L1152.9 2694.2 L1155.9 2694.9 L1158.9 2695.6 L1161.9 2696.3 L1164.9 2697.1 L1167.9 2697.8 L1170.9 2698.5 L1173.9 2699.2 L1176.9 2699.9 L1179.9 2700.6 L1182.9 2701.3 L1185.9 2701.9 L1188.9 2702.7 L1208.2 2697.1 L1211.2 2697.9 L1214.2 2698.5 L1217.2 2699.2 L1220.2 2699.8 L1223.2 2700.4 L1226.2 2701.0 L1229.2 2701.6 L1232.2 2702.2 L1235.2 2702.8 L1238.2 2703.3 L1241.2 2703.9 L1244.2 2704.4 L1247.2 2704.9 L1250.2 2705.4 L1253.2 2705.9 L1256.2 2706.3 L1259.2 2706.8 L1262.2 2707.3 L1265.2 2707.7 L1268.2 2708.2 L1271.2 2708.6 L1274.2 2709.0 L1277.2 2709.5 L1280.2 2709.9 L1283.2 2710.3 L1286.2 2710.7 L1289.2 2711.1 L1292.2 2711.5 L1295.2 2711.9 L1298.2 2712.3 L1301.2 2712.7 L1304.2 2713.0 L1307.2 2713.4 L1310.2 2713.8 L1313.2 2714.1 L1316.2 2714.5 L1319.2 2714.8 L1322.2 2715.2 L1325.2 2715.5 L1328.2 2715.8 L1331.2 2716.1 L1334.2 2716.5 L1337.2 2716.8 L1340.2 2717.1 L1343.2 2717.4 L1346.2 2717.7 L1349.2 2718.0 L1352.2 2718.3 L1355.2 2718.5 L1358.2 2718.8 L1361.2 2719.1 L1364.2 2719.4 L1367.2 2719.7 L1370.2 2719.9 L1373.2 2720.2 L1376.2 2720.5 L1379.2 2720.7 L1382.2 2721.0 L1385.2 2721.3 L1388.2 2721.5 L1391.2 2721.8 L1409.9 2732.8 L1412.9 2733.1 L1415.9 2733.3 L1418.9 2733.6 L1421.9 2733.9 L1424.9 2734.1 L1427.9 2734.4 L1430.9 2734.7 L1433.9 2734.9 L1436.9 2735.2 L1439.9 2735.4 L1442.9 2735.7 L1445.9 2735.9 L1448.9 2736.1 L1451.9 2736.4 L1454.9 2736.6 L1457.9 2736.8 L1460.9 2737.0 L1463.9 2737.3 L1466.9 2737.5 L1469.9 2737.7 L1472.9 2737.9 L1475.9 2738.1 L1478.9 2738.3 L1481.9 2738.5 L1484.8 2738.6 L1487.8 2738.8 L1490.8 2739.0 L1493.8 2739.2 L1496.8 2739.3 L1499.8 2739.5 L1502.8 2739.7 L1505.8 2739.8 L1508.8 2740.0 L1511.8 2740.1 L1514.8 2740.3 L1517.8 2740.4 L1520.8 2740.5 L1523.8 2740.7 L1526.8 2740.8 L1529.8 2740.9 L1532.8 2741.0 L1535.8 2741.1 L1538.8 2741.2 L1541.8 2741.4 L1544.8 2741.5 L1547.8 2741.6 L1550.8 2741.7 L1553.8 2741.8 L1556.8 2741.9 L1559.8 2742.0 L1562.8 2742.1 L1565.8 2742.1 L1568.8 2742.2 L1571.8 2742.3 L1574.8 2742.4 L1577.8 2742.5 L1580.8 2742.6 L1583.8 2742.6 L1586.8 2742.7 L1589.8 2742.8 L1592.7 2742.8 L1595.7 2742.9 L1598.7 2743.0 L1601.7 2743.0 L1604.7 2743.1 L1607.7 2743.2 L1610.7 2743.2 L1613.7 2743.3 L1616.7 2743.3 L1619.7 2743.4 L1622.7 2743.5 L1625.7 2743.5 L1628.7 2743.6 L1631.7 2743.6 L1634.7 2743.7 L1637.7 2743.7 L1640.7 2743.8 L1643.7 2743.8 L1646.7 2743.9 L1649.7 2743.9 L1652.7 2744.0 L1655.7 2744.0 L1658.7 2744.1 L1661.7 2744.1 L1664.7 2744.2 L1667.7 2744.2 L1670.7 2744.3 L1673.7 2744.3 L1676.7 2744.3 L1679.7 2744.4 L1682.7 2744.4 L1685.7 2744.4 L1688.7 2744.5 L1691.7 2744.5 L1694.7 2744.5 L1697.7 2744.6 L1700.7 2744.6 L1703.6 2744.6 L1706.6 2744.6 L1709.6 2744.7 L1712.6 2744.7 L1715.6 2744.7 L1718.6 2744.7 L1721.6 2744.7 L1724.6 2744.7 L1727.6 2744.8 L1730.6 2744.8 L1733.6 2744.8 L1736.6 2744.8 L1739.6 2744.8 L1742.6 2744.8 L1745.6 2744.8 L1748.6 2744.8 L1751.6 2744.8 L1754.6 2744.8 L1755.6 2744.8" stroke="#800080"/>
</g>
<text transform="translate(995.3 2918.3) scale(1 1.065)" font-size="58" text-anchor="middle">Wavelength (nm)</text>
<text transform="translate(73.0 2138.0) rotate(-90) scale(1 1.065)" font-size="58" text-anchor="middle">Absorbance</text>
<text transform="translate(245.5 1583.5) scale(1 1.065)" font-size="58.5">(c)</text>
<rect x="1519.7" y="1739.2" width="200.0" height="476.8" fill="#000"/>
<rect x="1502.2" y="1721.7" width="198.5" height="477.3" fill="#fff" stroke="#4a4a4a" stroke-width="2.4"/>
<text transform="translate(1639.7 1708.5) scale(1 1.065)" font-size="47.5">min</text>
<line x1="1505.2" y1="1755.1" x2="1618.7" y2="1755.1" stroke="#ff0000" stroke-width="5.8"/>
<text transform="translate(1628.7 1772.6) scale(1 1.065)" font-size="46.5">-30</text>
<line x1="1505.2" y1="1813.6" x2="1618.7" y2="1813.6" stroke="#ff80ff" stroke-width="5.8"/>
<text transform="translate(1628.7 1831.1) scale(1 1.065)" font-size="46.5">00</text>
<line x1="1505.2" y1="1872.2" x2="1618.7" y2="1872.2" stroke="#0010c0" stroke-width="5.8"/>
<text transform="translate(1628.7 1889.7) scale(1 1.065)" font-size="46.5">15</text>
<line x1="1505.2" y1="1930.7" x2="1618.7" y2="1930.7" stroke="#fa0082" stroke-width="5.8"/>
<text transform="translate(1628.7 1948.2) scale(1 1.065)" font-size="46.5">30</text>
<line x1="1505.2" y1="1989.2" x2="1618.7" y2="1989.2" stroke="#0f960f" stroke-width="5.8"/>
<text transform="translate(1628.7 2006.7) scale(1 1.065)" font-size="46.5">45</text>
<line x1="1505.2" y1="2047.8" x2="1618.7" y2="2047.8" stroke="#ff9090" stroke-width="5.8"/>
<text transform="translate(1628.7 2065.2) scale(1 1.065)" font-size="46.5">60</text>
<line x1="1505.2" y1="2106.3" x2="1618.7" y2="2106.3" stroke="#8000ff" stroke-width="5.8"/>
<text transform="translate(1628.7 2123.8) scale(1 1.065)" font-size="46.5">75</text>
<line x1="1505.2" y1="2164.8" x2="1618.7" y2="2164.8" stroke="#800080" stroke-width="5.8"/>
<text transform="translate(1628.7 2182.3) scale(1 1.065)" font-size="46.5">90</text>
</svg>
</body></html>
